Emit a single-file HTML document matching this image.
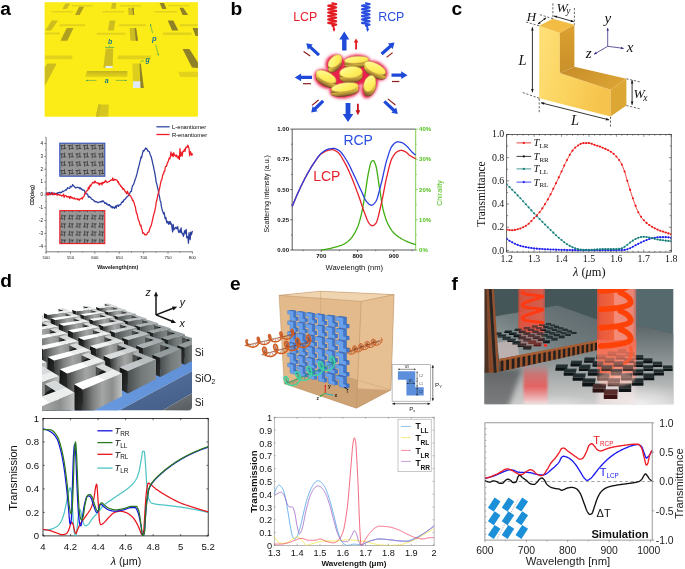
<!DOCTYPE html>
<html><head><meta charset="utf-8"><title>Figure</title>
<style>html,body{margin:0;padding:0;background:#fff}svg{display:block}text{white-space:pre}</style></head>
<body><svg width="685" height="569" viewBox="0 0 685 569">
<defs><linearGradient id="gaSlot" x1="0" y1="0" x2="0" y2="1"><stop offset="0" stop-color="#c4b41e"/><stop offset="1" stop-color="#e6d61a"/></linearGradient><filter id="fbB1" x="-20%" y="-20%" width="140%" height="140%"><feGaussianBlur stdDeviation="0.9"/></filter><filter id="fbB2" x="-30%" y="-30%" width="160%" height="160%"><feGaussianBlur stdDeviation="1.8"/></filter><radialGradient id="gbGlow"><stop offset="0" stop-color="#f03050" stop-opacity="0.95"/><stop offset="0.55" stop-color="#f4506a" stop-opacity="0.85"/><stop offset="0.8" stop-color="#f88aa0" stop-opacity="0.5"/><stop offset="1" stop-color="#ffd0d8" stop-opacity="0"/></radialGradient><linearGradient id="gbTop" x1="0" y1="0" x2="1" y2="1"><stop offset="0" stop-color="#fffba8"/><stop offset="0.55" stop-color="#fff060"/><stop offset="1" stop-color="#f6dc48"/></linearGradient><linearGradient id="gbSide" x1="0" y1="0" x2="0" y2="1"><stop offset="0" stop-color="#f0dc44"/><stop offset="0.35" stop-color="#e6cc3e"/><stop offset="0.6" stop-color="#c9a83a"/><stop offset="0.85" stop-color="#a07a32"/><stop offset="1" stop-color="#7a4e2a"/></linearGradient><linearGradient id="gcFront" x1="0" y1="0" x2="1" y2="0.3"><stop offset="0" stop-color="#ffe07a"/><stop offset="0.5" stop-color="#fbd460"/><stop offset="1" stop-color="#f6c44c"/></linearGradient><linearGradient id="gcSide" x1="0" y1="0" x2="0" y2="1"><stop offset="0" stop-color="#dca130"/><stop offset="1" stop-color="#c98f2a"/></linearGradient><linearGradient id="gcTop2" x1="0" y1="0" x2="1" y2="0.4"><stop offset="0" stop-color="#c58c2a"/><stop offset="1" stop-color="#dba233"/></linearGradient><clipPath id="clipDI"><path d="M42,296 H192 V406.5 Q192,410.4 188,410.4 H42 Z"/></clipPath><linearGradient id="gdSide" x1="0" y1="0" x2="1" y2="0"><stop offset="0" stop-color="#3a3c3c"/><stop offset="0.25" stop-color="#7c7e7e"/><stop offset="0.5" stop-color="#a4a6a6"/><stop offset="0.75" stop-color="#8c8e8e"/><stop offset="1" stop-color="#c0c2c2"/></linearGradient><linearGradient id="gdSideF" x1="0" y1="0" x2="1" y2="0"><stop offset="0" stop-color="#4a4e4e"/><stop offset="0.5" stop-color="#747a7a"/><stop offset="1" stop-color="#868c8c"/></linearGradient><linearGradient id="gdEnd" x1="0" y1="0" x2="1" y2="1"><stop offset="0" stop-color="#101010"/><stop offset="1" stop-color="#303232"/></linearGradient><linearGradient id="gdB1" x1="0" y1="1" x2="1" y2="0"><stop offset="0" stop-color="#6c9de2"/><stop offset="1" stop-color="#5f8fd6"/></linearGradient><linearGradient id="gdB2" x1="0" y1="0" x2="0.5" y2="1"><stop offset="0" stop-color="#55749f"/><stop offset="1" stop-color="#46608a"/></linearGradient><linearGradient id="gdB3" x1="0" y1="0" x2="0.5" y2="1"><stop offset="0" stop-color="#70787e"/><stop offset="1" stop-color="#5c6064"/></linearGradient><clipPath id="clipFI"><rect x="484.4" y="288.9" width="189" height="115.4"/></clipPath><filter id="fb1" x="-20%" y="-20%" width="140%" height="140%"><feGaussianBlur stdDeviation="1.1"/></filter><filter id="fb2" x="-30%" y="-30%" width="160%" height="160%"><feGaussianBlur stdDeviation="2.6"/></filter><filter id="fb05" x="-10%" y="-10%" width="120%" height="120%"><feGaussianBlur stdDeviation="0.45"/></filter><linearGradient id="gfFloor" x1="0" y1="0" x2="0" y2="1"><stop offset="0" stop-color="#5b6567"/><stop offset="0.35" stop-color="#80888a"/><stop offset="0.75" stop-color="#b4b6b6"/><stop offset="1" stop-color="#cfcfcf"/></linearGradient><linearGradient id="gfBeamR" x1="0" y1="0" x2="1" y2="0"><stop offset="0" stop-color="#e8503a" stop-opacity="0.75"/><stop offset="0.08" stop-color="#f05a3a" stop-opacity="0.95"/><stop offset="0.42" stop-color="#f2643e"/><stop offset="0.45" stop-color="#f58c78"/><stop offset="0.92" stop-color="#f08878" stop-opacity="0.95"/><stop offset="1" stop-color="#d87a70" stop-opacity="0.7"/></linearGradient><linearGradient id="gfBeamL" x1="0" y1="0" x2="1" y2="0"><stop offset="0" stop-color="#d84a38" stop-opacity="0.7"/><stop offset="0.1" stop-color="#e2523c" stop-opacity="0.92"/><stop offset="0.9" stop-color="#e0604c" stop-opacity="0.92"/><stop offset="1" stop-color="#c85a50" stop-opacity="0.7"/></linearGradient><linearGradient id="gfBeamFade" x1="0" y1="0" x2="0" y2="1"><stop offset="0" stop-color="#f26a50" stop-opacity="0.95"/><stop offset="0.45" stop-color="#f47a62" stop-opacity="0.8"/><stop offset="1" stop-color="#f8a090" stop-opacity="0"/></linearGradient><linearGradient id="gfFadeDown" x1="0" y1="0" x2="0" y2="1"><stop offset="0" stop-color="#fff"/><stop offset="0.72" stop-color="#fff"/><stop offset="1" stop-color="#000"/></linearGradient><linearGradient id="gfRefl" x1="0" y1="0" x2="0" y2="1"><stop offset="0" stop-color="#e84a48" stop-opacity="0"/><stop offset="0.25" stop-color="#ea4a48" stop-opacity="0.55"/><stop offset="0.55" stop-color="#f04c4c" stop-opacity="0.8"/><stop offset="0.8" stop-color="#f4a0a0" stop-opacity="0.8"/><stop offset="1" stop-color="#f6eaea" stop-opacity="0.9"/></linearGradient><linearGradient id="gfMirFloor" x1="1" y1="0" x2="0" y2="1"><stop offset="0" stop-color="#5a6669"/><stop offset="0.55" stop-color="#727e80"/><stop offset="1" stop-color="#a0a8a8"/></linearGradient><radialGradient id="gfSpot" cx="0.5" cy="0.5" r="0.5"><stop offset="0" stop-color="#ffffff" stop-opacity="0.95"/><stop offset="0.5" stop-color="#f4f0f0" stop-opacity="0.6"/><stop offset="1" stop-color="#e0e0e0" stop-opacity="0"/></radialGradient></defs>
<rect width="685" height="569" fill="#fff"/>
<text x="0.2" y="14.8" font-family='"Liberation Sans", sans-serif' font-size="19.2" fill="#000" text-anchor="start" font-weight="bold" font-style="normal" >a</text>
<text x="230.4" y="15" font-family='"Liberation Sans", sans-serif' font-size="19.2" fill="#000" text-anchor="start" font-weight="bold" font-style="normal" >b</text>
<text x="451.6" y="14.9" font-family='"Liberation Sans", sans-serif' font-size="19.2" fill="#000" text-anchor="start" font-weight="bold" font-style="normal" >c</text>
<text x="0.2" y="286.5" font-family='"Liberation Sans", sans-serif' font-size="19.2" fill="#000" text-anchor="start" font-weight="bold" font-style="normal" >d</text>
<text x="230" y="290.1" font-family='"Liberation Sans", sans-serif' font-size="19.2" fill="#000" text-anchor="start" font-weight="bold" font-style="normal" >e</text>
<text x="451.5" y="290" font-family='"Liberation Sans", sans-serif' font-size="19.2" fill="#000" text-anchor="start" font-weight="bold" font-style="normal" >f</text>
<g id="pa">
<rect x="44.6" y="2.2" width="153.3" height="114.5" fill="#fbec17" />
<clipPath id="clipA"><rect x="44.6" y="2.2" width="153.3" height="114.5"/></clipPath>
<g clip-path="url(#clipA)">
<polygon points="72.2,5 92.7,5 92.3,6.5 71.6,6.5" fill="#e2d21b" />
<polygon points="51.8,10.9 72.9,10.9 72.5,12.4 51.2,12.4" fill="#e2d21b" />
<polygon points="120.6,5 141,5 140.6,6.5 120,6.5" fill="#e2d21b" />
<polygon points="102.6,10.9 124.3,10.9 123.9,12.4 102,12.4" fill="#e2d21b" />
<polygon points="168.3,5 189.4,5 189,6.2 167.7,6.2" fill="#e2d21b" />
<polygon points="154.6,10.9 177,10.9 176.6,12.4 154,12.4" fill="#e2d21b" />
<polygon points="59.8,24.2 85.3,24.2 84.9,26.3 59.2,26.3" fill="#e2d21b" />
<polygon points="45.2,32.5 59.9,32.5 59.5,34.5 44.6,34.5" fill="#e2d21b" />
<polygon points="119.3,24.2 146,24.2 145.6,26.3 118.7,26.3" fill="#e2d21b" />
<polygon points="97.1,32.7 125.5,32.7 125.1,34.7 96.5,34.7" fill="#e2d21b" />
<polygon points="180.1,24.2 198,24.2 197.6,26.3 179.5,26.3" fill="#e2d21b" />
<polygon points="163.4,32.5 191.9,32.5 191.5,35 162.8,35" fill="#e2d21b" />
<polygon points="45.2,55.4 72.5,55.4 72.1,59.2 44.6,59.2" fill="#e2d21b" />
<polygon points="118.1,55.4 151,55.4 150.6,59.3 117.5,59.3" fill="#e2d21b" />
<polygon points="87.1,71.1 127.4,71.1 127.4,77.1 85.3,77.1" fill="url(#gaSlot)" />
<polygon points="178.3,71.7 198,71.7 198,77.1 180.1,77.1" fill="#e2d21b" />
<polygon points="65.4,3.5 70.4,3.5 66.7,8.9 62.3,8.9" fill="#cdbd20" />
<polygon points="79.1,6.8 84,6.8 79.7,15.1 75,15.1" fill="#b0a01f" />
<polygon points="112,3.1 116.3,3.1 115.7,8.7 111,8.7" fill="#cdbd20" />
<polygon points="128,7.7 133.6,7.7 134.2,15.1 128.6,15.1" fill="#cdbd20" />
<polygon points="132.2,7.7 133.6,7.7 134.2,15.1 133.2,15.1" fill="#8f8128" />
<polygon points="159.6,3.1 164,3.1 166.5,8.9 162.3,8.9" fill="#8f8128" />
<polygon points="179.5,7.7 183.2,7.7 188.2,14.9 182.6,14.9" fill="#8f8128" />
<polygon points="51.8,20.5 58,20.5 51.2,30.4 45.2,30.4" fill="#cdbd20" />
<polygon points="66.7,27.9 73.5,27.9 67.3,40.7 60.5,40.7" fill="#b0a01f" />
<polygon points="109.5,20.5 115.4,20.5 113.8,30.4 108,30.4" fill="#cdbd20" />
<polygon points="129.6,27.9 136.1,27.9 138,40.7 130.5,40.7" fill="#cdbd20" />
<polygon points="134.6,27.9 136.1,27.9 138,40.7 135.8,40.7" fill="#8f8128" />
<polygon points="167.7,20.5 173.3,20.5 178.3,30.4 172.1,30.4" fill="#8f8128" />
<polygon points="192.5,27.9 198,27.9 198,36 195.6,36" fill="#8f8128" />
<polygon points="182.6,49 189.4,49 198,62.5 198,68 192,67.4" fill="#8f8128" />
<polygon points="47.4,63.4 56.7,63.4 44.6,86.6 44.6,67.4" fill="#cdbd20" />
<polygon points="105.8,48.4 113.2,48.4 112.6,68 103.3,68" fill="#cdbd20" />
<polygon points="132.4,63.4 140.4,63.4 143.8,87.9 133,87.9" fill="#ddcd1c" />
<polygon points="139.6,63.4 140.8,63.4 143.8,87.9 140.4,87.9" fill="#8f8128" />
<polygon points="98.3,104.6 108.9,104.6 108.2,116.7 95.8,116.7" fill="#d6c61d" />
<polygon points="98.3,104.6 101,104.6 99,116.7 95.8,116.7" fill="#cdbd20" />
<polygon points="105.6,65.9 112.6,65.9 112.6,68 105.2,68" fill="#e6eefc" />
<polygon points="133,81.3 140.2,81.3 140.4,87.9 133,87.9" fill="#dfe9f8" />
</g>
<text x="110.1" y="44.3" font-family='"Liberation Sans", sans-serif' font-size="7" fill="#1a7a8a" text-anchor="middle" font-weight="bold" font-style="italic" >b</text>
<line x1="105.1" y1="47.4" x2="114.2" y2="47.4" stroke="#1d8f6a" stroke-width="0.6" />
<line x1="109.7" y1="45.4" x2="109.7" y2="47.4" stroke="#1d8f6a" stroke-width="0.5" />
<text x="154.3" y="41" font-family='"Liberation Sans", sans-serif' font-size="7.5" fill="#1c6fa0" text-anchor="middle" font-weight="bold" font-style="italic" >p</text>
<line x1="150.4" y1="24.2" x2="152.6" y2="33" stroke="#1d8f6a" stroke-width="0.5" />
<line x1="155.6" y1="44.5" x2="158.4" y2="55.2" stroke="#1d8f6a" stroke-width="0.5" />
<polygon points="150.3,23.8 151.42,25.38 150.06,25.72" fill="#1d8f6a" />
<polygon points="158.5,55.6 157.38,54.02 158.74,53.68" fill="#1d8f6a" />
<text x="147.6" y="62.3" font-family='"Liberation Sans", sans-serif' font-size="7" fill="#1a7a8a" text-anchor="middle" font-weight="bold" font-style="italic" >g</text>
<line x1="140.4" y1="61.2" x2="144.2" y2="61" stroke="#1d8f6a" stroke-width="0.5" />
<text x="106.6" y="82.6" font-family='"Liberation Sans", sans-serif' font-size="7" fill="#1a7a8a" text-anchor="middle" font-weight="bold" font-style="italic" >a</text>
<line x1="86.3" y1="80.4" x2="96.5" y2="80.4" stroke="#1d8f6a" stroke-width="0.5" />
<line x1="115.7" y1="80.4" x2="126.4" y2="80.4" stroke="#1d8f6a" stroke-width="0.5" />
<polygon points="85.7,80.4 87.5,79.7 87.5,81.1" fill="#1d8f6a" />
<polygon points="127,80.4 125.2,81.1 125.2,79.7" fill="#1d8f6a" />
<line x1="46.1" y1="137.3" x2="46.1" y2="251.8" stroke="#222" stroke-width="0.6" />
<line x1="46.1" y1="251.8" x2="192.7" y2="251.8" stroke="#222" stroke-width="0.6" />
<line x1="44.3" y1="246.26" x2="46.1" y2="246.26" stroke="#222" stroke-width="0.5" />
<text x="43.1" y="247.66" font-family='"Liberation Sans", sans-serif' font-size="4.5" fill="#111" text-anchor="end" font-weight="normal" font-style="normal" >-4</text>
<line x1="44.3" y1="233.42" x2="46.1" y2="233.42" stroke="#222" stroke-width="0.5" />
<text x="43.1" y="234.82" font-family='"Liberation Sans", sans-serif' font-size="4.5" fill="#111" text-anchor="end" font-weight="normal" font-style="normal" >-3</text>
<line x1="44.3" y1="220.58" x2="46.1" y2="220.58" stroke="#222" stroke-width="0.5" />
<text x="43.1" y="221.98" font-family='"Liberation Sans", sans-serif' font-size="4.5" fill="#111" text-anchor="end" font-weight="normal" font-style="normal" >-2</text>
<line x1="44.3" y1="207.74" x2="46.1" y2="207.74" stroke="#222" stroke-width="0.5" />
<text x="43.1" y="209.14" font-family='"Liberation Sans", sans-serif' font-size="4.5" fill="#111" text-anchor="end" font-weight="normal" font-style="normal" >-1</text>
<line x1="44.3" y1="194.9" x2="46.1" y2="194.9" stroke="#222" stroke-width="0.5" />
<text x="43.1" y="196.3" font-family='"Liberation Sans", sans-serif' font-size="4.5" fill="#111" text-anchor="end" font-weight="normal" font-style="normal" >0</text>
<line x1="44.3" y1="182.06" x2="46.1" y2="182.06" stroke="#222" stroke-width="0.5" />
<text x="43.1" y="183.46" font-family='"Liberation Sans", sans-serif' font-size="4.5" fill="#111" text-anchor="end" font-weight="normal" font-style="normal" >1</text>
<line x1="44.3" y1="169.22" x2="46.1" y2="169.22" stroke="#222" stroke-width="0.5" />
<text x="43.1" y="170.62" font-family='"Liberation Sans", sans-serif' font-size="4.5" fill="#111" text-anchor="end" font-weight="normal" font-style="normal" >2</text>
<line x1="44.3" y1="156.38" x2="46.1" y2="156.38" stroke="#222" stroke-width="0.5" />
<text x="43.1" y="157.78" font-family='"Liberation Sans", sans-serif' font-size="4.5" fill="#111" text-anchor="end" font-weight="normal" font-style="normal" >3</text>
<line x1="44.3" y1="143.54" x2="46.1" y2="143.54" stroke="#222" stroke-width="0.5" />
<text x="43.1" y="144.94" font-family='"Liberation Sans", sans-serif' font-size="4.5" fill="#111" text-anchor="end" font-weight="normal" font-style="normal" >4</text>
<line x1="45.1" y1="252.68" x2="46.1" y2="252.68" stroke="#222" stroke-width="0.4" />
<line x1="45.1" y1="239.84" x2="46.1" y2="239.84" stroke="#222" stroke-width="0.4" />
<line x1="45.1" y1="227" x2="46.1" y2="227" stroke="#222" stroke-width="0.4" />
<line x1="45.1" y1="214.16" x2="46.1" y2="214.16" stroke="#222" stroke-width="0.4" />
<line x1="45.1" y1="201.32" x2="46.1" y2="201.32" stroke="#222" stroke-width="0.4" />
<line x1="45.1" y1="188.48" x2="46.1" y2="188.48" stroke="#222" stroke-width="0.4" />
<line x1="45.1" y1="175.64" x2="46.1" y2="175.64" stroke="#222" stroke-width="0.4" />
<line x1="45.1" y1="162.8" x2="46.1" y2="162.8" stroke="#222" stroke-width="0.4" />
<line x1="45.1" y1="149.96" x2="46.1" y2="149.96" stroke="#222" stroke-width="0.4" />
<line x1="45.1" y1="137.12" x2="46.1" y2="137.12" stroke="#222" stroke-width="0.4" />
<line x1="46.1" y1="251.8" x2="46.1" y2="253.8" stroke="#222" stroke-width="0.5" />
<text x="46.1" y="258.6" font-family='"Liberation Sans", sans-serif' font-size="4.3" fill="#111" text-anchor="middle" font-weight="normal" font-style="normal" >500</text>
<line x1="70.48" y1="251.8" x2="70.48" y2="253.8" stroke="#222" stroke-width="0.5" />
<text x="70.48" y="258.6" font-family='"Liberation Sans", sans-serif' font-size="4.3" fill="#111" text-anchor="middle" font-weight="normal" font-style="normal" >550</text>
<line x1="94.87" y1="251.8" x2="94.87" y2="253.8" stroke="#222" stroke-width="0.5" />
<text x="94.87" y="258.6" font-family='"Liberation Sans", sans-serif' font-size="4.3" fill="#111" text-anchor="middle" font-weight="normal" font-style="normal" >600</text>
<line x1="119.25" y1="251.8" x2="119.25" y2="253.8" stroke="#222" stroke-width="0.5" />
<text x="119.25" y="258.6" font-family='"Liberation Sans", sans-serif' font-size="4.3" fill="#111" text-anchor="middle" font-weight="normal" font-style="normal" >650</text>
<line x1="143.63" y1="251.8" x2="143.63" y2="253.8" stroke="#222" stroke-width="0.5" />
<text x="143.63" y="258.6" font-family='"Liberation Sans", sans-serif' font-size="4.3" fill="#111" text-anchor="middle" font-weight="normal" font-style="normal" >700</text>
<line x1="168.02" y1="251.8" x2="168.02" y2="253.8" stroke="#222" stroke-width="0.5" />
<text x="168.02" y="258.6" font-family='"Liberation Sans", sans-serif' font-size="4.3" fill="#111" text-anchor="middle" font-weight="normal" font-style="normal" >750</text>
<line x1="192.4" y1="251.8" x2="192.4" y2="253.8" stroke="#222" stroke-width="0.5" />
<text x="192.4" y="258.6" font-family='"Liberation Sans", sans-serif' font-size="4.3" fill="#111" text-anchor="middle" font-weight="normal" font-style="normal" >800</text>
<line x1="58.29" y1="251.8" x2="58.29" y2="252.9" stroke="#222" stroke-width="0.4" />
<line x1="82.68" y1="251.8" x2="82.68" y2="252.9" stroke="#222" stroke-width="0.4" />
<line x1="107.06" y1="251.8" x2="107.06" y2="252.9" stroke="#222" stroke-width="0.4" />
<line x1="131.44" y1="251.8" x2="131.44" y2="252.9" stroke="#222" stroke-width="0.4" />
<line x1="155.82" y1="251.8" x2="155.82" y2="252.9" stroke="#222" stroke-width="0.4" />
<line x1="180.21" y1="251.8" x2="180.21" y2="252.9" stroke="#222" stroke-width="0.4" />
<text x="117.7" y="269.3" font-family='"Liberation Sans", sans-serif' font-size="5.3" fill="#111" text-anchor="middle" font-weight="bold" font-style="normal" >Wavelength(nm)</text>
<text x="0" y="0" font-family='"Liberation Sans", sans-serif' font-size="5.3" fill="#111" text-anchor="middle" font-weight="bold" font-style="normal" transform="translate(34.2,195.3) rotate(-90)" >CD(deg)</text>
<line x1="156.4" y1="126.8" x2="169.6" y2="126.8" stroke="#3048a8" stroke-width="1.3" />
<text x="172" y="128.8" font-family='"Liberation Sans", sans-serif' font-size="5.8" fill="#000" text-anchor="start" font-weight="normal" font-style="normal" >L-enantiomer</text>
<line x1="156.4" y1="134.5" x2="169.6" y2="134.5" stroke="#ee1c25" stroke-width="1.3" />
<text x="172" y="136.6" font-family='"Liberation Sans", sans-serif' font-size="5.8" fill="#000" text-anchor="start" font-weight="normal" font-style="normal" >R-enantiomer</text>
<polyline points="46.1,192.57 46.66,193.95 47.23,193.85 47.79,194.16 48.36,192.88 48.92,194.88 49.49,192.26 50.05,193.86 50.62,193.16 51.18,193.52 51.75,192.44 52.31,194.73 52.88,193.65 53.44,193.74 54.01,192.81 54.57,194.28 55.14,193.71 55.7,194.18 56.27,193.57 56.83,193.16 57.4,194.14 57.96,192.55 58.53,192.53 59.09,192.6 59.66,192.14 60.22,192.95 60.79,192.39 61.35,192.69 61.92,192 62.48,191.2 63.05,191.67 63.61,191.15 64.18,191.01 64.74,190.78 65.31,190.36 65.87,189.63 66.44,190.05 67,188.88 67.56,187.67 68.13,187.96 68.69,188.26 69.26,188.41 69.82,188.02 70.39,186.16 70.95,186.88 71.52,186.93 72.08,186.04 72.65,184.59 73.21,185.87 73.78,185.81 74.34,186.39 74.91,187.2 75.47,187.97 76.04,187.64 76.6,187.7 77.17,187.31 77.73,187.27 78.3,187.33 78.86,187.87 79.43,187.64 79.99,188.87 80.56,187.82 81.12,188.6 81.69,189.5 82.25,189.43 82.82,190.27 83.38,190 83.95,190.27 84.51,190.37 85.08,193.19 85.64,193.76 86.21,193.74 86.77,193.92 87.34,194.09 87.9,195.09 88.46,197.22 89.03,196.72 89.59,196.57 90.16,197.47 90.72,197.63 91.29,198.76 91.85,199.23 92.42,199.44 92.98,199.74 93.55,200.3 94.11,200.75 94.68,201.63 95.24,201.33 95.81,201.89 96.37,201.6 96.94,201.78 97.5,202.48 98.07,202.74 98.63,202.74 99.2,201.86 99.76,201.91 100.33,202 100.89,201.56 101.46,201.81 102.02,200.88 102.59,201.67 103.15,200.86 103.72,201.76 104.28,202.02 104.85,203.43 105.41,202.91 105.98,202.84 106.54,204.23 107.11,204.08 107.67,204.19 108.24,205.39 108.8,204.6 109.36,204.56 109.93,205.97 110.49,205.56 111.06,207.02 111.62,206.59 112.19,207.98 112.75,206.55 113.32,207.26 113.88,207.71 114.45,208.24 115.01,206.77 115.58,206 116.14,208.07 116.71,205.72 117.27,205.18 117.84,205.74 118.4,206.44 118.97,204.8 119.53,205.08 120.1,204.88 120.66,204.74 121.23,203 121.79,202.21 122.36,202.45 122.92,201.06 123.49,201.47 124.05,199.6 124.62,199.51 125.18,199.12 125.75,198.54 126.31,197.4 126.88,196.93 127.44,196.5 128.01,196.12 128.57,195.45 129.14,194.3 129.7,193.55 130.26,192.07 130.83,191.41 131.39,191.44 131.96,187.85 132.52,185.67 133.09,185.28 133.65,184.05 134.22,182.44 134.78,180.72 135.35,178.84 135.91,177.72 136.48,175.42 137.04,173.71 137.61,170.81 138.17,169.02 138.74,166.4 139.3,164.69 139.87,161.75 140.43,160.12 141,156.88 141.56,157.75 142.13,155.22 142.69,152.65 143.26,150.29 143.82,151.12 144.39,150.09 144.95,149.53 145.52,148.01 146.08,148.86 146.65,148.45 147.21,149.64 147.78,151 148.34,150.8 148.91,151.52 149.47,152.03 150.04,154.13 150.6,155.83 151.16,156.67 151.73,158.93 152.29,161.34 152.86,164.2 153.42,166.08 153.99,169.42 154.55,171.47 155.12,175.07 155.68,178.36 156.25,182.62 156.81,183.88 157.38,186.64 157.94,189.02 158.51,191.55 159.07,195.25 159.64,197.23 160.2,200.79 160.77,201.61 161.33,206.11 161.9,208.71 162.46,210.76 163.03,212.05 163.59,214.02 164.16,212.47 164.72,216.31 165.29,218.89 165.85,217.3 166.42,220.86 166.98,223.14 167.55,221.31 168.11,222.3 168.68,224.24 169.24,221.52 169.81,223.8 170.37,221.54 170.94,224.3 171.5,223.82 172.06,228.14 172.63,231.87 173.19,224.4 173.76,229.99 174.32,228.39 174.89,228.81 175.45,227.5 176.02,227.18 176.58,228.54 177.15,228.7 177.71,226.7 178.28,230.84 178.84,232.65 179.41,231.66 179.97,229.89 180.54,232.41 181.1,227.94 181.67,232.75 182.23,233.74 182.8,233.41 183.36,236.38 183.93,234.72 184.49,230.77 185.06,230.71 185.62,233.57 186.19,229.38 186.75,237.81 187.32,236.57 187.88,236.8 188.45,243.14 189.01,232.54 189.58,236.38 190.14,239.66 190.71,232.18 191.27,234.88 191.84,233.2 192.4,230.97" fill="none" stroke="#2a3f9e" stroke-width="1.25" stroke-linejoin="round" />
<polyline points="46.1,193.88 46.66,193.67 47.23,195.02 47.79,192.62 48.36,194.85 48.92,194.27 49.49,193.43 50.05,194.59 50.62,194.51 51.18,194.45 51.75,193.56 52.31,192.48 52.88,193.97 53.44,194.76 54.01,193.75 54.57,194.53 55.14,194.21 55.7,193.49 56.27,194.78 56.83,194.35 57.4,194.98 57.96,194.59 58.53,194.39 59.09,195.27 59.66,194.94 60.22,194.96 60.79,195.32 61.35,195.78 61.92,196.07 62.48,195.4 63.05,195.63 63.61,194.18 64.18,197.34 64.74,195.87 65.31,195.87 65.87,195.38 66.44,196.08 67,197.09 67.56,196.7 68.13,196.5 68.69,197.2 69.26,196.65 69.82,198.49 70.39,196.33 70.95,196.65 71.52,197.96 72.08,197.5 72.65,198.01 73.21,198.72 73.78,198.28 74.34,197.84 74.91,198.88 75.47,199.02 76.04,199.01 76.6,198.88 77.17,198.5 77.73,199.8 78.3,199.03 78.86,199.09 79.43,200.24 79.99,199.11 80.56,198.72 81.12,198.43 81.69,197.91 82.25,199.09 82.82,197.31 83.38,197.07 83.95,196.61 84.51,194.32 85.08,193.2 85.64,193.2 86.21,191.35 86.77,191.24 87.34,190.06 87.9,189.91 88.46,187.24 89.03,189.02 89.59,186.51 90.16,185.25 90.72,186.31 91.29,184.49 91.85,183.86 92.42,182.82 92.98,182.14 93.55,182.81 94.11,183.13 94.68,181.19 95.24,181.34 95.81,182.7 96.37,182.57 96.94,182.93 97.5,183.05 98.07,183.49 98.63,182.9 99.2,185.05 99.76,183.32 100.33,183.69 100.89,183.93 101.46,182.85 102.02,184.91 102.59,182.41 103.15,182.52 103.72,183.11 104.28,181.84 104.85,182.26 105.41,180.4 105.98,180.88 106.54,181.78 107.11,182.52 107.67,182.29 108.24,181.81 108.8,181.58 109.36,181.43 109.93,180.89 110.49,180.3 111.06,180.1 111.62,179.98 112.19,180.09 112.75,177.85 113.32,180.44 113.88,180.15 114.45,179.22 115.01,179.83 115.58,179.64 116.14,179.78 116.71,179.89 117.27,180.66 117.84,182.32 118.4,181.6 118.97,184.12 119.53,183.8 120.1,184.95 120.66,186.29 121.23,186.16 121.79,187.44 122.36,187.32 122.92,189.51 123.49,188.57 124.05,189.37 124.62,190.2 125.18,191.79 125.75,191.63 126.31,193.06 126.88,194 127.44,191.15 128.01,193.23 128.57,193.29 129.14,195.31 129.7,195.14 130.26,195.67 130.83,196.32 131.39,197.4 131.96,198.43 132.52,200.69 133.09,200.22 133.65,201.74 134.22,202.88 134.78,205.75 135.35,206.67 135.91,210.33 136.48,212.99 137.04,213.7 137.61,216.74 138.17,219.33 138.74,220.44 139.3,221.96 139.87,224.19 140.43,225.82 141,225.13 141.56,228.7 142.13,229.69 142.69,233.25 143.26,232.75 143.82,233.08 144.39,234.25 144.95,234.94 145.52,234.36 146.08,234.91 146.65,234.88 147.21,233.23 147.78,232.38 148.34,232.2 148.91,231.72 149.47,229.78 150.04,227.99 150.6,226.39 151.16,225.97 151.73,223.35 152.29,220.84 152.86,218.48 153.42,215.95 153.99,213.59 154.55,212.11 155.12,209.06 155.68,206.63 156.25,201.99 156.81,200.3 157.38,197.35 157.94,194.4 158.51,192.74 159.07,190.8 159.64,187.94 160.2,185.43 160.77,182.11 161.33,180.28 161.9,179.62 162.46,176.16 163.03,174.08 163.59,173.84 164.16,171.02 164.72,171.12 165.29,167.04 165.85,166.37 166.42,166.48 166.98,164.54 167.55,162.14 168.11,162.14 168.68,159.57 169.24,157.83 169.81,158.92 170.37,157.05 170.94,151.8 171.5,154.66 172.06,155.88 172.63,153.74 173.19,156.74 173.76,152.51 174.32,155.42 174.89,154.87 175.45,155.57 176.02,156.62 176.58,154.99 177.15,156.42 177.71,157.96 178.28,158.13 178.84,155.78 179.41,159.44 179.97,148.54 180.54,156.25 181.1,152.14 181.67,154.74 182.23,156.13 182.8,151.36 183.36,151.61 183.93,151.02 184.49,149.09 185.06,151.41 185.62,148.35 186.19,146.86 186.75,147.66 187.32,146.83 187.88,145.06 188.45,147.12 189.01,148.31 189.58,155.75 190.14,151.53 190.71,152.19 191.27,154.83 191.84,155.28 192.4,153.26" fill="none" stroke="#ee1c25" stroke-width="1.25" stroke-linejoin="round" />
<rect x="59.8" y="143.2" width="45" height="33" fill="#979797" stroke="#3050b8" stroke-width="1.1"/>
<path d="M60.2,137.3H63.8M61.8,137.3V141.7M64.6,136V140.3M62.8,140.3H66.2M67.8,137.3H71.4M69.4,137.3V141.7M72.2,136V140.3M70.4,140.3H73.8M75.4,137.3H79M77,137.3V141.7M79.8,136V140.3M78,140.3H81.4M83,137.3H86.6M84.6,137.3V141.7M87.4,136V140.3M85.6,140.3H89M90.6,137.3H94.2M92.2,137.3V141.7M95,136V140.3M93.2,140.3H96.6M98.2,137.3H101.8M99.8,137.3V141.7M102.6,136V140.3M100.8,140.3H104.2M60.2,145.6H63.8M61.8,145.6V150M64.6,144.3V148.6M62.8,148.6H66.2M67.8,145.6H71.4M69.4,145.6V150M72.2,144.3V148.6M70.4,148.6H73.8M75.4,145.6H79M77,145.6V150M79.8,144.3V148.6M78,148.6H81.4M83,145.6H86.6M84.6,145.6V150M87.4,144.3V148.6M85.6,148.6H89M90.6,145.6H94.2M92.2,145.6V150M95,144.3V148.6M93.2,148.6H96.6M98.2,145.6H101.8M99.8,145.6V150M102.6,144.3V148.6M100.8,148.6H104.2M60.2,153.9H63.8M61.8,153.9V158.3M64.6,152.6V156.9M62.8,156.9H66.2M67.8,153.9H71.4M69.4,153.9V158.3M72.2,152.6V156.9M70.4,156.9H73.8M75.4,153.9H79M77,153.9V158.3M79.8,152.6V156.9M78,156.9H81.4M83,153.9H86.6M84.6,153.9V158.3M87.4,152.6V156.9M85.6,156.9H89M90.6,153.9H94.2M92.2,153.9V158.3M95,152.6V156.9M93.2,156.9H96.6M98.2,153.9H101.8M99.8,153.9V158.3M102.6,152.6V156.9M100.8,156.9H104.2M60.2,162.2H63.8M61.8,162.2V166.6M64.6,160.9V165.2M62.8,165.2H66.2M67.8,162.2H71.4M69.4,162.2V166.6M72.2,160.9V165.2M70.4,165.2H73.8M75.4,162.2H79M77,162.2V166.6M79.8,160.9V165.2M78,165.2H81.4M83,162.2H86.6M84.6,162.2V166.6M87.4,160.9V165.2M85.6,165.2H89M90.6,162.2H94.2M92.2,162.2V166.6M95,160.9V165.2M93.2,165.2H96.6M98.2,162.2H101.8M99.8,162.2V166.6M102.6,160.9V165.2M100.8,165.2H104.2M60.2,170.5H63.8M61.8,170.5V174.9M64.6,169.2V173.5M62.8,173.5H66.2M67.8,170.5H71.4M69.4,170.5V174.9M72.2,169.2V173.5M70.4,173.5H73.8M75.4,170.5H79M77,170.5V174.9M79.8,169.2V173.5M78,173.5H81.4M83,170.5H86.6M84.6,170.5V174.9M87.4,169.2V173.5M85.6,173.5H89M90.6,170.5H94.2M92.2,170.5V174.9M95,169.2V173.5M93.2,173.5H96.6M98.2,170.5H101.8M99.8,170.5V174.9M102.6,169.2V173.5M100.8,173.5H104.2M60.2,178.8H63.8M61.8,178.8V183.2M64.6,177.5V181.8M62.8,181.8H66.2M67.8,178.8H71.4M69.4,178.8V183.2M72.2,177.5V181.8M70.4,181.8H73.8M75.4,178.8H79M77,178.8V183.2M79.8,177.5V181.8M78,181.8H81.4M83,178.8H86.6M84.6,178.8V183.2M87.4,177.5V181.8M85.6,181.8H89M90.6,178.8H94.2M92.2,178.8V183.2M95,177.5V181.8M93.2,181.8H96.6M98.2,178.8H101.8M99.8,178.8V183.2M102.6,177.5V181.8M100.8,181.8H104.2" stroke="#303030" stroke-width="0.75" fill="none" clip-path="url(#clipIn0)"/>
<clipPath id="clipIn0"><rect x="60.2" y="143.6" width="43.7" height="31.8"/></clipPath>
<rect x="59.8" y="210.6" width="45" height="33" fill="#979797" stroke="#ee1c25" stroke-width="1.1"/>
<path d="M66.2,207.7H62.6M64.6,207.7V212.1M61.8,206.4V210.7M63.6,210.7H60.2M73.8,207.7H70.2M72.2,207.7V212.1M69.4,206.4V210.7M71.2,210.7H67.8M81.4,207.7H77.8M79.8,207.7V212.1M77,206.4V210.7M78.8,210.7H75.4M89,207.7H85.4M87.4,207.7V212.1M84.6,206.4V210.7M86.4,210.7H83M96.6,207.7H93M95,207.7V212.1M92.2,206.4V210.7M94,210.7H90.6M104.2,207.7H100.6M102.6,207.7V212.1M99.8,206.4V210.7M101.6,210.7H98.2M66.2,215.8H62.6M64.6,215.8V220.2M61.8,214.5V218.8M63.6,218.8H60.2M73.8,215.8H70.2M72.2,215.8V220.2M69.4,214.5V218.8M71.2,218.8H67.8M81.4,215.8H77.8M79.8,215.8V220.2M77,214.5V218.8M78.8,218.8H75.4M89,215.8H85.4M87.4,215.8V220.2M84.6,214.5V218.8M86.4,218.8H83M96.6,215.8H93M95,215.8V220.2M92.2,214.5V218.8M94,218.8H90.6M104.2,215.8H100.6M102.6,215.8V220.2M99.8,214.5V218.8M101.6,218.8H98.2M66.2,223.9H62.6M64.6,223.9V228.3M61.8,222.6V226.9M63.6,226.9H60.2M73.8,223.9H70.2M72.2,223.9V228.3M69.4,222.6V226.9M71.2,226.9H67.8M81.4,223.9H77.8M79.8,223.9V228.3M77,222.6V226.9M78.8,226.9H75.4M89,223.9H85.4M87.4,223.9V228.3M84.6,222.6V226.9M86.4,226.9H83M96.6,223.9H93M95,223.9V228.3M92.2,222.6V226.9M94,226.9H90.6M104.2,223.9H100.6M102.6,223.9V228.3M99.8,222.6V226.9M101.6,226.9H98.2M66.2,232H62.6M64.6,232V236.4M61.8,230.7V235M63.6,235H60.2M73.8,232H70.2M72.2,232V236.4M69.4,230.7V235M71.2,235H67.8M81.4,232H77.8M79.8,232V236.4M77,230.7V235M78.8,235H75.4M89,232H85.4M87.4,232V236.4M84.6,230.7V235M86.4,235H83M96.6,232H93M95,232V236.4M92.2,230.7V235M94,235H90.6M104.2,232H100.6M102.6,232V236.4M99.8,230.7V235M101.6,235H98.2M66.2,240.1H62.6M64.6,240.1V244.5M61.8,238.8V243.1M63.6,243.1H60.2M73.8,240.1H70.2M72.2,240.1V244.5M69.4,238.8V243.1M71.2,243.1H67.8M81.4,240.1H77.8M79.8,240.1V244.5M77,238.8V243.1M78.8,243.1H75.4M89,240.1H85.4M87.4,240.1V244.5M84.6,238.8V243.1M86.4,243.1H83M96.6,240.1H93M95,240.1V244.5M92.2,238.8V243.1M94,243.1H90.6M104.2,240.1H100.6M102.6,240.1V244.5M99.8,238.8V243.1M101.6,243.1H98.2M66.2,248.2H62.6M64.6,248.2V252.6M61.8,246.9V251.2M63.6,251.2H60.2M73.8,248.2H70.2M72.2,248.2V252.6M69.4,246.9V251.2M71.2,251.2H67.8M81.4,248.2H77.8M79.8,248.2V252.6M77,246.9V251.2M78.8,251.2H75.4M89,248.2H85.4M87.4,248.2V252.6M84.6,246.9V251.2M86.4,251.2H83M96.6,248.2H93M95,248.2V252.6M92.2,246.9V251.2M94,251.2H90.6M104.2,248.2H100.6M102.6,248.2V252.6M99.8,246.9V251.2M101.6,251.2H98.2" stroke="#303030" stroke-width="0.75" fill="none" clip-path="url(#clipIn1)"/>
<clipPath id="clipIn1"><rect x="60.2" y="211" width="43.7" height="31.8"/></clipPath>
</g>
<g id="pb">
<text x="293.2" y="20.9" font-family='"Liberation Sans", sans-serif' font-size="12.4" fill="#e8202a" text-anchor="start" font-weight="normal" font-style="normal" >LCP</text>
<text x="378.2" y="20.9" font-family='"Liberation Sans", sans-serif' font-size="12.4" fill="#2a4fe0" text-anchor="start" font-weight="normal" font-style="normal" >RCP</text>
<polyline points="332.2,3.2 333.61,3.39 334.86,3.57 335.8,3.76 336.32,3.95 336.36,4.14 335.91,4.32 335.03,4.51 333.82,4.7 332.42,4.89 331,5.07 329.71,5.26 328.72,5.45 328.13,5.64 328.02,5.82 328.39,6.01 329.21,6.2 330.38,6.39 331.76,6.57 333.19,6.76 334.5,6.95 335.55,7.14 336.21,7.32 336.4,7.51 336.1,7.7 335.34,7.88 334.22,8.07 332.86,8.26 331.43,8.45 330.08,8.63 328.99,8.82 328.26,9.01 328,9.2 328.23,9.38 328.92,9.57 329.99,9.76 331.32,9.95 332.75,10.13 334.12,10.32 335.27,10.51 336.05,10.7 336.39,10.88 336.24,11.07 335.62,11.26 334.6,11.45 333.3,11.63 331.87,11.82 330.48,12.01 329.29,12.19 328.44,12.38 328.03,12.57 328.11,12.76 328.66,12.94 329.62,13.13 330.89,13.32 332.31,13.51 333.72,13.69 334.95,13.88 335.86,14.07 336.34,14.26 336.34,14.44 335.86,14.63 334.95,14.82 333.72,15.01 332.31,15.19 330.89,15.38 329.62,15.57 328.66,15.76 328.11,15.94 328.03,16.13 328.44,16.32 329.29,16.51 330.48,16.69 331.87,16.88 333.3,17.07 334.6,17.25 335.62,17.44 336.24,17.63 336.39,17.82 336.05,18 335.27,18.19 334.12,18.38 332.75,18.57 331.32,18.75 329.99,18.94 328.92,19.13 328.23,19.32 328,19.5 328.26,19.69 328.99,19.88 330.08,20.07 331.43,20.25 332.86,20.44 334.22,20.63 335.34,20.82 336.1,21 336.4,21.19 336.21,21.38 335.55,21.56 334.5,21.75 333.19,21.94 331.76,22.13 330.38,22.31 329.21,22.5 328.39,22.69 328.02,22.88 328.13,23.06 328.72,23.25 329.71,23.44 331,23.63 332.42,23.81 333.82,24 335.03,24.19 335.91,24.38 336.36,24.56 336.32,24.75 335.8,24.94 334.86,25.13 333.61,25.31 332.2,25.5 333.7,27 334,29.4" fill="none" stroke="#e31b23" stroke-width="1.8" stroke-linejoin="round" stroke-linecap="round"/><polygon points="334,31.9 332.5,28.7 335.5,28.7" fill="#e31b23" />
<polyline points="365.8,3.2 367.15,3.39 368.34,3.57 369.23,3.76 369.72,3.95 369.76,4.14 369.33,4.32 368.49,4.51 367.34,4.7 366.01,4.89 364.65,5.07 363.43,5.26 362.49,5.45 361.93,5.64 361.82,5.82 362.17,6.01 362.95,6.2 364.06,6.39 365.38,6.57 366.74,6.76 367.99,6.95 368.99,7.14 369.62,7.32 369.8,7.51 369.51,7.7 368.79,7.88 367.72,8.07 366.43,8.26 365.07,8.45 363.78,8.63 362.74,8.82 362.05,9.01 361.8,9.2 362.02,9.38 362.67,9.57 363.69,9.76 364.96,9.95 366.33,10.13 367.63,10.32 368.72,10.51 369.47,10.7 369.79,10.88 369.65,11.07 369.05,11.26 368.08,11.45 366.84,11.63 365.48,11.82 364.16,12.01 363.03,12.19 362.22,12.38 361.83,12.57 361.9,12.76 362.43,12.94 363.35,13.13 364.55,13.32 365.91,13.51 367.24,13.69 368.42,13.88 369.28,14.07 369.74,14.26 369.74,14.44 369.28,14.63 368.42,14.82 367.24,15.01 365.91,15.19 364.55,15.38 363.35,15.57 362.43,15.76 361.9,15.94 361.83,16.13 362.22,16.32 363.03,16.51 364.16,16.69 365.48,16.88 366.84,17.07 368.08,17.25 369.05,17.44 369.65,17.63 369.79,17.82 369.47,18 368.72,18.19 367.63,18.38 366.33,18.57 364.96,18.75 363.69,18.94 362.67,19.13 362.02,19.32 361.8,19.5 362.05,19.69 362.74,19.88 363.78,20.07 365.07,20.25 366.43,20.44 367.72,20.63 368.79,20.82 369.51,21 369.8,21.19 369.62,21.38 368.99,21.56 367.99,21.75 366.74,21.94 365.38,22.13 364.06,22.31 362.95,22.5 362.17,22.69 361.82,22.88 361.93,23.06 362.49,23.25 363.43,23.44 364.65,23.63 366.01,23.81 367.34,24 368.49,24.19 369.33,24.38 369.76,24.56 369.72,24.75 369.23,24.94 368.34,25.13 367.15,25.31 365.8,25.5 367.3,27 367.6,29.4" fill="none" stroke="#2a4fe0" stroke-width="1.8" stroke-linejoin="round" stroke-linecap="round"/><polygon points="367.6,31.9 366.1,28.7 369.1,28.7" fill="#2a4fe0" />
<g fill="#f9a0b6" opacity="0.75" filter="url(#fbB2)"><ellipse cx="356.5" cy="62.3" rx="14.8" ry="8.8" transform="rotate(-4 356.5 62.3)"/><ellipse cx="334.9" cy="63.7" rx="11" ry="10.1" transform="rotate(-42 334.9 63.7)"/><ellipse cx="375" cy="70.5" rx="14.4" ry="10.1" transform="rotate(26 375 70.5)"/><ellipse cx="326.2" cy="79.1" rx="13.8" ry="10.1" transform="rotate(27 326.2 79.1)"/><ellipse cx="351" cy="74.8" rx="14.2" ry="11.2" transform="rotate(-4 351 74.8)"/><ellipse cx="369.7" cy="86" rx="8.4" ry="13.8" transform="rotate(22 369.7 86)"/><ellipse cx="344.8" cy="89.7" rx="16.4" ry="9.7" transform="rotate(-8 344.8 89.7)"/><ellipse cx="350" cy="76" rx="22" ry="12"/></g>
<g fill="#e8204c" filter="url(#fbB1)"><ellipse cx="356.5" cy="62.3" rx="13.3" ry="7.3" transform="rotate(-4 356.5 62.3)"/><ellipse cx="334.9" cy="63.7" rx="9.5" ry="8.6" transform="rotate(-42 334.9 63.7)"/><ellipse cx="375" cy="70.5" rx="12.9" ry="8.6" transform="rotate(26 375 70.5)"/><ellipse cx="326.2" cy="79.1" rx="12.3" ry="8.6" transform="rotate(27 326.2 79.1)"/><ellipse cx="351" cy="74.8" rx="12.7" ry="9.7" transform="rotate(-4 351 74.8)"/><ellipse cx="369.7" cy="86" rx="6.9" ry="12.3" transform="rotate(22 369.7 86)"/><ellipse cx="344.8" cy="89.7" rx="14.9" ry="8.2" transform="rotate(-8 344.8 89.7)"/><ellipse cx="350" cy="76" rx="20" ry="10"/></g>
<ellipse cx="356.5" cy="64.8" rx="12" ry="3.5" transform="rotate(-4 356.5 64.8)" fill="#7a4a28"/><ellipse cx="356.5" cy="64.1" rx="12" ry="3.5" transform="rotate(-4 356.5 64.1)" fill="url(#gbSide)"/><polygon points="344.53,60.57 368.47,59.03 368.47,63.33 344.53,64.87" fill="url(#gbSide)" /><ellipse cx="356.5" cy="59.8" rx="12" ry="3.5" transform="rotate(-4 356.5 59.8)" fill="url(#gbTop)" stroke="#c9a050" stroke-width="0.5"/>
<ellipse cx="334.9" cy="66.2" rx="8.2" ry="4.8" transform="rotate(-42 334.9 66.2)" fill="#7a4a28"/><ellipse cx="334.9" cy="65.5" rx="8.2" ry="4.8" transform="rotate(-42 334.9 65.5)" fill="url(#gbSide)"/><polygon points="328.01,64.39 341.79,58.01 341.79,62.31 328.01,68.69" fill="url(#gbSide)" /><ellipse cx="334.9" cy="61.2" rx="8.2" ry="4.8" transform="rotate(-42 334.9 61.2)" fill="url(#gbTop)" stroke="#c9a050" stroke-width="0.5"/>
<ellipse cx="375" cy="73" rx="11.6" ry="4.8" transform="rotate(26 375 73)" fill="#7a4a28"/><ellipse cx="375" cy="72.3" rx="11.6" ry="4.8" transform="rotate(26 375 72.3)" fill="url(#gbSide)"/><polygon points="364.36,63.87 385.64,72.13 385.64,76.43 364.36,68.17" fill="url(#gbSide)" /><ellipse cx="375" cy="68" rx="11.6" ry="4.8" transform="rotate(26 375 68)" fill="url(#gbTop)" stroke="#c9a050" stroke-width="0.5"/>
<ellipse cx="326.2" cy="81.6" rx="11" ry="4.8" transform="rotate(27 326.2 81.6)" fill="#7a4a28"/><ellipse cx="326.2" cy="80.9" rx="11" ry="4.8" transform="rotate(27 326.2 80.9)" fill="url(#gbSide)"/><polygon points="316.16,72.65 336.24,80.55 336.24,84.85 316.16,76.95" fill="url(#gbSide)" /><ellipse cx="326.2" cy="76.6" rx="11" ry="4.8" transform="rotate(27 326.2 76.6)" fill="url(#gbTop)" stroke="#c9a050" stroke-width="0.5"/>
<ellipse cx="351" cy="77.4" rx="11.4" ry="5.8" transform="rotate(-4 351 77.4)" fill="#7a4a28"/><ellipse cx="351" cy="76.7" rx="11.4" ry="5.8" transform="rotate(-4 351 76.7)" fill="url(#gbSide)"/><polygon points="339.62,72.79 362.38,71.61 362.38,76.11 339.62,77.29" fill="url(#gbSide)" /><ellipse cx="351" cy="72.2" rx="11.4" ry="5.8" transform="rotate(-4 351 72.2)" fill="url(#gbTop)" stroke="#c9a050" stroke-width="0.5"/>
<ellipse cx="369.7" cy="88.4" rx="5.6" ry="8.6" transform="rotate(22 369.7 88.4)" fill="#7a4a28"/><ellipse cx="369.7" cy="87.7" rx="5.6" ry="8.6" transform="rotate(22 369.7 87.7)" fill="url(#gbSide)"/><polygon points="363.59,86.02 375.81,81.18 375.81,85.28 363.59,90.12" fill="url(#gbSide)" /><ellipse cx="369.7" cy="83.6" rx="5.6" ry="8.6" transform="rotate(22 369.7 83.6)" fill="url(#gbTop)" stroke="#c9a050" stroke-width="0.5"/>
<ellipse cx="344.8" cy="92.2" rx="13.6" ry="4.4" transform="rotate(-8 344.8 92.2)" fill="#7a4a28"/><ellipse cx="344.8" cy="91.5" rx="13.6" ry="4.4" transform="rotate(-8 344.8 91.5)" fill="url(#gbSide)"/><polygon points="331.32,88.89 358.28,85.51 358.28,89.81 331.32,93.19" fill="url(#gbSide)" /><ellipse cx="344.8" cy="87.2" rx="13.6" ry="4.4" transform="rotate(-8 344.8 87.2)" fill="url(#gbTop)" stroke="#c9a050" stroke-width="0.5"/>
<polygon points="346.5,50.5 346.5,39.6 349.3,39.6 344.3,31.4 339.3,39.6 342.1,39.6 342.1,50.5" fill="#1f49d8" />
<polygon points="357,49.4 357,42.4 358.5,42.4 356.1,38.4 353.7,42.4 355.2,42.4 355.2,49.4" fill="#e31b23" />
<polygon points="345.6,103 345.6,114 342.7,114 348,122 353.3,114 350.4,114 350.4,103" fill="#1f49d8" />
<polygon points="357,103.7 357,110.3 355.5,110.3 357.9,115.3 360.3,110.3 358.8,110.3 358.8,103.7" fill="#c4161c" />
<polygon points="312,75.8 301.1,75.8 301.1,73.5 294.8,77.4 301.1,81.3 301.1,79 312,79" fill="#1f49d8" />
<line x1="303" y1="83.7" x2="311" y2="83.7" stroke="#8e1c1c" stroke-width="1.2" />
<polygon points="391.5,76.8 401.2,76.8 401.2,79.1 407.5,75.2 401.2,71.3 401.2,73.6 391.5,73.6" fill="#1f49d8" />
<line x1="392" y1="81.5" x2="399.4" y2="81.5" stroke="#8e1c1c" stroke-width="1.2" />
<polygon points="320.09,54.03 311.41,45.89 312.77,44.43 306.3,43.3 307.85,49.69 309.22,48.23 317.91,56.37" fill="#1f49d8" />
<line x1="303.6" y1="51.6" x2="310.2" y2="56" stroke="#8e1c1c" stroke-width="1.2" />
<polygon points="382.66,55.2 391.44,47.44 392.76,48.94 394.5,42.6 387.99,43.54 389.32,45.04 380.54,52.8" fill="#1f49d8" />
<line x1="386.6" y1="57.4" x2="392.6" y2="52.6" stroke="#8e1c1c" stroke-width="1.2" />
<polygon points="322.08,99.66 314,107.6 312.6,106.18 311.2,112.6 317.65,111.31 316.24,109.88 324.32,101.94" fill="#1f49d8" />
<line x1="312" y1="105.4" x2="318.6" y2="100" stroke="#8e1c1c" stroke-width="1.2" />
<polygon points="383.2,102.47 392.7,111.4 391.33,112.85 397.8,114 396.26,107.61 394.89,109.07 385.4,100.13" fill="#1f49d8" />
<line x1="387.8" y1="98.9" x2="395.4" y2="105" stroke="#8e1c1c" stroke-width="1.2" />
<line x1="292.2" y1="129.1" x2="415.7" y2="129.1" stroke="#111" stroke-width="0.7" />
<line x1="292.2" y1="129.1" x2="292.2" y2="250" stroke="#111" stroke-width="0.7" />
<line x1="292.2" y1="250" x2="415.7" y2="250" stroke="#111" stroke-width="0.7" />
<line x1="415.7" y1="129.1" x2="415.7" y2="250" stroke="#5ec01e" stroke-width="0.8" />
<line x1="290.2" y1="250" x2="292.2" y2="250" stroke="#111" stroke-width="0.6" />
<text x="289" y="252" font-family='"Liberation Sans", sans-serif' font-size="6" fill="#111" text-anchor="end" font-weight="bold" font-style="normal" >0.00</text>
<line x1="290.2" y1="219.78" x2="292.2" y2="219.78" stroke="#111" stroke-width="0.6" />
<text x="289" y="221.78" font-family='"Liberation Sans", sans-serif' font-size="6" fill="#111" text-anchor="end" font-weight="bold" font-style="normal" >0.25</text>
<line x1="290.2" y1="189.55" x2="292.2" y2="189.55" stroke="#111" stroke-width="0.6" />
<text x="289" y="191.55" font-family='"Liberation Sans", sans-serif' font-size="6" fill="#111" text-anchor="end" font-weight="bold" font-style="normal" >0.50</text>
<line x1="290.2" y1="159.32" x2="292.2" y2="159.32" stroke="#111" stroke-width="0.6" />
<text x="289" y="161.32" font-family='"Liberation Sans", sans-serif' font-size="6" fill="#111" text-anchor="end" font-weight="bold" font-style="normal" >0.75</text>
<line x1="290.2" y1="129.1" x2="292.2" y2="129.1" stroke="#111" stroke-width="0.6" />
<text x="289" y="131.1" font-family='"Liberation Sans", sans-serif' font-size="6" fill="#111" text-anchor="end" font-weight="bold" font-style="normal" >1.00</text>
<line x1="291" y1="234.89" x2="292.2" y2="234.89" stroke="#111" stroke-width="0.5" />
<line x1="291" y1="204.66" x2="292.2" y2="204.66" stroke="#111" stroke-width="0.5" />
<line x1="291" y1="174.44" x2="292.2" y2="174.44" stroke="#111" stroke-width="0.5" />
<line x1="291" y1="144.21" x2="292.2" y2="144.21" stroke="#111" stroke-width="0.5" />
<line x1="415.7" y1="250" x2="417.7" y2="250" stroke="#4fbf1a" stroke-width="0.6" />
<text x="419.1" y="252" font-family='"Liberation Sans", sans-serif' font-size="6" fill="#4fbf1a" text-anchor="start" font-weight="bold" font-style="normal" >0%</text>
<line x1="415.7" y1="219.78" x2="417.7" y2="219.78" stroke="#4fbf1a" stroke-width="0.6" />
<text x="419.1" y="221.78" font-family='"Liberation Sans", sans-serif' font-size="6" fill="#4fbf1a" text-anchor="start" font-weight="bold" font-style="normal" >10%</text>
<line x1="415.7" y1="189.55" x2="417.7" y2="189.55" stroke="#4fbf1a" stroke-width="0.6" />
<text x="419.1" y="191.55" font-family='"Liberation Sans", sans-serif' font-size="6" fill="#4fbf1a" text-anchor="start" font-weight="bold" font-style="normal" >20%</text>
<line x1="415.7" y1="159.32" x2="417.7" y2="159.32" stroke="#4fbf1a" stroke-width="0.6" />
<text x="419.1" y="161.32" font-family='"Liberation Sans", sans-serif' font-size="6" fill="#4fbf1a" text-anchor="start" font-weight="bold" font-style="normal" >30%</text>
<line x1="415.7" y1="129.1" x2="417.7" y2="129.1" stroke="#4fbf1a" stroke-width="0.6" />
<text x="419.1" y="131.1" font-family='"Liberation Sans", sans-serif' font-size="6" fill="#4fbf1a" text-anchor="start" font-weight="bold" font-style="normal" >40%</text>
<line x1="415.7" y1="234.89" x2="416.9" y2="234.89" stroke="#4fbf1a" stroke-width="0.5" />
<line x1="415.7" y1="204.66" x2="416.9" y2="204.66" stroke="#4fbf1a" stroke-width="0.5" />
<line x1="415.7" y1="174.44" x2="416.9" y2="174.44" stroke="#4fbf1a" stroke-width="0.5" />
<line x1="415.7" y1="144.21" x2="416.9" y2="144.21" stroke="#4fbf1a" stroke-width="0.5" />
<line x1="321.26" y1="250" x2="321.26" y2="252" stroke="#111" stroke-width="0.6" />
<text x="321.26" y="258.2" font-family='"Liberation Sans", sans-serif' font-size="6.1" fill="#111" text-anchor="middle" font-weight="bold" font-style="normal" >700</text>
<line x1="357.58" y1="250" x2="357.58" y2="252" stroke="#111" stroke-width="0.6" />
<text x="357.58" y="258.2" font-family='"Liberation Sans", sans-serif' font-size="6.1" fill="#111" text-anchor="middle" font-weight="bold" font-style="normal" >800</text>
<line x1="393.91" y1="250" x2="393.91" y2="252" stroke="#111" stroke-width="0.6" />
<text x="393.91" y="258.2" font-family='"Liberation Sans", sans-serif' font-size="6.1" fill="#111" text-anchor="middle" font-weight="bold" font-style="normal" >900</text>
<line x1="303.1" y1="250" x2="303.1" y2="251.2" stroke="#111" stroke-width="0.5" />
<line x1="339.42" y1="250" x2="339.42" y2="251.2" stroke="#111" stroke-width="0.5" />
<line x1="375.74" y1="250" x2="375.74" y2="251.2" stroke="#111" stroke-width="0.5" />
<line x1="412.07" y1="250" x2="412.07" y2="251.2" stroke="#111" stroke-width="0.5" />
<text x="354.3" y="270" font-family='"Liberation Sans", sans-serif' font-size="7.6" fill="#111" text-anchor="middle" font-weight="normal" font-style="normal" >Wavelength (nm)</text>
<text x="0" y="0" font-family='"Liberation Sans", sans-serif' font-size="7" fill="#111" text-anchor="middle" font-weight="normal" font-style="normal" transform="translate(269.3,193.9) rotate(-90)" >Scattering intensity (a.u.)</text>
<text x="0" y="0" font-family='"Liberation Sans", sans-serif' font-size="7.1" fill="#4fbf1a" text-anchor="middle" font-weight="normal" font-style="normal" transform="translate(442.4,193) rotate(-90)" >Chirality</text>
<polyline points="321.26,250 321.73,249.94 322.21,249.88 322.68,249.81 323.16,249.74 323.63,249.67 324.11,249.59 324.58,249.52 325.06,249.44 325.53,249.35 326,249.27 326.48,249.18 326.95,249.1 327.43,249.01 327.9,248.91 328.38,248.82 328.85,248.72 329.33,248.63 329.8,248.52 330.28,248.42 330.75,248.31 331.22,248.19 331.7,248.08 332.17,247.96 332.65,247.84 333.12,247.71 333.6,247.59 334.07,247.46 334.55,247.33 335.02,247.19 335.5,247.06 335.97,246.93 336.45,246.79 336.92,246.66 337.39,246.52 337.87,246.39 338.34,246.25 338.82,246.11 339.29,245.97 339.77,245.82 340.24,245.66 340.72,245.5 341.19,245.33 341.67,245.15 342.14,244.96 342.61,244.76 343.09,244.54 343.56,244.31 344.04,244.07 344.51,243.8 344.99,243.52 345.46,243.22 345.94,242.9 346.41,242.56 346.89,242.21 347.36,241.83 347.84,241.44 348.31,241.04 348.78,240.61 349.26,240.17 349.73,239.71 350.21,239.23 350.68,238.73 351.16,238.19 351.63,237.61 352.11,237 352.58,236.34 353.06,235.65 353.53,234.91 354,234.14 354.48,233.32 354.95,232.47 355.43,231.58 355.9,230.65 356.38,229.68 356.85,228.66 357.33,227.61 357.8,226.51 358.28,225.27 358.75,223.89 359.23,222.38 359.7,220.75 360.17,219.03 360.65,217.21 361.12,215.31 361.6,213.29 362.07,211.06 362.55,208.64 363.02,206.08 363.5,203.42 363.97,200.69 364.45,197.93 364.92,195.17 365.39,192.23 365.87,189.07 366.34,185.81 366.82,182.54 367.29,179.37 367.77,176.42 368.24,173.79 368.72,171.5 369.19,169.24 369.67,167.04 370.14,165.04 370.62,163.38 371.09,162.19 371.56,161.55 372.04,161.1 372.51,160.75 372.99,160.56 373.46,160.61 373.94,161.09 374.41,161.93 374.89,163.03 375.36,164.3 375.84,165.64 376.31,167.47 376.78,169.91 377.26,172.8 377.73,175.99 378.21,179.32 378.68,182.63 379.16,185.78 379.63,188.69 380.11,191.71 380.58,194.81 381.06,197.91 381.53,200.93 382,203.78 382.48,206.38 382.95,208.66 383.43,210.64 383.9,212.49 384.38,214.22 384.85,215.84 385.33,217.34 385.8,218.74 386.28,220.05 386.75,221.26 387.23,222.39 387.7,223.45 388.17,224.45 388.65,225.39 389.12,226.28 389.6,227.12 390.07,227.91 390.55,228.67 391.02,229.4 391.5,230.1 391.97,230.77 392.45,231.4 392.92,231.99 393.39,232.54 393.87,233.04 394.34,233.5 394.82,233.94 395.29,234.36 395.77,234.77 396.24,235.16 396.72,235.53 397.19,235.89 397.67,236.24 398.14,236.58 398.62,236.9 399.09,237.22 399.56,237.52 400.04,237.82 400.51,238.12 400.99,238.4 401.46,238.69 401.94,238.97 402.41,239.24 402.89,239.5 403.36,239.76 403.84,240.01 404.31,240.26 404.78,240.5 405.26,240.73 405.73,240.96 406.21,241.18 406.68,241.4 407.16,241.61 407.63,241.81 408.11,242.01 408.58,242.2 409.06,242.39 409.53,242.57 410.01,242.75 410.48,242.93 410.95,243.1 411.43,243.27 411.9,243.43 412.38,243.59 412.85,243.74 413.33,243.89 413.8,244.04 414.28,244.18 414.75,244.31 415.23,244.44 415.7,244.56" fill="none" stroke="#3fae12" stroke-width="1.3" stroke-linejoin="round" />
<polyline points="292.2,206.48 292.82,204.93 293.44,203.41 294.06,201.9 294.68,200.41 295.3,198.94 295.92,197.49 296.54,196.05 297.16,194.63 297.79,193.23 298.41,191.86 299.03,190.5 299.65,189.16 300.27,187.83 300.89,186.52 301.51,185.23 302.13,183.95 302.75,182.69 303.37,181.44 303.99,180.22 304.61,179.01 305.23,177.82 305.85,176.65 306.47,175.51 307.09,174.38 307.72,173.26 308.34,172.16 308.96,171.06 309.58,169.98 310.2,168.92 310.82,167.88 311.44,166.86 312.06,165.87 312.68,164.9 313.3,163.96 313.92,163.06 314.54,162.16 315.16,161.26 315.78,160.36 316.4,159.47 317.02,158.59 317.64,157.75 318.27,156.94 318.89,156.18 319.51,155.47 320.13,154.84 320.75,154.28 321.37,153.81 321.99,153.38 322.61,152.96 323.23,152.57 323.85,152.2 324.47,151.86 325.09,151.54 325.71,151.24 326.33,150.97 326.95,150.73 327.57,150.52 328.19,150.34 328.82,150.19 329.44,150.04 330.06,149.9 330.68,149.79 331.3,149.7 331.92,149.66 332.54,149.67 333.16,149.77 333.78,149.94 334.4,150.18 335.02,150.48 335.64,150.82 336.26,151.19 336.88,151.59 337.5,152 338.12,152.47 338.75,153.07 339.37,153.78 339.99,154.6 340.61,155.51 341.23,156.5 341.85,157.54 342.47,158.62 343.09,159.74 343.71,160.86 344.33,161.99 344.95,163.1 345.57,164.23 346.19,165.42 346.81,166.66 347.43,167.95 348.05,169.27 348.67,170.63 349.3,172.03 349.92,173.45 350.54,174.89 351.16,176.35 351.78,177.82 352.4,179.31 353.02,180.83 353.64,182.39 354.26,183.99 354.88,185.62 355.5,187.28 356.12,188.95 356.74,190.65 357.36,192.36 357.98,194.08 358.6,195.81 359.23,197.53 359.85,199.27 360.47,201.08 361.09,202.94 361.71,204.81 362.33,206.68 362.95,208.52 363.57,210.31 364.19,212.02 364.81,213.64 365.43,215.22 366.05,216.83 366.67,218.42 367.29,219.92 367.91,221.28 368.53,222.44 369.15,223.34 369.78,224.08 370.4,224.77 371.02,225.35 371.64,225.72 372.26,225.81 372.88,225.68 373.5,225.38 374.12,224.95 374.74,224.42 375.36,223.81 375.98,223.1 376.6,221.93 377.22,220.26 377.84,218.19 378.46,215.82 379.08,213.23 379.71,210.51 380.33,207.77 380.95,205.09 381.57,202.46 382.19,199.6 382.81,196.53 383.43,193.32 384.05,190.06 384.67,186.82 385.29,183.66 385.91,180.67 386.53,177.92 387.15,175.33 387.77,172.72 388.39,170.12 389.01,167.6 389.63,165.21 390.26,163 390.88,161.04 391.5,159.37 392.12,158.07 392.74,156.98 393.36,155.96 393.98,155.02 394.6,154.17 395.22,153.41 395.84,152.74 396.46,152.18 397.08,151.73 397.7,151.38 398.32,151.08 398.94,150.8 399.56,150.56 400.18,150.38 400.81,150.28 401.43,150.27 402.05,150.36 402.67,150.54 403.29,150.78 403.91,151.05 404.53,151.34 405.15,151.64 405.77,152.02 406.39,152.48 407.01,153 407.63,153.54 408.25,154.1 408.87,154.64 409.49,155.15 410.11,155.61 410.74,156.01 411.36,156.4 411.98,156.77 412.6,157.13 413.22,157.48 413.84,157.82 414.46,158.13 415.08,158.44 415.7,158.72" fill="none" stroke="#e8202a" stroke-width="1.3" stroke-linejoin="round" />
<polyline points="292.2,206.48 292.82,204.93 293.44,203.41 294.06,201.9 294.68,200.41 295.3,198.94 295.92,197.49 296.54,196.05 297.16,194.63 297.79,193.23 298.41,191.86 299.03,190.5 299.65,189.16 300.27,187.83 300.89,186.52 301.51,185.23 302.13,183.95 302.75,182.69 303.37,181.44 303.99,180.22 304.61,179.01 305.23,177.82 305.85,176.65 306.47,175.51 307.09,174.38 307.72,173.27 308.34,172.17 308.96,171.09 309.58,170.02 310.2,168.97 310.82,167.93 311.44,166.92 312.06,165.92 312.68,164.95 313.3,163.99 313.92,163.06 314.54,162.13 315.16,161.19 315.78,160.25 316.4,159.31 317.02,158.38 317.64,157.48 318.27,156.62 318.89,155.8 319.51,155.04 320.13,154.34 320.75,153.73 321.37,153.19 321.99,152.69 322.61,152.21 323.23,151.74 323.85,151.29 324.47,150.86 325.09,150.47 325.71,150.11 326.33,149.79 326.95,149.51 327.57,149.29 328.19,149.12 328.82,149 329.44,148.89 330.06,148.79 330.68,148.7 331.3,148.62 331.92,148.55 332.54,148.5 333.16,148.46 333.78,148.45 334.4,148.47 335.02,148.57 335.64,148.76 336.26,149 336.88,149.31 337.5,149.65 338.12,150.03 338.75,150.42 339.37,150.83 339.99,151.28 340.61,151.83 341.23,152.48 341.85,153.22 342.47,154.02 343.09,154.89 343.71,155.81 344.33,156.76 344.95,157.74 345.57,158.74 346.19,159.74 346.81,160.74 347.43,161.78 348.05,162.89 348.67,164.06 349.3,165.27 349.92,166.52 350.54,167.81 351.16,169.12 351.78,170.44 352.4,171.76 353.02,173.08 353.64,174.39 354.26,175.69 354.88,177 355.5,178.34 356.12,179.69 356.74,181.05 357.36,182.42 357.98,183.79 358.6,185.16 359.23,186.52 359.85,187.86 360.47,189.19 361.09,190.49 361.71,191.81 362.33,193.2 362.95,194.62 363.57,196.04 364.19,197.41 364.81,198.7 365.43,199.86 366.05,200.86 366.67,201.65 367.29,202.34 367.91,203.01 368.53,203.65 369.15,204.21 369.78,204.69 370.4,205.04 371.02,205.23 371.64,205.25 372.26,205.07 372.88,204.72 373.5,204.22 374.12,203.61 374.74,202.9 375.36,202.13 375.98,201.29 376.6,200.06 377.22,198.42 377.84,196.46 378.46,194.24 379.08,191.85 379.71,189.36 380.33,186.87 380.95,184.43 381.57,182.07 382.19,179.5 382.81,176.77 383.43,173.95 384.05,171.1 384.67,168.31 385.29,165.63 385.91,163.13 386.53,160.9 387.15,158.86 387.77,156.82 388.39,154.82 389.01,152.91 389.63,151.12 390.26,149.49 390.88,148.06 391.5,146.88 392.12,145.99 392.74,145.26 393.36,144.55 393.98,143.88 394.6,143.28 395.22,142.76 395.84,142.33 396.46,142.02 397.08,141.84 397.7,141.8 398.32,141.83 398.94,141.91 399.56,142.02 400.18,142.16 400.81,142.31 401.43,142.47 402.05,142.71 402.67,143.02 403.29,143.4 403.91,143.83 404.53,144.3 405.15,144.8 405.77,145.31 406.39,145.84 407.01,146.37 407.63,146.99 408.25,147.67 408.87,148.4 409.49,149.16 410.11,149.91 410.74,150.65 411.36,151.35 411.98,151.98 412.6,152.56 413.22,153.11 413.84,153.64 414.46,154.15 415.08,154.63 415.7,155.09" fill="none" stroke="#2a3fe0" stroke-width="1.3" stroke-linejoin="round" />
<text x="343.4" y="144.5" font-family='"Liberation Sans", sans-serif' font-size="14" fill="#2a4fe0" text-anchor="start" font-weight="normal" font-style="normal" >RCP</text>
<text x="313.2" y="181.4" font-family='"Liberation Sans", sans-serif' font-size="14" fill="#e8202a" text-anchor="start" font-weight="normal" font-style="normal" >LCP</text>
</g>
<g id="pc">
<polygon points="539.2,25.8 559.8,33.1 559.8,73.1 610.5,89.7 610.5,116.4 539.2,98.2" fill="url(#gcFront)" />
<polygon points="539.2,25.8 552.9,18.7 574.4,24.7 559.8,33.1" fill="#f3bd45" />
<polygon points="559.8,33.1 574.4,24.7 574.4,66.7 559.8,73.1" fill="url(#gcSide)" />
<polygon points="559.8,73.1 574.4,66.7 626.4,78.8 610.5,89.7" fill="url(#gcTop2)" />
<polygon points="610.5,89.7 626.4,78.8 626.4,105.5 610.5,116.4" fill="#dca732" />
<line x1="539.2" y1="98.2" x2="522.6" y2="92.5" stroke="#222" stroke-width="0.7" stroke-dasharray="2.2 1.6"/>
<line x1="539.2" y1="98.6" x2="539.2" y2="113" stroke="#222" stroke-width="0.7" stroke-dasharray="2.2 1.6"/>
<line x1="610.5" y1="116.8" x2="610.5" y2="127.9" stroke="#222" stroke-width="0.7" stroke-dasharray="2.2 1.6"/>
<line x1="539.2" y1="25.8" x2="524.8" y2="21.7" stroke="#222" stroke-width="0.7" stroke-dasharray="2.2 1.6"/>
<line x1="552.9" y1="18.7" x2="538.5" y2="14.2" stroke="#222" stroke-width="0.7" stroke-dasharray="2.2 1.6"/>
<line x1="552.9" y1="3.4" x2="552.9" y2="18.7" stroke="#222" stroke-width="0.7" stroke-dasharray="2.2 1.6"/>
<line x1="574.4" y1="8" x2="574.4" y2="24.7" stroke="#222" stroke-width="0.7" stroke-dasharray="2.2 1.6"/>
<line x1="626.4" y1="78.8" x2="641.3" y2="82.2" stroke="#222" stroke-width="0.7" stroke-dasharray="2.2 1.6"/>
<line x1="626.4" y1="105.5" x2="641.3" y2="109.1" stroke="#222" stroke-width="0.7" stroke-dasharray="2.2 1.6"/>
<line x1="532.4" y1="27.2" x2="532.4" y2="92.3" stroke="#111" stroke-width="0.85" /><polygon points="532.4,92.3 531.1,89.1 533.7,89.1" fill="#111" /><polygon points="532.4,27.2 533.7,30.4 531.1,30.4" fill="#111" />
<line x1="541" y1="102.8" x2="609.2" y2="119.9" stroke="#111" stroke-width="0.85" /><polygon points="609.2,119.9 605.78,120.38 606.41,117.86" fill="#111" /><polygon points="541,102.8 544.42,102.32 543.79,104.84" fill="#111" />
<line x1="537.9" y1="24" x2="546.1" y2="17.8" stroke="#111" stroke-width="0.85" /><polygon points="546.1,17.8 544.75,20.33 543.3,18.41" fill="#111" /><polygon points="537.9,24 539.25,21.47 540.7,23.39" fill="#111" />
<line x1="553.9" y1="16" x2="573.8" y2="21.7" stroke="#111" stroke-width="0.85" /><polygon points="573.8,21.7 570.59,22.03 571.25,19.72" fill="#111" /><polygon points="553.9,16 557.11,15.67 556.45,17.98" fill="#111" />
<line x1="632.1" y1="80.2" x2="632.1" y2="104.8" stroke="#111" stroke-width="0.85" /><polygon points="632.1,104.8 630.8,101.6 633.4,101.6" fill="#111" /><polygon points="632.1,80.2 633.4,83.4 630.8,83.4" fill="#111" />
<text x="522.6" y="64.6" font-family='"Liberation Serif", serif' font-size="14.5" fill="#111" text-anchor="middle" font-weight="normal" font-style="italic" >L</text>
<text x="575.1" y="125.4" font-family='"Liberation Serif", serif' font-size="14.5" fill="#111" text-anchor="middle" font-weight="normal" font-style="italic" >L</text>
<text x="531.4" y="21.4" font-family='"Liberation Serif", serif' font-size="13" fill="#111" text-anchor="middle" font-weight="normal" font-style="italic" >H</text>
<text x="556.5" y="12" font-family='"Liberation Serif", serif' font-size="13.5" fill="#111" text-anchor="start" font-weight="normal" font-style="italic" >W<tspan font-size="9.5" dy="2.4" dx="-1.6">y</tspan></text>
<text x="633.6" y="98" font-family='"Liberation Serif", serif' font-size="13.5" fill="#111" text-anchor="start" font-weight="normal" font-style="italic" >W<tspan font-size="9.5" dy="2.8" dx="-1.6">x</tspan></text>
<line x1="607.7" y1="46.3" x2="607.7" y2="27.9" stroke="#3b2f86" stroke-width="0.8" />
<polygon points="607.7,27.9 608.9,30.7 606.5,30.7" fill="#3b2f86" />
<line x1="607.7" y1="46.3" x2="623.7" y2="48.4" stroke="#3b2f86" stroke-width="0.8" />
<polygon points="623.7,48.4 620.77,49.23 621.08,46.85" fill="#3b2f86" />
<line x1="607.7" y1="46.3" x2="594" y2="54.3" stroke="#3b2f86" stroke-width="0.8" />
<polygon points="594,54.3 595.81,51.85 597.02,53.92" fill="#3b2f86" />
<text x="607.9" y="23.4" font-family='"Liberation Serif", serif' font-size="15" fill="#111" text-anchor="middle" font-weight="normal" font-style="italic" >y</text>
<text x="630" y="52" font-family='"Liberation Serif", serif' font-size="15" fill="#111" text-anchor="middle" font-weight="normal" font-style="italic" >x</text>
<text x="588.6" y="57.8" font-family='"Liberation Serif", serif' font-size="15" fill="#111" text-anchor="middle" font-weight="normal" font-style="italic" >z</text>
<rect x="506.7" y="134.4" width="164.5" height="117.7" fill="none" stroke="#222" stroke-width="0.7"/>
<line x1="506.7" y1="250.5" x2="509.1" y2="250.5" stroke="#222" stroke-width="0.5" />
<line x1="668.8" y1="250.5" x2="671.2" y2="250.5" stroke="#222" stroke-width="0.5" />
<text x="504.3" y="253.5" font-family='"Liberation Serif", serif' font-size="9.9" fill="#111" text-anchor="end" font-weight="normal" font-style="normal" >0.0</text>
<line x1="506.7" y1="238.89" x2="508.1" y2="238.89" stroke="#222" stroke-width="0.5" />
<line x1="669.8" y1="238.89" x2="671.2" y2="238.89" stroke="#222" stroke-width="0.5" />
<line x1="506.7" y1="227.28" x2="509.1" y2="227.28" stroke="#222" stroke-width="0.5" />
<line x1="668.8" y1="227.28" x2="671.2" y2="227.28" stroke="#222" stroke-width="0.5" />
<text x="504.3" y="230.28" font-family='"Liberation Serif", serif' font-size="9.9" fill="#111" text-anchor="end" font-weight="normal" font-style="normal" >0.2</text>
<line x1="506.7" y1="215.67" x2="508.1" y2="215.67" stroke="#222" stroke-width="0.5" />
<line x1="669.8" y1="215.67" x2="671.2" y2="215.67" stroke="#222" stroke-width="0.5" />
<line x1="506.7" y1="204.06" x2="509.1" y2="204.06" stroke="#222" stroke-width="0.5" />
<line x1="668.8" y1="204.06" x2="671.2" y2="204.06" stroke="#222" stroke-width="0.5" />
<text x="504.3" y="207.06" font-family='"Liberation Serif", serif' font-size="9.9" fill="#111" text-anchor="end" font-weight="normal" font-style="normal" >0.4</text>
<line x1="506.7" y1="192.45" x2="508.1" y2="192.45" stroke="#222" stroke-width="0.5" />
<line x1="669.8" y1="192.45" x2="671.2" y2="192.45" stroke="#222" stroke-width="0.5" />
<line x1="506.7" y1="180.84" x2="509.1" y2="180.84" stroke="#222" stroke-width="0.5" />
<line x1="668.8" y1="180.84" x2="671.2" y2="180.84" stroke="#222" stroke-width="0.5" />
<text x="504.3" y="183.84" font-family='"Liberation Serif", serif' font-size="9.9" fill="#111" text-anchor="end" font-weight="normal" font-style="normal" >0.6</text>
<line x1="506.7" y1="169.23" x2="508.1" y2="169.23" stroke="#222" stroke-width="0.5" />
<line x1="669.8" y1="169.23" x2="671.2" y2="169.23" stroke="#222" stroke-width="0.5" />
<line x1="506.7" y1="157.62" x2="509.1" y2="157.62" stroke="#222" stroke-width="0.5" />
<line x1="668.8" y1="157.62" x2="671.2" y2="157.62" stroke="#222" stroke-width="0.5" />
<text x="504.3" y="160.62" font-family='"Liberation Serif", serif' font-size="9.9" fill="#111" text-anchor="end" font-weight="normal" font-style="normal" >0.8</text>
<line x1="506.7" y1="146.01" x2="508.1" y2="146.01" stroke="#222" stroke-width="0.5" />
<line x1="669.8" y1="146.01" x2="671.2" y2="146.01" stroke="#222" stroke-width="0.5" />
<line x1="506.7" y1="134.4" x2="509.1" y2="134.4" stroke="#222" stroke-width="0.5" />
<line x1="668.8" y1="134.4" x2="671.2" y2="134.4" stroke="#222" stroke-width="0.5" />
<text x="504.3" y="137.4" font-family='"Liberation Serif", serif' font-size="9.9" fill="#111" text-anchor="end" font-weight="normal" font-style="normal" >1.0</text>
<line x1="506.7" y1="252.1" x2="506.7" y2="249.7" stroke="#222" stroke-width="0.5" />
<line x1="506.7" y1="134.4" x2="506.7" y2="136.8" stroke="#222" stroke-width="0.5" />
<text x="506.7" y="262.3" font-family='"Liberation Serif", serif' font-size="9.9" fill="#111" text-anchor="middle" font-weight="normal" font-style="normal" >1.2</text>
<line x1="512.18" y1="252.1" x2="512.18" y2="250.8" stroke="#222" stroke-width="0.5" />
<line x1="512.18" y1="134.4" x2="512.18" y2="135.7" stroke="#222" stroke-width="0.5" />
<line x1="517.67" y1="252.1" x2="517.67" y2="250.8" stroke="#222" stroke-width="0.5" />
<line x1="517.67" y1="134.4" x2="517.67" y2="135.7" stroke="#222" stroke-width="0.5" />
<line x1="523.15" y1="252.1" x2="523.15" y2="250.8" stroke="#222" stroke-width="0.5" />
<line x1="523.15" y1="134.4" x2="523.15" y2="135.7" stroke="#222" stroke-width="0.5" />
<line x1="528.63" y1="252.1" x2="528.63" y2="250.8" stroke="#222" stroke-width="0.5" />
<line x1="528.63" y1="134.4" x2="528.63" y2="135.7" stroke="#222" stroke-width="0.5" />
<line x1="534.12" y1="252.1" x2="534.12" y2="249.7" stroke="#222" stroke-width="0.5" />
<line x1="534.12" y1="134.4" x2="534.12" y2="136.8" stroke="#222" stroke-width="0.5" />
<text x="534.12" y="262.3" font-family='"Liberation Serif", serif' font-size="9.9" fill="#111" text-anchor="middle" font-weight="normal" font-style="normal" >1.3</text>
<line x1="539.6" y1="252.1" x2="539.6" y2="250.8" stroke="#222" stroke-width="0.5" />
<line x1="539.6" y1="134.4" x2="539.6" y2="135.7" stroke="#222" stroke-width="0.5" />
<line x1="545.08" y1="252.1" x2="545.08" y2="250.8" stroke="#222" stroke-width="0.5" />
<line x1="545.08" y1="134.4" x2="545.08" y2="135.7" stroke="#222" stroke-width="0.5" />
<line x1="550.57" y1="252.1" x2="550.57" y2="250.8" stroke="#222" stroke-width="0.5" />
<line x1="550.57" y1="134.4" x2="550.57" y2="135.7" stroke="#222" stroke-width="0.5" />
<line x1="556.05" y1="252.1" x2="556.05" y2="250.8" stroke="#222" stroke-width="0.5" />
<line x1="556.05" y1="134.4" x2="556.05" y2="135.7" stroke="#222" stroke-width="0.5" />
<line x1="561.53" y1="252.1" x2="561.53" y2="249.7" stroke="#222" stroke-width="0.5" />
<line x1="561.53" y1="134.4" x2="561.53" y2="136.8" stroke="#222" stroke-width="0.5" />
<text x="561.53" y="262.3" font-family='"Liberation Serif", serif' font-size="9.9" fill="#111" text-anchor="middle" font-weight="normal" font-style="normal" >1.4</text>
<line x1="567.02" y1="252.1" x2="567.02" y2="250.8" stroke="#222" stroke-width="0.5" />
<line x1="567.02" y1="134.4" x2="567.02" y2="135.7" stroke="#222" stroke-width="0.5" />
<line x1="572.5" y1="252.1" x2="572.5" y2="250.8" stroke="#222" stroke-width="0.5" />
<line x1="572.5" y1="134.4" x2="572.5" y2="135.7" stroke="#222" stroke-width="0.5" />
<line x1="577.98" y1="252.1" x2="577.98" y2="250.8" stroke="#222" stroke-width="0.5" />
<line x1="577.98" y1="134.4" x2="577.98" y2="135.7" stroke="#222" stroke-width="0.5" />
<line x1="583.47" y1="252.1" x2="583.47" y2="250.8" stroke="#222" stroke-width="0.5" />
<line x1="583.47" y1="134.4" x2="583.47" y2="135.7" stroke="#222" stroke-width="0.5" />
<line x1="588.95" y1="252.1" x2="588.95" y2="249.7" stroke="#222" stroke-width="0.5" />
<line x1="588.95" y1="134.4" x2="588.95" y2="136.8" stroke="#222" stroke-width="0.5" />
<text x="588.95" y="262.3" font-family='"Liberation Serif", serif' font-size="9.9" fill="#111" text-anchor="middle" font-weight="normal" font-style="normal" >1.5</text>
<line x1="594.43" y1="252.1" x2="594.43" y2="250.8" stroke="#222" stroke-width="0.5" />
<line x1="594.43" y1="134.4" x2="594.43" y2="135.7" stroke="#222" stroke-width="0.5" />
<line x1="599.92" y1="252.1" x2="599.92" y2="250.8" stroke="#222" stroke-width="0.5" />
<line x1="599.92" y1="134.4" x2="599.92" y2="135.7" stroke="#222" stroke-width="0.5" />
<line x1="605.4" y1="252.1" x2="605.4" y2="250.8" stroke="#222" stroke-width="0.5" />
<line x1="605.4" y1="134.4" x2="605.4" y2="135.7" stroke="#222" stroke-width="0.5" />
<line x1="610.88" y1="252.1" x2="610.88" y2="250.8" stroke="#222" stroke-width="0.5" />
<line x1="610.88" y1="134.4" x2="610.88" y2="135.7" stroke="#222" stroke-width="0.5" />
<line x1="616.37" y1="252.1" x2="616.37" y2="249.7" stroke="#222" stroke-width="0.5" />
<line x1="616.37" y1="134.4" x2="616.37" y2="136.8" stroke="#222" stroke-width="0.5" />
<text x="616.37" y="262.3" font-family='"Liberation Serif", serif' font-size="9.9" fill="#111" text-anchor="middle" font-weight="normal" font-style="normal" >1.6</text>
<line x1="621.85" y1="252.1" x2="621.85" y2="250.8" stroke="#222" stroke-width="0.5" />
<line x1="621.85" y1="134.4" x2="621.85" y2="135.7" stroke="#222" stroke-width="0.5" />
<line x1="627.33" y1="252.1" x2="627.33" y2="250.8" stroke="#222" stroke-width="0.5" />
<line x1="627.33" y1="134.4" x2="627.33" y2="135.7" stroke="#222" stroke-width="0.5" />
<line x1="632.82" y1="252.1" x2="632.82" y2="250.8" stroke="#222" stroke-width="0.5" />
<line x1="632.82" y1="134.4" x2="632.82" y2="135.7" stroke="#222" stroke-width="0.5" />
<line x1="638.3" y1="252.1" x2="638.3" y2="250.8" stroke="#222" stroke-width="0.5" />
<line x1="638.3" y1="134.4" x2="638.3" y2="135.7" stroke="#222" stroke-width="0.5" />
<line x1="643.78" y1="252.1" x2="643.78" y2="249.7" stroke="#222" stroke-width="0.5" />
<line x1="643.78" y1="134.4" x2="643.78" y2="136.8" stroke="#222" stroke-width="0.5" />
<text x="643.78" y="262.3" font-family='"Liberation Serif", serif' font-size="9.9" fill="#111" text-anchor="middle" font-weight="normal" font-style="normal" >1.7</text>
<line x1="649.27" y1="252.1" x2="649.27" y2="250.8" stroke="#222" stroke-width="0.5" />
<line x1="649.27" y1="134.4" x2="649.27" y2="135.7" stroke="#222" stroke-width="0.5" />
<line x1="654.75" y1="252.1" x2="654.75" y2="250.8" stroke="#222" stroke-width="0.5" />
<line x1="654.75" y1="134.4" x2="654.75" y2="135.7" stroke="#222" stroke-width="0.5" />
<line x1="660.23" y1="252.1" x2="660.23" y2="250.8" stroke="#222" stroke-width="0.5" />
<line x1="660.23" y1="134.4" x2="660.23" y2="135.7" stroke="#222" stroke-width="0.5" />
<line x1="665.72" y1="252.1" x2="665.72" y2="250.8" stroke="#222" stroke-width="0.5" />
<line x1="665.72" y1="134.4" x2="665.72" y2="135.7" stroke="#222" stroke-width="0.5" />
<line x1="671.2" y1="252.1" x2="671.2" y2="249.7" stroke="#222" stroke-width="0.5" />
<line x1="671.2" y1="134.4" x2="671.2" y2="136.8" stroke="#222" stroke-width="0.5" />
<text x="671.2" y="262.3" font-family='"Liberation Serif", serif' font-size="9.9" fill="#111" text-anchor="middle" font-weight="normal" font-style="normal" >1.8</text>
<text x="0" y="0" font-family='"Liberation Serif", serif' font-size="11.5" fill="#111" text-anchor="middle" font-weight="normal" font-style="normal" transform="translate(485.2,194) rotate(-90)" >Transmittance</text>
<text x="589.3" y="275.6" font-family='"Liberation Serif", serif' font-size="12.4" fill="#111" text-anchor="middle" font-weight="normal" font-style="normal" ><tspan font-style="italic">λ</tspan> (<tspan font-style="italic">μ</tspan>m)</text>
<clipPath id="clipC"><rect x="506.7" y="134.4" width="164.5" height="118.3"/></clipPath><g clip-path="url(#clipC)">
<polyline points="506.7,238.89 507.39,239.38 508.08,239.86 508.76,240.33 509.45,240.78 510.14,241.21 510.83,241.63 511.52,242.02 512.21,242.38 512.89,242.74 513.58,243.08 514.27,243.42 514.96,243.75 515.65,244.07 516.34,244.37 517.02,244.66 517.71,244.94 518.4,245.2 519.09,245.44 519.78,245.67 520.47,245.87 521.15,246.06 521.84,246.24 522.53,246.4 523.22,246.56 523.91,246.71 524.6,246.85 525.28,246.99 525.97,247.12 526.66,247.25 527.35,247.37 528.04,247.49 528.73,247.61 529.41,247.73 530.1,247.85 530.79,247.96 531.48,248.07 532.17,248.17 532.85,248.27 533.54,248.35 534.23,248.42 534.92,248.49 535.61,248.55 536.3,248.61 536.98,248.67 537.67,248.73 538.36,248.78 539.05,248.83 539.74,248.88 540.43,248.93 541.11,248.97 541.8,249.02 542.49,249.06 543.18,249.1 543.87,249.14 544.56,249.18 545.24,249.21 545.93,249.25 546.62,249.28 547.31,249.32 548,249.35 548.69,249.38 549.37,249.41 550.06,249.43 550.75,249.46 551.44,249.49 552.13,249.51 552.82,249.54 553.5,249.56 554.19,249.58 554.88,249.61 555.57,249.63 556.26,249.65 556.94,249.67 557.63,249.69 558.32,249.71 559.01,249.73 559.7,249.75 560.39,249.77 561.07,249.79 561.76,249.81 562.45,249.83 563.14,249.85 563.83,249.87 564.52,249.89 565.2,249.91 565.89,249.93 566.58,249.95 567.27,249.97 567.96,249.99 568.65,250.01 569.33,250.03 570.02,250.05 570.71,250.07 571.4,250.08 572.09,250.1 572.78,250.11 573.46,250.12 574.15,250.14 574.84,250.15 575.53,250.16 576.22,250.16 576.91,250.17 577.59,250.18 578.28,250.19 578.97,250.2 579.66,250.21 580.35,250.21 581.03,250.22 581.72,250.23 582.41,250.23 583.1,250.24 583.79,250.25 584.48,250.25 585.16,250.26 585.85,250.26 586.54,250.26 587.23,250.27 587.92,250.27 588.61,250.27 589.29,250.27 589.98,250.27 590.67,250.26 591.36,250.26 592.05,250.25 592.74,250.25 593.42,250.24 594.11,250.23 594.8,250.22 595.49,250.21 596.18,250.21 596.87,250.2 597.55,250.19 598.24,250.18 598.93,250.17 599.62,250.17 600.31,250.16 600.99,250.16 601.68,250.15 602.37,250.15 603.06,250.15 603.75,250.15 604.44,250.15 605.12,250.15 605.81,250.15 606.5,250.15 607.19,250.15 607.88,250.15 608.57,250.15 609.25,250.15 609.94,250.15 610.63,250.15 611.32,250.15 612.01,250.15 612.7,250.15 613.38,250.15 614.07,250.15 614.76,250.15 615.45,250.15 616.14,250.15 616.83,250.15 617.51,250.15 618.2,250.14 618.89,250.13 619.58,250.12 620.27,250.1 620.96,250.08 621.64,250.05 622.33,250.03 623.02,250 623.71,249.97 624.4,249.93 625.08,249.87 625.77,249.75 626.46,249.57 627.15,249.35 627.84,249.09 628.53,248.82 629.21,248.53 629.9,248.25 630.59,247.96 631.28,247.63 631.97,247.28 632.66,246.9 633.34,246.5 634.03,246.11 634.72,245.72 635.41,245.35 636.1,245 636.79,244.64 637.47,244.28 638.16,243.92 638.85,243.56 639.54,243.21 640.23,242.86 640.92,242.52 641.6,242.18 642.29,241.86 642.98,241.55 643.67,241.26 644.36,240.97 645.05,240.69 645.73,240.4 646.42,240.12 647.11,239.85 647.8,239.58 648.49,239.33 649.17,239.09 649.86,238.86 650.55,238.66 651.24,238.48 651.93,238.33 652.62,238.19 653.3,238.05 653.99,237.91 654.68,237.78 655.37,237.65 656.06,237.53 656.75,237.43 657.43,237.33 658.12,237.26 658.81,237.2 659.5,237.16 660.19,237.15 660.88,237.15 661.56,237.15 662.25,237.15 662.94,237.15 663.63,237.15 664.32,237.15 665.01,237.15 665.69,237.15 666.38,237.16 667.07,237.2 667.76,237.25 668.45,237.33 669.14,237.42 669.82,237.51 670.51,237.62 671.2,237.73" fill="none" stroke="#1c1cf0" stroke-width="0.8" stroke-linejoin="round" />
<circle cx="506.7" cy="238.89" r="1.05" fill="#1c1cf0"/><circle cx="509.44" cy="240.77" r="1.05" fill="#1c1cf0"/><circle cx="512.18" cy="242.37" r="1.05" fill="#1c1cf0"/><circle cx="514.92" cy="243.73" r="1.05" fill="#1c1cf0"/><circle cx="517.67" cy="244.92" r="1.05" fill="#1c1cf0"/><circle cx="520.41" cy="245.86" r="1.05" fill="#1c1cf0"/><circle cx="523.15" cy="246.55" r="1.05" fill="#1c1cf0"/><circle cx="525.89" cy="247.11" r="1.05" fill="#1c1cf0"/><circle cx="528.63" cy="247.6" r="1.05" fill="#1c1cf0"/><circle cx="531.38" cy="248.05" r="1.05" fill="#1c1cf0"/><circle cx="534.12" cy="248.41" r="1.05" fill="#1c1cf0"/><circle cx="536.86" cy="248.66" r="1.05" fill="#1c1cf0"/><circle cx="539.6" cy="248.87" r="1.05" fill="#1c1cf0"/><circle cx="542.34" cy="249.05" r="1.05" fill="#1c1cf0"/><circle cx="545.08" cy="249.21" r="1.05" fill="#1c1cf0"/><circle cx="547.83" cy="249.34" r="1.05" fill="#1c1cf0"/><circle cx="550.57" cy="249.45" r="1.05" fill="#1c1cf0"/><circle cx="553.31" cy="249.55" r="1.05" fill="#1c1cf0"/><circle cx="556.05" cy="249.64" r="1.05" fill="#1c1cf0"/><circle cx="558.79" cy="249.72" r="1.05" fill="#1c1cf0"/><circle cx="561.53" cy="249.8" r="1.05" fill="#1c1cf0"/><circle cx="564.28" cy="249.89" r="1.05" fill="#1c1cf0"/><circle cx="567.02" cy="249.97" r="1.05" fill="#1c1cf0"/><circle cx="569.76" cy="250.04" r="1.05" fill="#1c1cf0"/><circle cx="572.5" cy="250.11" r="1.05" fill="#1c1cf0"/><circle cx="575.24" cy="250.15" r="1.05" fill="#1c1cf0"/><circle cx="577.98" cy="250.19" r="1.05" fill="#1c1cf0"/><circle cx="580.73" cy="250.22" r="1.05" fill="#1c1cf0"/><circle cx="583.47" cy="250.24" r="1.05" fill="#1c1cf0"/><circle cx="586.21" cy="250.26" r="1.05" fill="#1c1cf0"/><circle cx="588.95" cy="250.27" r="1.05" fill="#1c1cf0"/><circle cx="591.69" cy="250.26" r="1.05" fill="#1c1cf0"/><circle cx="594.43" cy="250.23" r="1.05" fill="#1c1cf0"/><circle cx="597.18" cy="250.19" r="1.05" fill="#1c1cf0"/><circle cx="599.92" cy="250.16" r="1.05" fill="#1c1cf0"/><circle cx="602.66" cy="250.15" r="1.05" fill="#1c1cf0"/><circle cx="605.4" cy="250.15" r="1.05" fill="#1c1cf0"/><circle cx="608.14" cy="250.15" r="1.05" fill="#1c1cf0"/><circle cx="610.88" cy="250.15" r="1.05" fill="#1c1cf0"/><circle cx="613.63" cy="250.15" r="1.05" fill="#1c1cf0"/><circle cx="616.37" cy="250.15" r="1.05" fill="#1c1cf0"/><circle cx="619.11" cy="250.12" r="1.05" fill="#1c1cf0"/><circle cx="621.85" cy="250.05" r="1.05" fill="#1c1cf0"/><circle cx="624.59" cy="249.92" r="1.05" fill="#1c1cf0"/><circle cx="627.33" cy="249.28" r="1.05" fill="#1c1cf0"/><circle cx="630.08" cy="248.18" r="1.05" fill="#1c1cf0"/><circle cx="632.82" cy="246.81" r="1.05" fill="#1c1cf0"/><circle cx="635.56" cy="245.28" r="1.05" fill="#1c1cf0"/><circle cx="638.3" cy="243.85" r="1.05" fill="#1c1cf0"/><circle cx="641.04" cy="242.46" r="1.05" fill="#1c1cf0"/><circle cx="643.78" cy="241.21" r="1.05" fill="#1c1cf0"/><circle cx="646.53" cy="240.08" r="1.05" fill="#1c1cf0"/><circle cx="649.27" cy="239.06" r="1.05" fill="#1c1cf0"/><circle cx="652.01" cy="238.31" r="1.05" fill="#1c1cf0"/><circle cx="654.75" cy="237.76" r="1.05" fill="#1c1cf0"/><circle cx="657.49" cy="237.33" r="1.05" fill="#1c1cf0"/><circle cx="660.23" cy="237.15" r="1.05" fill="#1c1cf0"/><circle cx="662.98" cy="237.15" r="1.05" fill="#1c1cf0"/><circle cx="665.72" cy="237.15" r="1.05" fill="#1c1cf0"/><circle cx="668.46" cy="237.33" r="1.05" fill="#1c1cf0"/><circle cx="671.2" cy="237.73" r="1.05" fill="#1c1cf0"/>
<polyline points="506.7,184.32 507.39,184.99 508.08,185.67 508.76,186.35 509.45,187.03 510.14,187.71 510.83,188.4 511.52,189.09 512.21,189.78 512.89,190.48 513.58,191.18 514.27,191.88 514.96,192.58 515.65,193.29 516.34,194 517.02,194.71 517.71,195.43 518.4,196.14 519.09,196.87 519.78,197.59 520.47,198.32 521.15,199.05 521.84,199.79 522.53,200.54 523.22,201.29 523.91,202.05 524.6,202.82 525.28,203.58 525.97,204.35 526.66,205.13 527.35,205.9 528.04,206.67 528.73,207.44 529.41,208.21 530.1,208.98 530.79,209.74 531.48,210.5 532.17,211.25 532.85,212 533.54,212.74 534.23,213.47 534.92,214.19 535.61,214.92 536.3,215.64 536.98,216.36 537.67,217.07 538.36,217.78 539.05,218.49 539.74,219.2 540.43,219.9 541.11,220.61 541.8,221.3 542.49,222 543.18,222.69 543.87,223.38 544.56,224.07 545.24,224.75 545.93,225.43 546.62,226.1 547.31,226.78 548,227.45 548.69,228.12 549.37,228.79 550.06,229.47 550.75,230.15 551.44,230.82 552.13,231.5 552.82,232.17 553.5,232.84 554.19,233.5 554.88,234.16 555.57,234.82 556.26,235.46 556.94,236.1 557.63,236.72 558.32,237.34 559.01,237.95 559.7,238.54 560.39,239.12 561.07,239.68 561.76,240.23 562.45,240.78 563.14,241.33 563.83,241.87 564.52,242.4 565.2,242.92 565.89,243.43 566.58,243.92 567.27,244.39 567.96,244.83 568.65,245.25 569.33,245.63 570.02,245.99 570.71,246.33 571.4,246.67 572.09,247 572.78,247.31 573.46,247.62 574.15,247.9 574.84,248.17 575.53,248.42 576.22,248.64 576.91,248.85 577.59,249.02 578.28,249.17 578.97,249.32 579.66,249.46 580.35,249.59 581.03,249.71 581.72,249.8 582.41,249.88 583.1,249.91 583.79,249.92 584.48,249.92 585.16,249.92 585.85,249.92 586.54,249.92 587.23,249.92 587.92,249.92 588.61,249.92 589.29,249.92 589.98,249.91 590.67,249.88 591.36,249.85 592.05,249.81 592.74,249.77 593.42,249.72 594.11,249.66 594.8,249.6 595.49,249.54 596.18,249.48 596.87,249.42 597.55,249.36 598.24,249.31 598.93,249.25 599.62,249.21 600.31,249.17 600.99,249.14 601.68,249.12 602.37,249.11 603.06,249.11 603.75,249.11 604.44,249.11 605.12,249.11 605.81,249.11 606.5,249.11 607.19,249.11 607.88,249.11 608.57,249.11 609.25,249.11 609.94,249.11 610.63,249.11 611.32,249.11 612.01,249.11 612.7,249.11 613.38,249.11 614.07,249.11 614.76,249.11 615.45,249.11 616.14,249.11 616.83,249.1 617.51,249.05 618.2,248.97 618.89,248.87 619.58,248.73 620.27,248.58 620.96,248.41 621.64,248.23 622.33,248.02 623.02,247.71 623.71,247.32 624.4,246.86 625.08,246.36 625.77,245.84 626.46,245.32 627.15,244.82 627.84,244.34 628.53,243.83 629.21,243.29 629.9,242.75 630.59,242.21 631.28,241.69 631.97,241.19 632.66,240.73 633.34,240.3 634.03,239.87 634.72,239.43 635.41,239.02 636.1,238.63 636.79,238.29 637.47,237.99 638.16,237.77 638.85,237.59 639.54,237.42 640.23,237.26 640.92,237.11 641.6,236.99 642.29,236.89 642.98,236.83 643.67,236.8 644.36,236.81 645.05,236.86 645.73,236.93 646.42,237.02 647.11,237.13 647.8,237.25 648.49,237.37 649.17,237.48 649.86,237.6 650.55,237.75 651.24,237.9 651.93,238.08 652.62,238.26 653.3,238.45 653.99,238.64 654.68,238.82 655.37,239 656.06,239.17 656.75,239.33 657.43,239.46 658.12,239.58 658.81,239.69 659.5,239.8 660.19,239.91 660.88,240.01 661.56,240.11 662.25,240.2 662.94,240.29 663.63,240.38 664.32,240.46 665.01,240.55 665.69,240.63 666.38,240.71 667.07,240.79 667.76,240.87 668.45,240.94 669.14,241.01 669.82,241.08 670.51,241.15 671.2,241.21" fill="none" stroke="#157f7a" stroke-width="0.8" stroke-linejoin="round" />
<circle cx="506.7" cy="184.32" r="1.05" fill="#157f7a"/><circle cx="509.44" cy="187.02" r="1.05" fill="#157f7a"/><circle cx="512.18" cy="189.76" r="1.05" fill="#157f7a"/><circle cx="514.92" cy="192.55" r="1.05" fill="#157f7a"/><circle cx="517.67" cy="195.38" r="1.05" fill="#157f7a"/><circle cx="520.41" cy="198.25" r="1.05" fill="#157f7a"/><circle cx="523.15" cy="201.22" r="1.05" fill="#157f7a"/><circle cx="525.89" cy="204.26" r="1.05" fill="#157f7a"/><circle cx="528.63" cy="207.34" r="1.05" fill="#157f7a"/><circle cx="531.38" cy="210.39" r="1.05" fill="#157f7a"/><circle cx="534.12" cy="213.35" r="1.05" fill="#157f7a"/><circle cx="536.86" cy="216.23" r="1.05" fill="#157f7a"/><circle cx="539.6" cy="219.06" r="1.05" fill="#157f7a"/><circle cx="542.34" cy="221.85" r="1.05" fill="#157f7a"/><circle cx="545.08" cy="224.59" r="1.05" fill="#157f7a"/><circle cx="547.83" cy="227.28" r="1.05" fill="#157f7a"/><circle cx="550.57" cy="229.97" r="1.05" fill="#157f7a"/><circle cx="553.31" cy="232.65" r="1.05" fill="#157f7a"/><circle cx="556.05" cy="235.27" r="1.05" fill="#157f7a"/><circle cx="558.79" cy="237.76" r="1.05" fill="#157f7a"/><circle cx="561.53" cy="240.05" r="1.05" fill="#157f7a"/><circle cx="564.28" cy="242.21" r="1.05" fill="#157f7a"/><circle cx="567.02" cy="244.22" r="1.05" fill="#157f7a"/><circle cx="569.76" cy="245.86" r="1.05" fill="#157f7a"/><circle cx="572.5" cy="247.19" r="1.05" fill="#157f7a"/><circle cx="575.24" cy="248.32" r="1.05" fill="#157f7a"/><circle cx="577.98" cy="249.11" r="1.05" fill="#157f7a"/><circle cx="580.73" cy="249.66" r="1.05" fill="#157f7a"/><circle cx="583.47" cy="249.92" r="1.05" fill="#157f7a"/><circle cx="586.21" cy="249.92" r="1.05" fill="#157f7a"/><circle cx="588.95" cy="249.92" r="1.05" fill="#157f7a"/><circle cx="591.69" cy="249.83" r="1.05" fill="#157f7a"/><circle cx="594.43" cy="249.63" r="1.05" fill="#157f7a"/><circle cx="597.18" cy="249.39" r="1.05" fill="#157f7a"/><circle cx="599.92" cy="249.19" r="1.05" fill="#157f7a"/><circle cx="602.66" cy="249.11" r="1.05" fill="#157f7a"/><circle cx="605.4" cy="249.11" r="1.05" fill="#157f7a"/><circle cx="608.14" cy="249.11" r="1.05" fill="#157f7a"/><circle cx="610.88" cy="249.11" r="1.05" fill="#157f7a"/><circle cx="613.63" cy="249.11" r="1.05" fill="#157f7a"/><circle cx="616.37" cy="249.11" r="1.05" fill="#157f7a"/><circle cx="619.11" cy="248.83" r="1.05" fill="#157f7a"/><circle cx="621.85" cy="248.18" r="1.05" fill="#157f7a"/><circle cx="624.59" cy="246.72" r="1.05" fill="#157f7a"/><circle cx="627.33" cy="244.69" r="1.05" fill="#157f7a"/><circle cx="630.08" cy="242.62" r="1.05" fill="#157f7a"/><circle cx="632.82" cy="240.63" r="1.05" fill="#157f7a"/><circle cx="635.56" cy="238.93" r="1.05" fill="#157f7a"/><circle cx="638.3" cy="237.73" r="1.05" fill="#157f7a"/><circle cx="641.04" cy="237.09" r="1.05" fill="#157f7a"/><circle cx="643.78" cy="236.8" r="1.05" fill="#157f7a"/><circle cx="646.53" cy="237.04" r="1.05" fill="#157f7a"/><circle cx="649.27" cy="237.5" r="1.05" fill="#157f7a"/><circle cx="652.01" cy="238.1" r="1.05" fill="#157f7a"/><circle cx="654.75" cy="238.84" r="1.05" fill="#157f7a"/><circle cx="657.49" cy="239.47" r="1.05" fill="#157f7a"/><circle cx="660.23" cy="239.92" r="1.05" fill="#157f7a"/><circle cx="662.98" cy="240.29" r="1.05" fill="#157f7a"/><circle cx="665.72" cy="240.63" r="1.05" fill="#157f7a"/><circle cx="668.46" cy="240.94" r="1.05" fill="#157f7a"/><circle cx="671.2" cy="241.21" r="1.05" fill="#157f7a"/>
<polyline points="506.7,229.6 507.39,229.75 508.08,229.87 508.76,229.97 509.45,230.05 510.14,230.11 510.83,230.15 511.52,230.18 512.21,230.18 512.89,230.16 513.58,230.11 514.27,230.02 514.96,229.91 515.65,229.78 516.34,229.62 517.02,229.44 517.71,229.25 518.4,229.05 519.09,228.85 519.78,228.64 520.47,228.42 521.15,228.19 521.84,227.92 522.53,227.62 523.22,227.28 523.91,226.92 524.6,226.53 525.28,226.12 525.97,225.68 526.66,225.22 527.35,224.74 528.04,224.24 528.73,223.73 529.41,223.15 530.1,222.48 530.79,221.76 531.48,220.99 532.17,220.19 532.85,219.4 533.54,218.62 534.23,217.87 534.92,217.16 535.61,216.47 536.3,215.78 536.98,215.09 537.67,214.38 538.36,213.64 539.05,212.85 539.74,212.01 540.43,211.13 541.11,210.19 541.8,209.21 542.49,208.2 543.18,207.15 543.87,206.07 544.56,204.96 545.24,203.82 545.93,202.67 546.62,201.5 547.31,200.31 548,199.12 548.69,197.89 549.37,196.61 550.06,195.31 550.75,193.97 551.44,192.61 552.13,191.23 552.82,189.82 553.5,188.41 554.19,186.99 554.88,185.57 555.57,184.15 556.26,182.74 556.94,181.31 557.63,179.86 558.32,178.41 559.01,176.94 559.7,175.47 560.39,173.99 561.07,172.53 561.76,171.06 562.45,169.58 563.14,168.07 563.83,166.56 564.52,165.06 565.2,163.59 565.89,162.16 566.58,160.78 567.27,159.47 567.96,158.16 568.65,156.87 569.33,155.6 570.02,154.38 570.71,153.23 571.4,152.15 572.09,151.18 572.78,150.32 573.46,149.51 574.15,148.74 574.84,148.01 575.53,147.33 576.22,146.71 576.91,146.16 577.59,145.67 578.28,145.25 578.97,144.84 579.66,144.44 580.35,144.06 581.03,143.72 581.72,143.44 582.41,143.24 583.1,143.12 583.79,143.11 584.48,143.11 585.16,143.11 585.85,143.11 586.54,143.11 587.23,143.11 587.92,143.11 588.61,143.11 589.29,143.12 589.98,143.22 590.67,143.4 591.36,143.63 592.05,143.9 592.74,144.19 593.42,144.48 594.11,144.74 594.8,144.96 595.49,145.18 596.18,145.39 596.87,145.59 597.55,145.81 598.24,146.02 598.93,146.25 599.62,146.48 600.31,146.73 600.99,147 601.68,147.27 602.37,147.56 603.06,147.85 603.75,148.15 604.44,148.47 605.12,148.78 605.81,149.11 606.5,149.43 607.19,149.76 607.88,150.11 608.57,150.46 609.25,150.83 609.94,151.23 610.63,151.65 611.32,152.1 612.01,152.59 612.7,153.1 613.38,153.65 614.07,154.23 614.76,154.85 615.45,155.51 616.14,156.21 616.83,156.97 617.51,157.78 618.2,158.67 618.89,159.62 619.58,160.65 620.27,161.75 620.96,162.93 621.64,164.19 622.33,165.58 623.02,167.22 623.71,169.04 624.4,170.99 625.08,173.07 625.77,175.4 626.46,177.83 627.15,180.23 627.84,182.51 628.53,184.78 629.21,187.06 629.9,189.31 630.59,191.53 631.28,193.69 631.97,195.79 632.66,197.8 633.34,199.75 634.03,201.69 634.72,203.61 635.41,205.48 636.1,207.27 636.79,208.96 637.47,210.52 638.16,211.93 638.85,213.2 639.54,214.4 640.23,215.54 640.92,216.61 641.6,217.61 642.29,218.54 642.98,219.4 643.67,220.19 644.36,220.91 645.05,221.59 645.73,222.22 646.42,222.82 647.11,223.38 647.8,223.91 648.49,224.41 649.17,224.89 649.86,225.36 650.55,225.82 651.24,226.26 651.93,226.69 652.62,227.1 653.3,227.5 653.99,227.88 654.68,228.25 655.37,228.61 656.06,228.94 656.75,229.27 657.43,229.58 658.12,229.87 658.81,230.15 659.5,230.41 660.19,230.66 660.88,230.91 661.56,231.14 662.25,231.37 662.94,231.6 663.63,231.82 664.32,232.05 665.01,232.27 665.69,232.5 666.38,232.72 667.07,232.95 667.76,233.17 668.45,233.39 669.14,233.61 669.82,233.82 670.51,234.04 671.2,234.25" fill="none" stroke="#ee1515" stroke-width="0.8" stroke-linejoin="round" />
<circle cx="506.7" cy="229.6" r="1.05" fill="#ee1515"/><circle cx="509.44" cy="230.05" r="1.05" fill="#ee1515"/><circle cx="512.18" cy="230.18" r="1.05" fill="#ee1515"/><circle cx="514.92" cy="229.92" r="1.05" fill="#ee1515"/><circle cx="517.67" cy="229.27" r="1.05" fill="#ee1515"/><circle cx="520.41" cy="228.44" r="1.05" fill="#ee1515"/><circle cx="523.15" cy="227.32" r="1.05" fill="#ee1515"/><circle cx="525.89" cy="225.73" r="1.05" fill="#ee1515"/><circle cx="528.63" cy="223.8" r="1.05" fill="#ee1515"/><circle cx="531.38" cy="221.1" r="1.05" fill="#ee1515"/><circle cx="534.12" cy="217.99" r="1.05" fill="#ee1515"/><circle cx="536.86" cy="215.22" r="1.05" fill="#ee1515"/><circle cx="539.6" cy="212.19" r="1.05" fill="#ee1515"/><circle cx="542.34" cy="208.42" r="1.05" fill="#ee1515"/><circle cx="545.08" cy="204.09" r="1.05" fill="#ee1515"/><circle cx="547.83" cy="199.42" r="1.05" fill="#ee1515"/><circle cx="550.57" cy="194.33" r="1.05" fill="#ee1515"/><circle cx="553.31" cy="188.81" r="1.05" fill="#ee1515"/><circle cx="556.05" cy="183.16" r="1.05" fill="#ee1515"/><circle cx="558.79" cy="177.4" r="1.05" fill="#ee1515"/><circle cx="561.53" cy="171.55" r="1.05" fill="#ee1515"/><circle cx="564.28" cy="165.59" r="1.05" fill="#ee1515"/><circle cx="567.02" cy="159.94" r="1.05" fill="#ee1515"/><circle cx="569.76" cy="154.84" r="1.05" fill="#ee1515"/><circle cx="572.5" cy="150.65" r="1.05" fill="#ee1515"/><circle cx="575.24" cy="147.61" r="1.05" fill="#ee1515"/><circle cx="577.98" cy="145.43" r="1.05" fill="#ee1515"/><circle cx="580.73" cy="143.87" r="1.05" fill="#ee1515"/><circle cx="583.47" cy="143.11" r="1.05" fill="#ee1515"/><circle cx="586.21" cy="143.11" r="1.05" fill="#ee1515"/><circle cx="588.95" cy="143.11" r="1.05" fill="#ee1515"/><circle cx="591.69" cy="143.76" r="1.05" fill="#ee1515"/><circle cx="594.43" cy="144.85" r="1.05" fill="#ee1515"/><circle cx="597.18" cy="145.69" r="1.05" fill="#ee1515"/><circle cx="599.92" cy="146.59" r="1.05" fill="#ee1515"/><circle cx="602.66" cy="147.68" r="1.05" fill="#ee1515"/><circle cx="605.4" cy="148.91" r="1.05" fill="#ee1515"/><circle cx="608.14" cy="150.24" r="1.05" fill="#ee1515"/><circle cx="610.88" cy="151.82" r="1.05" fill="#ee1515"/><circle cx="613.63" cy="153.84" r="1.05" fill="#ee1515"/><circle cx="616.37" cy="156.46" r="1.05" fill="#ee1515"/><circle cx="619.11" cy="159.94" r="1.05" fill="#ee1515"/><circle cx="621.85" cy="164.59" r="1.05" fill="#ee1515"/><circle cx="624.59" cy="171.55" r="1.05" fill="#ee1515"/><circle cx="627.33" cy="180.84" r="1.05" fill="#ee1515"/><circle cx="630.08" cy="189.87" r="1.05" fill="#ee1515"/><circle cx="632.82" cy="198.26" r="1.05" fill="#ee1515"/><circle cx="635.56" cy="205.87" r="1.05" fill="#ee1515"/><circle cx="638.3" cy="212.19" r="1.05" fill="#ee1515"/><circle cx="641.04" cy="216.79" r="1.05" fill="#ee1515"/><circle cx="643.78" cy="220.31" r="1.05" fill="#ee1515"/><circle cx="646.53" cy="222.9" r="1.05" fill="#ee1515"/><circle cx="649.27" cy="224.96" r="1.05" fill="#ee1515"/><circle cx="652.01" cy="226.73" r="1.05" fill="#ee1515"/><circle cx="654.75" cy="228.29" r="1.05" fill="#ee1515"/><circle cx="657.49" cy="229.6" r="1.05" fill="#ee1515"/><circle cx="660.23" cy="230.68" r="1.05" fill="#ee1515"/><circle cx="662.98" cy="231.61" r="1.05" fill="#ee1515"/><circle cx="665.72" cy="232.5" r="1.05" fill="#ee1515"/><circle cx="668.46" cy="233.4" r="1.05" fill="#ee1515"/><circle cx="671.2" cy="234.25" r="1.05" fill="#ee1515"/>
</g>
<line x1="516.5" y1="142.9" x2="531.2" y2="142.9" stroke="#ee1515" stroke-width="0.8" />
<circle cx="523.8" cy="142.9" r="1.1" fill="#ee1515"/>
<text x="533.6" y="146.3" font-family='"Liberation Serif", serif' font-size="10.4" fill="#111" text-anchor="start" font-weight="normal" font-style="normal" ><tspan font-style="italic">T</tspan><tspan font-size="7" dy="1.7">LR</tspan></text>
<line x1="516.5" y1="156.4" x2="531.2" y2="156.4" stroke="#111" stroke-width="0.8" />
<circle cx="523.8" cy="156.4" r="1.1" fill="#111"/>
<text x="533.6" y="159.8" font-family='"Liberation Serif", serif' font-size="10.4" fill="#111" text-anchor="start" font-weight="normal" font-style="normal" ><tspan font-style="italic">T</tspan><tspan font-size="7" dy="1.7">RR</tspan></text>
<line x1="516.5" y1="168.9" x2="531.2" y2="168.9" stroke="#157f7a" stroke-width="0.8" />
<circle cx="523.8" cy="168.9" r="1.1" fill="#157f7a"/>
<text x="533.6" y="172.3" font-family='"Liberation Serif", serif' font-size="10.4" fill="#111" text-anchor="start" font-weight="normal" font-style="normal" ><tspan font-style="italic">T</tspan><tspan font-size="7" dy="1.7">LL</tspan></text>
<line x1="516.5" y1="182.1" x2="531.2" y2="182.1" stroke="#1c1cf0" stroke-width="0.8" />
<circle cx="523.8" cy="182.1" r="1.1" fill="#1c1cf0"/>
<text x="533.6" y="185.5" font-family='"Liberation Serif", serif' font-size="10.4" fill="#111" text-anchor="start" font-weight="normal" font-style="normal" ><tspan font-style="italic">T</tspan><tspan font-size="7" dy="1.7">RL</tspan></text>
</g>
<g id="pd">
<g id="dimg">
<g clip-path="url(#clipDI)">
<polygon points="30,400 60,395 192.5,340 192.5,371 119,410.6 30,440" fill="url(#gdB1)" />
<polygon points="119,410.6 192.5,371 192.5,392.9 162.6,410.6" fill="url(#gdB2)" />
<polygon points="162.6,410.6 192.5,392.9 192.5,411" fill="url(#gdB3)" />
<polygon points="-45.31,336 108.7,313.31 193.67,353.41 -9.86,448.17" fill="#2b2d2d" />
<polygon points="106.4,312.22 108.63,311.91 195.8,352.41 193.67,353.41" fill="#6d9be0" />
<polygon points="104.77,303.8 110.02,305.37 110.02,316.12 104.77,314.38" fill="#4a4c4c" /><polygon points="96.02,307 99.95,308.24 99.95,319.73 96.02,318.35" fill="url(#gdEnd)" /><polygon points="99.95,308.24 117.16,306.13 117.16,316.86 99.95,319.73" fill="url(#gdSide)" /><polygon points="106.06,305.83 110.02,305.37 108.32,304.86 106.78,305.21" fill="#181a1a" /><polygon points="99.95,308.24 117.16,306.13 108.06,303.45 104.77,303.8 110.02,305.37 96.02,307" fill="#eaebec" /><polygon points="110.02,305.37 113.29,304.99 108.06,303.45 104.77,303.8" fill="#7c8484" opacity="0.30"/><polygon points="109.36,307.08 117.16,306.13 113.29,304.99 105.45,305.9" fill="#8a9090" opacity="0.16"/><polygon points="83.56,306.09 88.88,307.83 88.88,319.49 83.56,317.55" fill="#4a4c4c" /><polygon points="72.32,309.75 76.29,311.15 76.29,323.69 72.32,322.12" fill="url(#gdEnd)" /><polygon points="76.29,311.15 96.66,308.64 96.66,320.28 76.29,323.69" fill="url(#gdSide)" /><polygon points="84.21,308.37 88.88,307.83 87.15,307.26 85.27,307.67" fill="#181a1a" /><polygon points="76.29,311.15 96.66,308.64 87.41,305.67 83.56,306.09 88.88,307.83 72.32,309.75" fill="#ffffff" /><polygon points="88.88,307.83 92.72,307.38 87.41,305.67 83.56,306.09" fill="#7c8484" opacity="0.30"/><polygon points="87.45,309.77 96.66,308.64 92.72,307.38 83.5,308.45" fill="#8a9090" opacity="0.16"/><polygon points="112.89,307.3 118.51,309 118.51,320.22 112.89,318.34" fill="#4a4c4c" /><polygon points="104.36,310.91 108.59,312.27 108.59,324.31 104.36,322.8" fill="url(#gdEnd)" /><polygon points="108.59,312.27 125.96,309.78 125.96,320.99 108.59,324.31" fill="url(#gdSide)" /><polygon points="114.52,309.54 118.51,309 116.7,308.45 115.16,308.85" fill="#181a1a" /><polygon points="108.59,312.27 125.96,309.78 116.21,306.89 112.89,307.3 118.51,309 104.36,310.91" fill="#dde0e0" /><polygon points="118.51,309 121.81,308.55 116.21,306.89 112.89,307.3" fill="#7c8484" opacity="0.30"/><polygon points="118.09,310.91 125.96,309.78 121.81,308.55 113.91,309.62" fill="#8a9090" opacity="0.16"/><polygon points="58.48,308.79 63.81,310.74 63.81,323.48 58.48,321.29" fill="#4a4c4c" /><polygon points="43.93,313.05 47.87,314.64 47.87,328.44 43.93,326.65" fill="url(#gdEnd)" /><polygon points="47.87,314.64 72.36,311.63 72.36,324.35 47.87,328.44" fill="url(#gdSide)" /><polygon points="58.23,311.39 63.81,310.74 62.08,310.11 59.75,310.58" fill="#181a1a" /><polygon points="47.87,314.64 72.36,311.63 63.06,308.3 58.48,308.79 63.81,310.74 43.93,313.05" fill="#ffffff" /><polygon points="63.81,310.74 68.39,310.21 63.06,308.3 58.48,308.79" fill="#7c8484" opacity="0.30"/><polygon points="61.34,312.98 72.36,311.63 68.39,310.21 57.37,311.49" fill="#8a9090" opacity="0.16"/><polygon points="91.38,310 97.1,311.9 97.1,324.12 91.38,322.01" fill="#4a4c4c" /><polygon points="80.23,314.18 84.51,315.71 84.51,328.91 80.23,327.2" fill="url(#gdEnd)" /><polygon points="84.51,315.71 105.25,312.75 105.25,324.95 84.51,328.91" fill="url(#gdSide)" /><polygon points="92.35,312.54 97.1,311.9 95.25,311.28 93.36,311.75" fill="#181a1a" /><polygon points="84.51,315.71 105.25,312.75 95.3,309.51 91.38,310 97.1,311.9 80.23,314.18" fill="#ffffff" /><polygon points="97.1,311.9 101.01,311.37 95.3,309.51 91.38,310" fill="#7c8484" opacity="0.30"/><polygon points="95.9,314.08 105.25,312.75 101.01,311.37 91.63,312.64" fill="#8a9090" opacity="0.16"/><polygon points="121.76,311.12 127.8,312.96 127.8,324.71 121.76,322.67" fill="#4a4c4c" /><polygon points="113.52,315.22 118.09,316.7 118.09,329.35 113.52,327.7" fill="url(#gdEnd)" /><polygon points="118.09,316.7 135.58,313.78 135.58,325.51 118.09,329.35" fill="url(#gdSideF)" /><polygon points="123.78,313.6 127.8,312.96 125.85,312.37 124.33,312.83" fill="#181a1a" /><polygon points="118.09,316.7 135.58,313.78 125.11,310.63 121.76,311.12 127.8,312.96 113.52,315.22" fill="#d0d3d4" /><polygon points="127.8,312.96 131.12,312.44 125.11,310.63 121.76,311.12" fill="#7c8484" opacity="0.30"/><polygon points="127.67,315.1 135.58,313.78 131.12,312.44 123.16,313.7" fill="#8a9090" opacity="0.16"/><polygon points="28.38,312.03 33.62,314.25 33.62,328.29 28.38,325.78" fill="#4a4c4c" /><polygon points="9.3,317.08 13.1,318.91 13.1,334.25 9.3,332.17" fill="url(#gdEnd)" /><polygon points="13.1,318.91 43.11,315.22 43.11,329.24 13.1,334.25" fill="url(#gdSide)" /><polygon points="26.82,315.04 33.62,314.25 31.92,313.53 28.98,314.09" fill="#181a1a" /><polygon points="13.1,318.91 43.11,315.22 33.92,311.43 28.38,312.03 33.62,314.25 9.3,317.08" fill="#ffffff" /><polygon points="33.62,314.25 39.18,313.6 33.92,311.43 28.38,312.03" fill="#7c8484" opacity="0.30"/><polygon points="29.66,316.87 43.11,315.22 39.18,313.6 25.78,315.16" fill="#8a9090" opacity="0.16"/><polygon points="65.74,313.22 71.51,315.36 71.51,328.78 65.74,326.37" fill="#4a4c4c" /><polygon points="51.04,318.13 55.32,319.89 55.32,334.5 51.04,332.51" fill="url(#gdEnd)" /><polygon points="55.32,319.89 80.5,316.29 80.5,329.68 55.32,334.5" fill="url(#gdSide)" /><polygon points="65.78,316.14 71.51,315.36 69.64,314.67 67.27,315.22" fill="#181a1a" /><polygon points="55.32,319.89 80.5,316.29 70.44,312.63 65.74,313.22 71.51,315.36 51.04,318.13" fill="#ffffff" /><polygon points="71.51,315.36 76.21,314.73 70.44,312.63 65.74,313.22" fill="#7c8484" opacity="0.30"/><polygon points="69.19,317.91 80.5,316.29 76.21,314.73 64.9,316.26" fill="#8a9090" opacity="0.16"/><polygon points="99.99,314.31 106.17,316.38 106.17,329.23 99.99,326.91" fill="#4a4c4c" /><polygon points="88.99,319.1 93.65,320.79 93.65,334.72 88.99,332.82" fill="url(#gdEnd)" /><polygon points="93.65,320.79 114.71,317.27 114.71,330.09 93.65,334.72" fill="url(#gdSide)" /><polygon points="101.35,317.14 106.17,316.38 104.16,315.71 102.27,316.25" fill="#181a1a" /><polygon points="93.65,320.79 114.71,317.27 103.97,313.73 99.99,314.31 106.17,316.38 88.99,319.1" fill="#f3f4f4" /><polygon points="106.17,316.38 110.13,315.76 103.97,313.73 99.99,314.31" fill="#7c8484" opacity="0.30"/><polygon points="105.23,318.85 114.71,317.27 110.13,315.76 100.61,317.26" fill="#8a9090" opacity="0.16"/><polygon points="131.48,315.31 138,317.32 138,329.64 131.48,327.41" fill="#4a4c4c" /><polygon points="123.63,319.97 128.59,321.6 128.59,334.92 123.63,333.1" fill="url(#gdEnd)" /><polygon points="128.59,321.6 146.13,318.16 146.13,330.46 128.59,334.92" fill="url(#gdSideF)" /><polygon points="133.96,318.06 138,317.32 135.89,316.67 134.41,317.19" fill="#181a1a" /><polygon points="128.59,321.6 146.13,318.16 134.84,314.74 131.48,315.31 138,317.32 123.63,319.97" fill="#c1c5c7" /><polygon points="138,317.32 141.32,316.7 134.84,314.74 131.48,315.31" fill="#7c8484" opacity="0.30"/><polygon points="138.22,319.71 146.13,318.16 141.32,316.7 133.34,318.18" fill="#8a9090" opacity="0.16"/><polygon points="-8.42,315.99 -3.45,318.56 -3.45,334.2 -8.42,331.28" fill="#4a4c4c" /><polygon points="-33.89,322.1 -30.42,324.25 -30.42,341.53 -33.89,339.06" fill="url(#gdEnd)" /><polygon points="-30.42,324.25 7.2,319.63 7.2,335.24 -30.42,341.53" fill="url(#gdSide)" /><polygon points="-11.9,319.54 -3.45,318.56 -5.07,317.72 -8.83,318.41" fill="#181a1a" /><polygon points="-30.42,324.25 7.2,319.63 -1.6,315.26 -8.42,315.99 -3.45,318.56 -33.89,322.1" fill="#ffffff" /><polygon points="-3.45,318.56 3.43,317.76 -1.6,315.26 -8.42,315.99" fill="#7c8484" opacity="0.30"/><polygon points="-9.56,321.69 7.2,319.63 3.43,317.76 -13.21,319.69" fill="#8a9090" opacity="0.16"/><polygon points="34.68,317.12 40.37,319.58 40.37,334.45 34.68,331.66" fill="#4a4c4c" /><polygon points="15.03,323.01 19.18,325.07 19.18,341.41 15.03,339.07" fill="url(#gdEnd)" /><polygon points="19.18,325.07 50.4,320.6 50.4,335.44 19.18,341.41" fill="url(#gdSide)" /><polygon points="33.31,320.54 40.37,319.58 38.52,318.78 35.49,319.44" fill="#181a1a" /><polygon points="19.18,325.07 50.4,320.6 40.42,316.4 34.68,317.12 40.37,319.58 15.03,323.01" fill="#ffffff" /><polygon points="40.37,319.58 46.13,318.8 40.42,316.4 34.68,317.12" fill="#7c8484" opacity="0.30"/><polygon points="36.46,322.59 50.4,320.6 46.13,318.8 32.23,320.68" fill="#8a9090" opacity="0.16"/><polygon points="73.81,318.14 80.07,320.51 80.07,334.68 73.81,332.01" fill="#4a4c4c" /><polygon points="59.01,323.83 63.69,325.8 63.69,341.3 59.01,339.08" fill="url(#gdEnd)" /><polygon points="63.69,325.8 89.55,321.47 89.55,335.62 63.69,341.3" fill="url(#gdSide)" /><polygon points="74.19,321.44 80.07,320.51 78.04,319.74 75.63,320.38" fill="#181a1a" /><polygon points="63.69,325.8 89.55,321.47 78.63,317.43 73.81,318.14 80.07,320.51 59.01,323.83" fill="#ffffff" /><polygon points="80.07,320.51 84.88,319.75 78.63,317.43 73.81,318.14" fill="#7c8484" opacity="0.30"/><polygon points="77.97,323.41 89.55,321.47 84.88,319.75 73.29,321.58" fill="#8a9090" opacity="0.16"/><polygon points="109.5,319.07 116.21,321.35 116.21,334.89 109.5,332.33" fill="#4a4c4c" /><polygon points="98.76,324.58 103.85,326.45 103.85,341.2 98.76,339.09" fill="url(#gdEnd)" /><polygon points="103.85,326.45 125.19,322.27 125.19,335.78 103.85,341.2" fill="url(#gdSide)" /><polygon points="111.32,322.25 116.21,321.35 114.03,320.61 112.15,321.23" fill="#181a1a" /><polygon points="103.85,326.45 125.19,322.27 113.53,318.38 109.5,319.07 116.21,321.35 98.76,324.58" fill="#e4e6e7" /><polygon points="116.21,321.35 120.21,320.61 113.53,318.38 109.5,319.07" fill="#7c8484" opacity="0.30"/><polygon points="115.61,324.15 125.19,322.27 120.21,320.61 110.57,322.39" fill="#8a9090" opacity="0.16"/><polygon points="142.18,319.92 149.24,322.12 149.24,335.08 142.18,332.63" fill="#4a4c4c" /><polygon points="134.86,325.25 140.26,327.05 140.26,341.11 134.86,339.1" fill="url(#gdEnd)" /><polygon points="140.26,327.05 157.78,323 157.78,335.93 140.26,341.11" fill="url(#gdSideF)" /><polygon points="145.21,323 149.24,322.12 146.96,321.4 145.52,322.01" fill="#181a1a" /><polygon points="140.26,327.05 157.78,323 145.54,319.24 142.18,319.92 149.24,322.12 134.86,325.25" fill="#b0b6b8" /><polygon points="149.24,322.12 152.56,321.4 145.54,319.24 142.18,319.92" fill="#7c8484" opacity="0.30"/><polygon points="149.9,324.82 157.78,323 152.56,321.4 144.59,323.13" fill="#8a9090" opacity="0.16"/><polygon points="-3.75,321.94 1.66,324.82 1.66,341.5 -3.75,338.21" fill="#4a4c4c" /><polygon points="-30.51,329.18 -26.72,331.64 -26.72,350.18 -30.51,347.36" fill="url(#gdEnd)" /><polygon points="-26.72,331.64 13.01,325.95 13.01,342.59 -26.72,350.18" fill="url(#gdSide)" /><polygon points="-7.24,326.03 1.66,324.82 -0.1,323.88 -4.05,324.7" fill="#181a1a" /><polygon points="-26.72,331.64 13.01,325.95 3.41,321.04 -3.75,321.94 1.66,324.82 -30.51,329.18" fill="#ffffff" /><polygon points="1.66,324.82 8.89,323.84 3.41,321.04 -3.75,321.94" fill="#7c8484" opacity="0.30"/><polygon points="-4.62,328.47 13.01,325.95 8.89,323.84 -8.61,326.21" fill="#8a9090" opacity="0.16"/><polygon points="41.75,322.83 47.96,325.58 47.96,341.39 41.75,338.26" fill="#4a4c4c" /><polygon points="21.55,329.75 26.11,332.08 26.11,349.55 21.55,346.9" fill="url(#gdEnd)" /><polygon points="26.11,332.08 58.6,326.65 58.6,342.42 26.11,349.55" fill="url(#gdSide)" /><polygon points="40.63,326.74 47.96,325.58 45.94,324.68 42.82,325.47" fill="#181a1a" /><polygon points="26.11,332.08 58.6,326.65 47.7,321.96 41.75,322.83 47.96,325.58 21.55,329.75" fill="#ffffff" /><polygon points="47.96,325.58 53.93,324.64 47.7,321.96 41.75,322.83" fill="#7c8484" opacity="0.30"/><polygon points="44.14,329.06 58.6,326.65 53.93,324.64 39.5,326.92" fill="#8a9090" opacity="0.16"/><polygon points="82.81,323.63 89.65,326.26 89.65,341.28 82.81,338.31" fill="#4a4c4c" /><polygon points="68.01,330.27 73.16,332.47 73.16,348.99 68.01,346.49" fill="url(#gdEnd)" /><polygon points="73.16,332.47 99.67,327.27 99.67,342.26 73.16,348.99" fill="url(#gdSide)" /><polygon points="83.63,327.38 89.65,326.26 87.43,325.41 85,326.16" fill="#181a1a" /><polygon points="73.16,332.47 99.67,327.27 87.75,322.78 82.81,323.63 89.65,326.26 68.01,330.27" fill="#ffffff" /><polygon points="89.65,326.26 94.57,325.35 87.75,322.78 82.81,323.63" fill="#7c8484" opacity="0.30"/><polygon points="87.83,329.59 99.67,327.27 94.57,325.35 82.7,327.55" fill="#8a9090" opacity="0.16"/><polygon points="120.07,324.35 127.39,326.88 127.39,341.19 120.07,338.36" fill="#4a4c4c" /><polygon points="109.73,330.73 115.32,332.83 115.32,348.49 109.73,346.13" fill="url(#gdEnd)" /><polygon points="115.32,332.83 136.85,327.84 136.85,342.12 115.32,348.49" fill="url(#gdSideF)" /><polygon points="122.46,327.95 127.39,326.88 125.01,326.06 123.16,326.79" fill="#181a1a" /><polygon points="115.32,332.83 136.85,327.84 124.14,323.54 120.07,324.35 127.39,326.88 109.73,330.73" fill="#d4d7d8" /><polygon points="127.39,326.88 131.42,326 124.14,323.54 120.07,324.35" fill="#7c8484" opacity="0.30"/><polygon points="127.21,330.07 136.85,327.84 131.42,326 121.7,328.12" fill="#8a9090" opacity="0.16"/><polygon points="154.02,325.02 161.71,327.44 161.71,341.1 154.02,338.4" fill="#4a4c4c" /><polygon points="147.39,331.14 153.32,333.14 153.32,348.03 147.39,345.79" fill="url(#gdEnd)" /><polygon points="153.32,333.14 170.68,328.36 170.68,341.99 153.32,348.03" fill="url(#gdSideF)" /><polygon points="157.7,328.48 161.71,327.44 159.21,326.65 157.84,327.35" fill="#181a1a" /><polygon points="153.32,333.14 170.68,328.36 157.36,324.22 154.02,325.02 161.71,327.44 147.39,331.14" fill="#9ea5a7" /><polygon points="161.71,327.44 164.99,326.59 157.36,324.22 154.02,325.02" fill="#7c8484" opacity="0.30"/><polygon points="162.89,330.51 170.68,328.36 164.99,326.59 157.09,328.64" fill="#8a9090" opacity="0.16"/><polygon points="167.19,330.69 175.6,333.37 175.6,347.82 167.19,344.82" fill="#4a4c4c" /><polygon points="161.47,337.76 168.01,340 168.01,355.83 161.47,353.32" fill="url(#gdEnd)" /><polygon points="168.01,340 185.05,334.33 185.05,348.74 168.01,355.83" fill="url(#gdSideF)" /><polygon points="171.66,334.6 175.6,333.37 172.87,332.5 171.59,333.31" fill="#181a1a" /><polygon points="168.01,340 185.05,334.33 170.49,329.75 167.19,330.69 175.6,333.37 161.47,337.76" fill="#949c9e" /><polygon points="175.6,333.37 178.82,332.37 170.49,329.75 167.19,330.69" fill="#7c8484" opacity="0.30"/><polygon points="177.43,336.87 185.05,334.33 178.82,332.37 171.05,334.79" fill="#8a9090" opacity="0.16"/><polygon points="131.88,330.26 139.91,333.08 139.91,348.25 131.88,345.09" fill="#4a4c4c" /><polygon points="122.12,337.68 128.31,340.04 128.31,356.74 122.12,354.08" fill="url(#gdEnd)" /><polygon points="128.31,340.04 149.92,334.08 149.92,349.22 128.31,356.74" fill="url(#gdSideF)" /><polygon points="134.96,334.36 139.91,333.08 137.3,332.16 135.5,333.01" fill="#181a1a" /><polygon points="128.31,340.04 149.92,334.08 135.98,329.29 131.88,330.26 139.91,333.08 122.12,337.68" fill="#c1c6c7" /><polygon points="139.91,333.08 143.95,332.03 135.98,329.29 131.88,330.26" fill="#7c8484" opacity="0.30"/><polygon points="140.28,336.74 149.92,334.08 143.95,332.03 134.2,334.55" fill="#8a9090" opacity="0.16"/><polygon points="92.93,329.8 100.45,332.75 100.45,348.72 92.93,345.39" fill="#4a4c4c" /><polygon points="78.24,337.58 83.95,340.09 83.95,357.76 78.24,354.93" fill="url(#gdEnd)" /><polygon points="83.95,340.09 111.08,333.81 111.08,349.74 83.95,357.76" fill="url(#gdSide)" /><polygon points="94.29,334.09 100.45,332.75 98,331.79 95.57,332.68" fill="#181a1a" /><polygon points="83.95,340.09 111.08,333.81 97.97,328.79 92.93,329.8 100.45,332.75 78.24,337.58" fill="#ffffff" /><polygon points="100.45,332.75 105.46,331.66 97.97,328.79 92.93,329.8" fill="#7c8484" opacity="0.30"/><polygon points="99.01,336.6 111.08,333.81 105.46,331.66 93.34,334.3" fill="#8a9090" opacity="0.16"/><polygon points="49.74,329.28 56.57,332.38 56.57,349.25 49.74,345.72" fill="#4a4c4c" /><polygon points="29.01,337.48 34.07,340.14 34.07,358.91 29.01,355.88" fill="url(#gdEnd)" /><polygon points="34.07,340.14 67.9,333.5 67.9,350.32 34.07,358.91" fill="url(#gdSide)" /><polygon points="48.96,333.79 56.57,332.38 54.35,331.37 51.14,332.31" fill="#181a1a" /><polygon points="34.07,340.14 67.9,333.5 55.91,328.22 49.74,329.28 56.57,332.38 29.01,337.48" fill="#ffffff" /><polygon points="56.57,332.38 62.76,331.24 55.91,328.22 49.74,329.28" fill="#7c8484" opacity="0.30"/><polygon points="52.9,336.44 67.9,333.5 62.76,331.24 47.78,334.01" fill="#8a9090" opacity="0.16"/><polygon points="1.56,328.7 7.5,331.97 7.5,349.84 1.56,346.1" fill="#4a4c4c" /><polygon points="-26.61,337.36 -22.43,340.19 -22.43,360.22 -26.61,356.96" fill="url(#gdEnd)" /><polygon points="-22.43,340.19 19.63,333.16 19.63,350.98 -22.43,360.22" fill="url(#gdSide)" /><polygon points="-1.89,333.46 7.5,331.97 5.57,330.91 1.42,331.89" fill="#181a1a" /><polygon points="-22.43,340.19 19.63,333.16 9.1,327.6 1.56,328.7 7.5,331.97 -26.61,337.36" fill="#ffffff" /><polygon points="7.5,331.97 15.1,330.77 9.1,327.6 1.56,328.7" fill="#7c8484" opacity="0.30"/><polygon points="1.06,336.27 19.63,333.16 15.1,330.77 -3.34,333.69" fill="#8a9090" opacity="0.16"/><polygon points="181.92,337.03 191.18,340.03 191.18,355.35 181.92,352" fill="#4a4c4c" /><polygon points="177.4,345.25 184.67,347.78 184.67,364.66 177.4,361.83" fill="url(#gdEnd)" /><polygon points="184.67,347.78 201.17,341.03 201.17,356.31 184.67,364.66" fill="url(#gdSideF)" /><polygon points="187.35,341.48 191.18,340.03 188.17,339.05 187.01,340" fill="#181a1a" /><polygon points="184.67,347.78 201.17,341.03 185.14,335.93 181.92,337.03 191.18,340.03 177.4,345.25" fill="#949c9e" /><polygon points="191.18,340.03 194.31,338.84 185.14,335.93 181.92,337.03" fill="#7c8484" opacity="0.30"/><polygon points="193.81,344.04 201.17,341.03 194.31,338.84 186.76,341.7" fill="#8a9090" opacity="0.16"/><polygon points="145.18,336.91 154.04,340.07 154.04,356.21 145.18,352.67" fill="#4a4c4c" /><polygon points="136.24,345.6 143.14,348.28 143.14,366.17 136.24,363.14" fill="url(#gdEnd)" /><polygon points="143.14,348.28 164.65,341.12 164.65,357.22 143.14,366.17" fill="url(#gdSideF)" /><polygon points="149.11,341.6 154.04,340.07 151.16,339.04 149.43,340.04" fill="#181a1a" /><polygon points="143.14,348.28 164.65,341.12 149.27,335.75 145.18,336.91 154.04,340.07 136.24,345.6" fill="#acb2b4" /><polygon points="154.04,340.07 158.06,338.82 149.27,335.75 145.18,336.91" fill="#7c8484" opacity="0.30"/><polygon points="155.09,344.3 164.65,341.12 158.06,338.82 148.35,341.84" fill="#8a9090" opacity="0.16"/><polygon points="104.39,336.78 112.71,340.11 112.71,357.16 104.39,353.4" fill="#4a4c4c" /><polygon points="89.99,345.98 96.37,348.85 96.37,367.86 89.99,364.61" fill="url(#gdEnd)" /><polygon points="96.37,348.85 124.02,341.22 124.02,358.23 96.37,367.86" fill="url(#gdSide)" /><polygon points="106.43,341.73 112.71,340.11 110,339.03 107.57,340.08" fill="#181a1a" /><polygon points="96.37,348.85 124.02,341.22 109.52,335.56 104.39,336.78 112.71,340.11 89.99,345.98" fill="#eff0f0" /><polygon points="112.71,340.11 117.8,338.79 109.52,335.56 104.39,336.78" fill="#7c8484" opacity="0.30"/><polygon points="111.77,344.6 124.02,341.22 117.8,338.79 105.46,341.98" fill="#8a9090" opacity="0.16"/><polygon points="58.85,336.63 66.42,340.16 66.42,358.23 58.85,354.23" fill="#4a4c4c" /><polygon points="37.66,346.43 43.31,349.49 43.31,369.78 37.66,366.28" fill="url(#gdEnd)" /><polygon points="43.31,349.49 78.53,341.34 78.53,359.36 43.31,369.78" fill="url(#gdSide)" /><polygon points="58.51,341.88 66.42,340.16 63.95,339.01 60.66,340.13" fill="#181a1a" /><polygon points="43.31,349.49 78.53,341.34 65.24,335.35 58.85,336.63 66.42,340.16 37.66,346.43" fill="#ffffff" /><polygon points="66.42,340.16 72.82,338.77 65.24,335.35 58.85,336.63" fill="#7c8484" opacity="0.30"/><polygon points="62.99,344.94 78.53,341.34 72.82,338.77 57.28,342.15" fill="#8a9090" opacity="0.16"/><polygon points="7.66,336.47 14.23,340.22 14.23,359.44 7.66,355.15" fill="#4a4c4c" /><polygon points="-22.05,346.93 -17.4,350.23 -17.4,371.98 -22.05,368.18" fill="url(#gdEnd)" /><polygon points="-17.4,350.23 27.26,341.47 27.26,360.64 -17.4,371.98" fill="url(#gdSide)" /><polygon points="4.3,342.05 14.23,340.22 12.09,338.99 7.73,340.18" fill="#181a1a" /><polygon points="-17.4,350.23 27.26,341.47 15.6,335.11 7.66,336.47 14.23,340.22 -22.05,346.93" fill="#ffffff" /><polygon points="14.23,340.22 22.24,338.73 15.6,335.11 7.66,336.47" fill="#7c8484" opacity="0.30"/><polygon points="7.64,345.32 27.26,341.47 22.24,338.73 2.76,342.34" fill="#8a9090" opacity="0.16"/><polygon points="160.24,344.45 170.11,348.01 170.11,365.26 160.24,361.25" fill="#4a4c4c" /><polygon points="152.47,354.7 160.24,357.78 160.24,377.03 152.47,373.55" fill="url(#gdEnd)" /><polygon points="160.24,357.78 181.4,349.12 181.4,366.32 160.24,377.03" fill="url(#gdSideF)" /><polygon points="165.24,349.86 170.11,348.01 166.89,346.85 165.27,348.03" fill="#181a1a" /><polygon points="160.24,357.78 181.4,349.12 164.29,343.06 160.24,344.45 170.11,348.01 152.47,354.7" fill="#949c9e" /><polygon points="170.11,348.01 174.06,346.52 164.29,343.06 160.24,344.45" fill="#7c8484" opacity="0.30"/><polygon points="172.03,352.95 181.4,349.12 174.06,346.52 164.49,350.14" fill="#8a9090" opacity="0.16"/><polygon points="117.46,344.75 126.74,348.54 126.74,366.83 117.46,362.55" fill="#4a4c4c" /><polygon points="103.61,355.73 110.82,359.04 110.82,379.6 103.61,375.84" fill="url(#gdEnd)" /><polygon points="110.82,359.04 138.84,349.71 138.84,367.95 110.82,379.6" fill="url(#gdSide)" /><polygon points="120.39,350.52 126.74,348.54 123.72,347.31 121.32,348.57" fill="#181a1a" /><polygon points="110.82,359.04 138.84,349.71 122.67,343.28 117.46,344.75 126.74,348.54 103.61,355.73" fill="#daddde" /><polygon points="126.74,348.54 131.89,346.95 122.67,343.28 117.46,344.75" fill="#7c8484" opacity="0.30"/><polygon points="126.48,353.83 138.84,349.71 131.89,346.95 119.4,350.82" fill="#8a9090" opacity="0.16"/><polygon points="69.32,345.09 77.78,349.14 77.78,368.61 69.32,364.01" fill="#4a4c4c" /><polygon points="47.78,356.9 54.17,360.49 54.17,382.55 47.78,378.45" fill="url(#gdEnd)" /><polygon points="54.17,360.49 90.8,350.38 90.8,369.8 54.17,382.55" fill="url(#gdSide)" /><polygon points="69.58,351.26 77.78,349.14 75.02,347.82 71.66,349.17" fill="#181a1a" /><polygon points="54.17,360.49 90.8,350.38 75.95,343.52 69.32,345.09 77.78,349.14 47.78,356.9" fill="#ffffff" /><polygon points="77.78,349.14 84.4,347.43 75.95,343.52 69.32,345.09" fill="#7c8484" opacity="0.30"/><polygon points="74.72,354.82 90.8,350.38 84.4,347.43 68.3,351.59" fill="#8a9090" opacity="0.16"/><polygon points="14.74,345.48 22.07,349.82 22.07,370.63 14.74,365.66" fill="#4a4c4c" /><polygon points="-16.64,358.25 -11.42,362.16 -11.42,385.96 -16.64,381.46" fill="url(#gdEnd)" /><polygon points="-11.42,362.16 36.15,351.15 36.15,371.9 -11.42,385.96" fill="url(#gdSide)" /><polygon points="11.54,352.12 22.07,349.82 19.67,348.4 15.1,349.86" fill="#181a1a" /><polygon points="-11.42,362.16 36.15,351.15 23.13,343.8 14.74,345.48 22.07,349.82 -16.64,358.25" fill="#ffffff" /><polygon points="22.07,349.82 30.53,347.98 23.13,343.8 14.74,345.48" fill="#7c8484" opacity="0.30"/><polygon points="15.39,355.95 36.15,351.15 30.53,347.98 9.9,352.47" fill="#8a9090" opacity="0.16"/><polygon points="132.52,353.93 142.98,358.29 142.98,378.02 132.52,373.08" fill="#4a4c4c" /><polygon points="119.6,367.16 127.83,371.04 127.83,393.43 119.6,389.01" fill="url(#gdEnd)" /><polygon points="127.83,371.04 155.97,359.53 155.97,379.19 127.83,393.43" fill="url(#gdSideF)" /><polygon points="136.59,360.72 142.98,358.29 139.56,356.87 137.25,358.39" fill="#181a1a" /><polygon points="127.83,371.04 155.97,359.53 137.77,352.14 132.52,353.93 142.98,358.29 119.6,367.16" fill="#c2c6c8" /><polygon points="142.98,358.29 148.13,356.34 137.77,352.14 132.52,353.93" fill="#7c8484" opacity="0.30"/><polygon points="143.63,364.58 155.97,359.53 148.13,356.34 135.6,361.09" fill="#8a9090" opacity="0.16"/><polygon points="81.49,354.92 91.05,359.62 91.05,380.72 81.49,375.37" fill="#4a4c4c" /><polygon points="59.79,369.33 67.11,373.59 67.11,397.77 59.79,392.89" fill="url(#gdEnd)" /><polygon points="67.11,373.59 105.11,360.94 105.11,381.97 67.11,397.77" fill="url(#gdSide)" /><polygon points="82.56,362.26 91.05,359.62 87.93,358.09 84.52,359.74" fill="#181a1a" /><polygon points="67.11,373.59 105.11,360.94 88.34,352.99 81.49,354.92 91.05,359.62 59.79,369.33" fill="#ffffff" /><polygon points="91.05,359.62 97.88,357.51 88.34,352.99 81.49,354.92" fill="#7c8484" opacity="0.30"/><polygon points="88.54,366.45 105.11,360.94 97.88,357.51 81.24,362.67" fill="#8a9090" opacity="0.16"/><polygon points="23.05,356.06 31.32,361.15 31.32,383.84 23.05,378" fill="#4a4c4c" /><polygon points="-10.15,371.88 -4.19,376.58 -4.19,402.87 -10.15,397.43" fill="url(#gdEnd)" /><polygon points="-4.19,376.58 46.64,362.56 46.64,385.17 -4.19,402.87" fill="url(#gdSide)" /><polygon points="20.13,364.05 31.32,361.15 28.61,359.49 23.79,361.29" fill="#181a1a" /><polygon points="-4.19,376.58 46.64,362.56 31.93,353.96 23.05,356.06 31.32,361.15 -10.15,371.88" fill="#ffffff" /><polygon points="31.32,361.15 40.28,358.84 31.93,353.96 23.05,356.06" fill="#7c8484" opacity="0.30"/><polygon points="24.62,368.63 46.64,362.56 40.28,358.84 18.38,364.5" fill="#8a9090" opacity="0.16"/><polygon points="95.82,366.49 106.75,372.02 106.75,395.05 95.82,388.75" fill="#4a4c4c" /><polygon points="74.28,384.33 82.8,389.47 82.8,416.22 74.28,410.32" fill="url(#gdEnd)" /><polygon points="82.8,389.47 122.03,373.41 122.03,396.36 82.8,416.22" fill="url(#gdSide)" /><polygon points="98,375.34 106.75,372.02 103.17,370.21 99.75,372.25" fill="#181a1a" /><polygon points="82.8,389.47 122.03,373.41 102.87,364.08 95.82,366.49 106.75,372.02 74.28,384.33" fill="#ffffff" /><polygon points="106.75,372.02 113.74,369.37 102.87,364.08 95.82,366.49" fill="#7c8484" opacity="0.30"/><polygon points="105.06,380.36 122.03,373.41 113.74,369.37 96.63,375.86" fill="#8a9090" opacity="0.16"/><polygon points="32.94,368.66 42.41,374.73 42.41,399.66 32.94,392.68" fill="#4a4c4c" /><polygon points="-2.18,388.57 4.72,394.35 4.72,423.7 -2.18,417.02" fill="url(#gdEnd)" /><polygon points="4.72,394.35 59.19,376.22 59.19,401.06 4.72,423.7" fill="url(#gdSide)" /><polygon points="30.48,378.43 42.41,374.73 39.3,372.74 34.23,375" fill="#181a1a" /><polygon points="4.72,394.35 59.19,376.22 42.36,365.99 32.94,368.66 42.41,374.73 -2.18,388.57" fill="#ffffff" /><polygon points="42.41,374.73 51.89,371.79 42.36,365.99 32.94,368.66" fill="#7c8484" opacity="0.30"/><polygon points="35.81,384.01 59.19,376.22 51.89,371.79 28.61,379.01" fill="#8a9090" opacity="0.16"/><polygon points="44.92,383.91 55.92,391.28 55.92,418.95 44.92,410.47" fill="#4a4c4c" /><polygon points="7.81,409.52 15.99,416.82 15.99,450.04 7.81,441.58" fill="url(#gdEnd)" /><polygon points="15.99,416.82 74.49,392.87 74.49,420.43 15.99,450.04" fill="url(#gdSide)" /><polygon points="43.2,396.11 55.92,391.28 52.3,388.86 46.98,391.76" fill="#181a1a" /><polygon points="15.99,416.82 74.49,392.87 54.91,380.49 44.92,383.91 55.92,391.28 7.81,409.52" fill="#ffffff" /><polygon points="55.92,391.28 65.96,387.48 54.91,380.49 44.92,383.91" fill="#7c8484" opacity="0.30"/><polygon points="49.66,403.04 74.49,392.87 65.96,387.48 41.2,396.87" fill="#8a9090" opacity="0.16"/>
</g>
<line x1="156" y1="314.9" x2="156" y2="294.4" stroke="#111" stroke-width="1.45" />
<polygon points="156,291.4 158.1,296.2 153.9,296.2" fill="#111" />
<line x1="156" y1="314.9" x2="174.4" y2="307.78" stroke="#111" stroke-width="1.45" />
<polygon points="177.2,306.7 173.48,310.39 171.97,306.47" fill="#111" />
<line x1="156" y1="314.9" x2="173.31" y2="321.79" stroke="#111" stroke-width="1.45" />
<polygon points="176.1,322.9 170.86,323.08 172.42,319.17" fill="#111" />
<text x="148" y="295.6" font-family='"Liberation Sans", sans-serif' font-size="10.5" fill="#111" text-anchor="middle" font-weight="normal" font-style="italic" >z</text>
<text x="182.4" y="305.6" font-family='"Liberation Sans", sans-serif' font-size="10.5" fill="#111" text-anchor="middle" font-weight="normal" font-style="italic" >y</text>
<text x="182" y="327" font-family='"Liberation Sans", sans-serif' font-size="10.5" fill="#111" text-anchor="middle" font-weight="normal" font-style="italic" >x</text>
<text x="194.8" y="355.5" font-family='"Liberation Sans", sans-serif' font-size="10" fill="#111" text-anchor="start" font-weight="normal" font-style="normal" >Si</text>
<text x="194.8" y="381.5" font-family='"Liberation Sans", sans-serif' font-size="10" fill="#111" text-anchor="start" font-weight="normal" font-style="normal" >SiO<tspan font-size="6.6" dy="2.2">2</tspan></text>
<text x="194.8" y="406.2" font-family='"Liberation Sans", sans-serif' font-size="10" fill="#111" text-anchor="start" font-weight="normal" font-style="normal" >Si</text>
</g>
<rect x="43" y="418.4" width="165.2" height="117.5" fill="none" stroke="#111" stroke-width="0.8"/>
<line x1="43" y1="535.9" x2="44.8" y2="535.9" stroke="#111" stroke-width="0.6" />
<line x1="206.4" y1="535.9" x2="208.2" y2="535.9" stroke="#111" stroke-width="0.6" />
<text x="39" y="539.3" font-family='"Liberation Sans", sans-serif' font-size="9.6" fill="#111" text-anchor="end" font-weight="normal" font-style="normal" >0</text>
<line x1="43" y1="512.4" x2="44.8" y2="512.4" stroke="#111" stroke-width="0.6" />
<line x1="206.4" y1="512.4" x2="208.2" y2="512.4" stroke="#111" stroke-width="0.6" />
<text x="39" y="515.8" font-family='"Liberation Sans", sans-serif' font-size="9.6" fill="#111" text-anchor="end" font-weight="normal" font-style="normal" >0.2</text>
<line x1="43" y1="488.9" x2="44.8" y2="488.9" stroke="#111" stroke-width="0.6" />
<line x1="206.4" y1="488.9" x2="208.2" y2="488.9" stroke="#111" stroke-width="0.6" />
<text x="39" y="492.3" font-family='"Liberation Sans", sans-serif' font-size="9.6" fill="#111" text-anchor="end" font-weight="normal" font-style="normal" >0.4</text>
<line x1="43" y1="465.4" x2="44.8" y2="465.4" stroke="#111" stroke-width="0.6" />
<line x1="206.4" y1="465.4" x2="208.2" y2="465.4" stroke="#111" stroke-width="0.6" />
<text x="39" y="468.8" font-family='"Liberation Sans", sans-serif' font-size="9.6" fill="#111" text-anchor="end" font-weight="normal" font-style="normal" >0.6</text>
<line x1="43" y1="441.9" x2="44.8" y2="441.9" stroke="#111" stroke-width="0.6" />
<line x1="206.4" y1="441.9" x2="208.2" y2="441.9" stroke="#111" stroke-width="0.6" />
<text x="39" y="445.3" font-family='"Liberation Sans", sans-serif' font-size="9.6" fill="#111" text-anchor="end" font-weight="normal" font-style="normal" >0.8</text>
<line x1="43" y1="418.4" x2="44.8" y2="418.4" stroke="#111" stroke-width="0.6" />
<line x1="206.4" y1="418.4" x2="208.2" y2="418.4" stroke="#111" stroke-width="0.6" />
<text x="39" y="421.8" font-family='"Liberation Sans", sans-serif' font-size="9.6" fill="#111" text-anchor="end" font-weight="normal" font-style="normal" >1</text>
<line x1="43" y1="535.9" x2="43" y2="534.1" stroke="#111" stroke-width="0.6" />
<line x1="43" y1="418.4" x2="43" y2="420.2" stroke="#111" stroke-width="0.6" />
<text x="43" y="550.3" font-family='"Liberation Sans", sans-serif' font-size="9.6" fill="#111" text-anchor="middle" font-weight="normal" font-style="normal" >4</text>
<line x1="70.53" y1="535.9" x2="70.53" y2="534.1" stroke="#111" stroke-width="0.6" />
<line x1="70.53" y1="418.4" x2="70.53" y2="420.2" stroke="#111" stroke-width="0.6" />
<text x="70.53" y="550.3" font-family='"Liberation Sans", sans-serif' font-size="9.6" fill="#111" text-anchor="middle" font-weight="normal" font-style="normal" >4.2</text>
<line x1="98.07" y1="535.9" x2="98.07" y2="534.1" stroke="#111" stroke-width="0.6" />
<line x1="98.07" y1="418.4" x2="98.07" y2="420.2" stroke="#111" stroke-width="0.6" />
<text x="98.07" y="550.3" font-family='"Liberation Sans", sans-serif' font-size="9.6" fill="#111" text-anchor="middle" font-weight="normal" font-style="normal" >4.4</text>
<line x1="125.6" y1="535.9" x2="125.6" y2="534.1" stroke="#111" stroke-width="0.6" />
<line x1="125.6" y1="418.4" x2="125.6" y2="420.2" stroke="#111" stroke-width="0.6" />
<text x="125.6" y="550.3" font-family='"Liberation Sans", sans-serif' font-size="9.6" fill="#111" text-anchor="middle" font-weight="normal" font-style="normal" >4.6</text>
<line x1="153.13" y1="535.9" x2="153.13" y2="534.1" stroke="#111" stroke-width="0.6" />
<line x1="153.13" y1="418.4" x2="153.13" y2="420.2" stroke="#111" stroke-width="0.6" />
<text x="153.13" y="550.3" font-family='"Liberation Sans", sans-serif' font-size="9.6" fill="#111" text-anchor="middle" font-weight="normal" font-style="normal" >4.8</text>
<line x1="180.67" y1="535.9" x2="180.67" y2="534.1" stroke="#111" stroke-width="0.6" />
<line x1="180.67" y1="418.4" x2="180.67" y2="420.2" stroke="#111" stroke-width="0.6" />
<text x="180.67" y="550.3" font-family='"Liberation Sans", sans-serif' font-size="9.6" fill="#111" text-anchor="middle" font-weight="normal" font-style="normal" >5</text>
<line x1="208.2" y1="535.9" x2="208.2" y2="534.1" stroke="#111" stroke-width="0.6" />
<line x1="208.2" y1="418.4" x2="208.2" y2="420.2" stroke="#111" stroke-width="0.6" />
<text x="208.2" y="550.3" font-family='"Liberation Sans", sans-serif' font-size="9.6" fill="#111" text-anchor="middle" font-weight="normal" font-style="normal" >5.2</text>
<text x="0" y="0" font-family='"Liberation Sans", sans-serif' font-size="10.6" fill="#111" text-anchor="middle" font-weight="normal" font-style="normal" transform="translate(17,478) rotate(-90)" textLength="65.5" lengthAdjust="spacingAndGlyphs">Transmission</text>
<text x="126" y="565.2" font-family='"Liberation Sans", sans-serif' font-size="10.6" fill="#111" text-anchor="middle" font-weight="normal" font-style="normal" textLength="30.5" lengthAdjust="spacingAndGlyphs"><tspan font-style="italic">λ</tspan> (μm)</text>
<clipPath id="clipD"><rect x="43" y="418.4" width="165.2" height="117.5"/></clipPath><g clip-path="url(#clipD)">
<polyline points="43,530.02 43.33,530.02 43.66,530.02 43.99,530.01 44.32,530 44.66,529.98 44.99,529.96 45.32,529.94 45.65,529.92 45.98,529.89 46.31,529.87 46.64,529.83 46.97,529.8 47.3,529.77 47.63,529.73 47.97,529.69 48.3,529.65 48.63,529.61 48.96,529.56 49.29,529.52 49.62,529.47 49.95,529.43 50.28,529.37 50.61,529.31 50.95,529.23 51.28,529.14 51.61,529.05 51.94,528.94 52.27,528.83 52.6,528.7 52.93,528.57 53.26,528.43 53.59,528.28 53.93,528.12 54.26,527.96 54.59,527.79 54.92,527.61 55.25,527.42 55.58,527.23 55.91,527.03 56.24,526.83 56.57,526.62 56.9,526.41 57.24,526.17 57.57,525.91 57.9,525.61 58.23,525.3 58.56,524.95 58.89,524.58 59.22,524.19 59.55,523.77 59.88,523.32 60.22,522.85 60.55,522.35 60.88,521.83 61.21,521.25 61.54,520.58 61.87,519.83 62.2,519.01 62.53,518.12 62.86,517.17 63.19,516.18 63.53,515.15 63.86,514.06 64.19,512.86 64.52,511.55 64.85,510.16 65.18,508.69 65.51,507.18 65.84,505.63 66.17,504.07 66.51,502.51 66.84,500.79 67.17,498.95 67.5,497.09 67.83,495.3 68.16,493.68 68.49,492.34 68.82,491.08 69.15,489.82 69.48,488.73 69.82,487.98 70.15,487.73 70.48,488.25 70.81,489.52 71.14,491.31 71.47,493.43 71.8,496.76 72.13,502 72.46,508 72.8,513.61 73.13,518.51 73.46,523.67 73.79,528.33 74.12,531.63 74.45,533.2 74.78,534.4 75.11,535.31 75.44,535.82 75.78,535.77 76.11,534.65 76.44,532.74 76.77,530.46 77.1,528.17 77.43,525.14 77.76,521.57 78.09,518.09 78.42,515.32 78.75,513.46 79.09,511.73 79.42,510.35 79.75,509.55 80.08,509.58 80.41,510.31 80.74,511.47 81.07,512.8 81.4,514.11 81.73,515.81 82.07,517.77 82.4,519.66 82.73,521.19 83.06,522.12 83.39,522.89 83.72,523.6 84.05,524.25 84.38,524.82 84.71,525.28 85.04,525.63 85.38,525.85 85.71,525.91 86.04,525.86 86.37,525.75 86.7,525.57 87.03,525.34 87.36,525.08 87.69,524.8 88.02,524.51 88.36,524.21 88.69,523.91 89.02,523.54 89.35,523.12 89.68,522.66 90.01,522.17 90.34,521.65 90.67,521.11 91,520.58 91.34,520.04 91.67,519.52 92,519.03 92.33,518.57 92.66,518.15 92.99,517.76 93.32,517.38 93.65,517.01 93.98,516.66 94.31,516.31 94.65,515.97 94.98,515.63 95.31,515.3 95.64,514.97 95.97,514.64 96.3,514.3 96.63,513.96 96.96,513.62 97.29,513.26 97.63,512.9 97.96,512.53 98.29,512.14 98.62,511.73 98.95,511.3 99.28,510.86 99.61,510.41 99.94,509.95 100.27,509.48 100.6,509.02 100.94,508.55 101.27,508.1 101.6,507.65 101.93,507.21 102.26,506.79 102.59,506.39 102.92,506.02 103.25,505.66 103.58,505.34 103.92,505.04 104.25,504.74 104.58,504.46 104.91,504.19 105.24,503.93 105.57,503.67 105.9,503.42 106.23,503.18 106.56,502.94 106.89,502.71 107.23,502.49 107.56,502.27 107.89,502.05 108.22,501.83 108.55,501.62 108.88,501.41 109.21,501.2 109.54,500.98 109.87,500.77 110.21,500.56 110.54,500.35 110.87,500.13 111.2,499.91 111.53,499.68 111.86,499.46 112.19,499.23 112.52,499 112.85,498.77 113.19,498.54 113.52,498.31 113.85,498.09 114.18,497.86 114.51,497.63 114.84,497.41 115.17,497.18 115.5,496.96 115.83,496.73 116.16,496.51 116.5,496.28 116.83,496.06 117.16,495.84 117.49,495.61 117.82,495.39 118.15,495.16 118.48,494.94 118.81,494.71 119.14,494.48 119.48,494.26 119.81,494.04 120.14,493.82 120.47,493.6 120.8,493.39 121.13,493.17 121.46,492.95 121.79,492.73 122.12,492.51 122.45,492.29 122.79,492.07 123.12,491.85 123.45,491.62 123.78,491.39 124.11,491.16 124.44,490.93 124.77,490.69 125.1,490.45 125.43,490.2 125.77,489.95 126.1,489.7 126.43,489.45 126.76,489.2 127.09,488.95 127.42,488.7 127.75,488.44 128.08,488.19 128.41,487.93 128.75,487.66 129.08,487.39 129.41,487.12 129.74,486.84 130.07,486.55 130.4,486.26 130.73,485.96 131.06,485.65 131.39,485.33 131.72,485 132.06,484.66 132.39,484.3 132.72,483.94 133.05,483.57 133.38,483.19 133.71,482.8 134.04,482.39 134.37,481.96 134.7,481.5 135.04,481.03 135.37,480.52 135.7,479.99 136.03,479.42 136.36,478.81 136.69,478.17 137.02,477.46 137.35,476.66 137.68,475.78 138.01,474.83 138.35,473.79 138.68,472.67 139.01,471.48 139.34,470.21 139.67,468.74 140,466.97 140.33,465 140.66,462.93 140.99,460.88 141.33,458.93 141.66,457 141.99,454.77 142.32,452.74 142.65,451.47 142.98,451.3 143.31,451.3 143.64,451.3 143.97,451.3 144.31,451.49 144.64,453.63 144.97,457.42 145.3,461.93 145.63,466.27 145.96,471.42 146.29,477.24 146.62,482.69 146.95,486.69 147.28,489.61 147.62,492.28 147.95,494.65 148.28,496.65 148.61,498.23 148.94,499.33 149.27,500.04 149.6,500.66 149.93,501.2 150.26,501.68 150.6,502.08 150.93,502.42 151.26,502.69 151.59,502.91 151.92,503.08 152.25,503.22 152.58,503.36 152.91,503.48 153.24,503.59 153.57,503.68 153.91,503.77 154.24,503.86 154.57,503.93 154.9,504 155.23,504.06 155.56,504.12 155.89,504.18 156.22,504.23 156.55,504.28 156.89,504.33 157.22,504.38 157.55,504.42 157.88,504.46 158.21,504.51 158.54,504.55 158.87,504.58 159.2,504.62 159.53,504.65 159.86,504.69 160.2,504.72 160.53,504.75 160.86,504.78 161.19,504.81 161.52,504.84 161.85,504.87 162.18,504.9 162.51,504.93 162.84,504.96 163.18,504.99 163.51,505.02 163.84,505.05 164.17,505.07 164.5,505.1 164.83,505.14 165.16,505.17 165.49,505.2 165.82,505.23 166.16,505.27 166.49,505.3 166.82,505.34 167.15,505.38 167.48,505.42 167.81,505.46 168.14,505.49 168.47,505.53 168.8,505.57 169.13,505.61 169.47,505.65 169.8,505.69 170.13,505.73 170.46,505.77 170.79,505.81 171.12,505.85 171.45,505.89 171.78,505.93 172.11,505.97 172.45,506.01 172.78,506.05 173.11,506.09 173.44,506.14 173.77,506.18 174.1,506.22 174.43,506.26 174.76,506.3 175.09,506.35 175.42,506.39 175.76,506.43 176.09,506.48 176.42,506.52 176.75,506.56 177.08,506.61 177.41,506.65 177.74,506.7 178.07,506.74 178.4,506.79 178.74,506.84 179.07,506.88 179.4,506.93 179.73,506.98 180.06,507.02 180.39,507.07 180.72,507.12 181.05,507.17 181.38,507.22 181.72,507.27 182.05,507.32 182.38,507.37 182.71,507.42 183.04,507.47 183.37,507.52 183.7,507.58 184.03,507.63 184.36,507.68 184.69,507.74 185.03,507.79 185.36,507.84 185.69,507.9 186.02,507.95 186.35,508.01 186.68,508.06 187.01,508.12 187.34,508.18 187.67,508.23 188.01,508.29 188.34,508.35 188.67,508.41 189,508.47 189.33,508.52 189.66,508.58 189.99,508.64 190.32,508.7 190.65,508.76 190.98,508.82 191.32,508.88 191.65,508.94 191.98,509 192.31,509.06 192.64,509.13 192.97,509.19 193.3,509.25 193.63,509.31 193.96,509.37 194.3,509.44 194.63,509.5 194.96,509.56 195.29,509.63 195.62,509.69 195.95,509.75 196.28,509.82 196.61,509.88 196.94,509.95 197.27,510.02 197.61,510.08 197.94,510.15 198.27,510.22 198.6,510.28 198.93,510.35 199.26,510.42 199.59,510.49 199.92,510.56 200.25,510.63 200.59,510.7 200.92,510.77 201.25,510.84 201.58,510.91 201.91,510.98 202.24,511.05 202.57,511.12 202.9,511.2 203.23,511.27 203.57,511.34 203.9,511.42 204.23,511.49 204.56,511.56 204.89,511.64 205.22,511.71 205.55,511.79 205.88,511.86 206.21,511.94 206.54,512.02 206.88,512.09 207.21,512.17 207.54,512.25 207.87,512.32 208.2,512.4" fill="none" stroke="#4fc4c4" stroke-width="1.25" stroke-linejoin="round" />
<polyline points="43,529.44 43.33,529.47 43.66,529.5 43.99,529.54 44.32,529.58 44.66,529.62 44.99,529.67 45.32,529.72 45.65,529.77 45.98,529.82 46.31,529.88 46.64,529.94 46.97,530 47.3,530.06 47.63,530.13 47.97,530.2 48.3,530.26 48.63,530.33 48.96,530.41 49.29,530.48 49.62,530.55 49.95,530.63 50.28,530.71 50.61,530.8 50.95,530.89 51.28,530.99 51.61,531.09 51.94,531.2 52.27,531.32 52.6,531.43 52.93,531.55 53.26,531.68 53.59,531.8 53.93,531.93 54.26,532.05 54.59,532.18 54.92,532.3 55.25,532.43 55.58,532.55 55.91,532.67 56.24,532.78 56.57,532.9 56.9,533.01 57.24,533.13 57.57,533.26 57.9,533.39 58.23,533.53 58.56,533.67 58.89,533.81 59.22,533.95 59.55,534.08 59.88,534.21 60.22,534.33 60.55,534.44 60.88,534.53 61.21,534.61 61.54,534.67 61.87,534.71 62.2,534.72 62.53,534.72 62.86,534.7 63.19,534.66 63.53,534.6 63.86,534.53 64.19,534.45 64.52,534.35 64.85,534.23 65.18,534.11 65.51,533.97 65.84,533.82 66.17,533.67 66.51,533.49 66.84,533.22 67.17,532.82 67.5,532.33 67.83,531.74 68.16,531.09 68.49,530.38 68.82,529.63 69.15,528.86 69.48,527.84 69.82,526.53 70.15,525.24 70.48,524.26 70.81,523.64 71.14,523.07 71.47,522.63 71.8,522.4 72.13,522.51 72.46,523.05 72.8,523.89 73.13,524.86 73.46,525.9 73.79,527.39 74.12,529.06 74.45,530.53 74.78,531.49 75.11,532.29 75.44,532.97 75.78,533.42 76.11,533.53 76.44,533.03 76.77,532.06 77.1,530.94 77.43,529.99 77.76,529.22 78.09,528.45 78.42,527.69 78.75,526.96 79.09,526.25 79.42,525.56 79.75,524.92 80.08,524.31 80.41,523.74 80.74,523.21 81.07,522.7 81.4,522.21 81.73,521.74 82.07,521.28 82.4,520.84 82.73,520.4 83.06,519.96 83.39,519.52 83.72,519.08 84.05,518.62 84.38,518.16 84.71,517.69 85.04,517.23 85.38,516.77 85.71,516.32 86.04,515.86 86.37,515.4 86.7,514.94 87.03,514.47 87.36,514 87.69,513.52 88.02,513.02 88.36,512.52 88.69,512.01 89.02,511.51 89.35,511.01 89.68,510.5 90.01,509.96 90.34,509.39 90.67,508.78 91,508.1 91.34,507.34 91.67,506.5 92,505.56 92.33,504.53 92.66,503.41 92.99,502.21 93.32,500.92 93.65,499.54 93.98,498.08 94.31,496.17 94.65,493.8 94.98,491.26 95.31,488.83 95.64,486.8 95.97,485.46 96.3,484.67 96.63,484.21 96.96,485.32 97.29,488.97 97.63,493.99 97.96,499.13 98.29,503.92 98.62,509.64 98.95,515.24 99.28,519.45 99.61,521.44 99.94,522.86 100.27,523.96 100.6,524.61 100.94,524.73 101.27,524.66 101.6,524.52 101.93,524.32 102.26,524.08 102.59,523.8 102.92,523.52 103.25,523.24 103.58,522.97 103.92,522.69 104.25,522.4 104.58,522.08 104.91,521.74 105.24,521.39 105.57,521.02 105.9,520.65 106.23,520.26 106.56,519.88 106.89,519.49 107.23,519.1 107.56,518.72 107.89,518.34 108.22,517.98 108.55,517.63 108.88,517.29 109.21,516.97 109.54,516.65 109.87,516.32 110.21,515.98 110.54,515.64 110.87,515.3 111.2,514.96 111.53,514.63 111.86,514.31 112.19,514 112.52,513.7 112.85,513.43 113.19,513.17 113.52,512.94 113.85,512.74 114.18,512.57 114.51,512.43 114.84,512.31 115.17,512.2 115.5,512.1 115.83,511.99 116.16,511.89 116.5,511.8 116.83,511.71 117.16,511.62 117.49,511.54 117.82,511.47 118.15,511.41 118.48,511.35 118.81,511.31 119.14,511.27 119.48,511.25 119.81,511.23 120.14,511.23 120.47,511.23 120.8,511.25 121.13,511.28 121.46,511.33 121.79,511.38 122.12,511.44 122.45,511.5 122.79,511.58 123.12,511.66 123.45,511.75 123.78,511.84 124.11,511.94 124.44,512.04 124.77,512.14 125.1,512.24 125.43,512.35 125.77,512.45 126.1,512.57 126.43,512.71 126.76,512.86 127.09,513.02 127.42,513.19 127.75,513.38 128.08,513.57 128.41,513.78 128.75,514 129.08,514.23 129.41,514.47 129.74,514.72 130.07,514.98 130.4,515.25 130.73,515.52 131.06,515.81 131.39,516.1 131.72,516.39 132.06,516.7 132.39,517.01 132.72,517.33 133.05,517.69 133.38,518.07 133.71,518.48 134.04,518.92 134.37,519.38 134.7,519.87 135.04,520.37 135.37,520.89 135.7,521.43 136.03,521.98 136.36,522.54 136.69,523.11 137.02,523.73 137.35,524.39 137.68,525.1 138.01,525.83 138.35,526.58 138.68,527.33 139.01,528.07 139.34,528.79 139.67,529.56 140,530.44 140.33,531.38 140.66,532.31 140.99,533.16 141.33,533.89 141.66,534.42 141.99,534.7 142.32,534.67 142.65,534.33 142.98,533.73 143.31,532.91 143.64,531.59 143.97,527.74 144.31,522.14 144.64,516.16 144.97,511.05 145.3,505.97 145.63,500.9 145.96,496.46 146.29,493.28 146.62,490.77 146.95,488.41 147.28,486.32 147.62,484.64 147.95,483.5 148.28,483.03 148.61,483.07 148.94,483.2 149.27,483.39 149.6,483.63 149.93,483.88 150.26,484.12 150.6,484.35 150.93,484.59 151.26,484.84 151.59,485.11 151.92,485.4 152.25,485.69 152.58,485.99 152.91,486.29 153.24,486.6 153.57,486.91 153.91,487.21 154.24,487.51 154.57,487.81 154.9,488.1 155.23,488.38 155.56,488.65 155.89,488.9 156.22,489.15 156.55,489.39 156.89,489.63 157.22,489.87 157.55,490.1 157.88,490.33 158.21,490.56 158.54,490.79 158.87,491.02 159.2,491.24 159.53,491.46 159.86,491.68 160.2,491.89 160.53,492.11 160.86,492.32 161.19,492.53 161.52,492.74 161.85,492.95 162.18,493.16 162.51,493.36 162.84,493.56 163.18,493.76 163.51,493.96 163.84,494.16 164.17,494.36 164.5,494.56 164.83,494.75 165.16,494.95 165.49,495.14 165.82,495.33 166.16,495.52 166.49,495.71 166.82,495.9 167.15,496.09 167.48,496.28 167.81,496.47 168.14,496.66 168.47,496.84 168.8,497.03 169.13,497.22 169.47,497.4 169.8,497.59 170.13,497.77 170.46,497.96 170.79,498.14 171.12,498.32 171.45,498.51 171.78,498.69 172.11,498.87 172.45,499.04 172.78,499.22 173.11,499.4 173.44,499.57 173.77,499.75 174.1,499.92 174.43,500.09 174.76,500.26 175.09,500.43 175.42,500.59 175.76,500.76 176.09,500.92 176.42,501.09 176.75,501.25 177.08,501.41 177.41,501.56 177.74,501.72 178.07,501.87 178.4,502.02 178.74,502.17 179.07,502.32 179.4,502.46 179.73,502.61 180.06,502.75 180.39,502.89 180.72,503.02 181.05,503.16 181.38,503.29 181.72,503.42 182.05,503.55 182.38,503.68 182.71,503.8 183.04,503.93 183.37,504.05 183.7,504.17 184.03,504.29 184.36,504.41 184.69,504.53 185.03,504.65 185.36,504.76 185.69,504.88 186.02,504.99 186.35,505.11 186.68,505.22 187.01,505.33 187.34,505.44 187.67,505.55 188.01,505.66 188.34,505.76 188.67,505.87 189,505.98 189.33,506.08 189.66,506.19 189.99,506.3 190.32,506.4 190.65,506.51 190.98,506.61 191.32,506.72 191.65,506.82 191.98,506.92 192.31,507.03 192.64,507.13 192.97,507.24 193.3,507.34 193.63,507.45 193.96,507.55 194.3,507.66 194.63,507.76 194.96,507.87 195.29,507.97 195.62,508.08 195.95,508.18 196.28,508.28 196.61,508.39 196.94,508.49 197.27,508.59 197.61,508.7 197.94,508.8 198.27,508.9 198.6,509 198.93,509.11 199.26,509.21 199.59,509.31 199.92,509.41 200.25,509.51 200.59,509.61 200.92,509.71 201.25,509.81 201.58,509.91 201.91,510 202.24,510.1 202.57,510.2 202.9,510.3 203.23,510.4 203.57,510.49 203.9,510.59 204.23,510.68 204.56,510.78 204.89,510.88 205.22,510.97 205.55,511.07 205.88,511.16 206.21,511.26 206.54,511.35 206.88,511.44 207.21,511.54 207.54,511.63 207.87,511.72 208.2,511.81" fill="none" stroke="#e8141c" stroke-width="1.25" stroke-linejoin="round" />
<polyline points="43,428.97 43.33,428.98 43.66,429.01 43.99,429.04 44.32,429.1 44.66,429.16 44.99,429.24 45.32,429.33 45.65,429.43 45.98,429.54 46.31,429.66 46.64,429.79 46.97,429.92 47.3,430.07 47.63,430.21 47.97,430.37 48.3,430.53 48.63,430.69 48.96,430.85 49.29,431.02 49.62,431.19 49.95,431.36 50.28,431.54 50.61,431.73 50.95,431.94 51.28,432.17 51.61,432.4 51.94,432.66 52.27,432.93 52.6,433.22 52.93,433.52 53.26,433.84 53.59,434.18 53.93,434.54 54.26,434.91 54.59,435.3 54.92,435.72 55.25,436.15 55.58,436.6 55.91,437.07 56.24,437.56 56.57,438.07 56.9,438.61 57.24,439.24 57.57,439.99 57.9,440.83 58.23,441.75 58.56,442.75 58.89,443.83 59.22,444.96 59.55,446.15 59.88,447.37 60.22,448.64 60.55,449.92 60.88,451.22 61.21,452.58 61.54,454.03 61.87,455.58 62.2,457.23 62.53,458.96 62.86,460.77 63.19,462.67 63.53,464.64 63.86,466.7 64.19,468.9 64.52,471.23 64.85,473.69 65.18,476.26 65.51,478.93 65.84,481.7 66.17,484.54 66.51,487.47 66.84,490.62 67.17,493.98 67.5,497.47 67.83,501.01 68.16,504.53 68.49,507.94 68.82,511.85 69.15,516.22 69.48,520.24 69.82,523.14 70.15,524.15 70.48,523.73 70.81,522.67 71.14,521.08 71.47,516.87 71.8,506.86 72.13,494.96 72.46,484.63 72.8,473.7 73.13,463.19 73.46,455.26 73.79,450.76 74.12,447.09 74.45,444.73 74.78,444.47 75.11,446.97 75.44,451.14 75.78,456.01 76.11,463.3 76.44,472.15 76.77,481.04 77.1,488.58 77.43,495.66 77.76,502.45 78.09,508.37 78.42,512.91 78.75,516.67 79.09,520 79.42,522.59 79.75,524.13 80.08,524.94 80.41,525.56 80.74,525.89 81.07,525.58 81.4,524.03 81.73,521.76 82.07,519.36 82.4,517.3 82.73,515.13 83.06,512.85 83.39,510.58 83.72,508.44 84.05,506.54 84.38,504.99 84.71,503.55 85.04,502.13 85.38,500.78 85.71,499.53 86.04,498.44 86.37,497.54 86.7,496.9 87.03,496.55 87.36,496.39 87.69,496.25 88.02,496.13 88.36,496.04 88.69,495.98 89.02,495.95 89.35,495.99 89.68,496.2 90.01,496.53 90.34,496.97 90.67,497.47 91,498.01 91.34,498.57 91.67,499.33 92,500.26 92.33,501.32 92.66,502.46 92.99,503.61 93.32,504.73 93.65,505.75 93.98,506.64 94.31,507.53 94.65,508.47 94.98,509.41 95.31,510.31 95.64,511.1 95.97,511.75 96.3,512.2 96.63,512.4 96.96,512.34 97.29,512.13 97.63,511.8 97.96,511.38 98.29,510.64 98.62,509.06 98.95,507.2 99.28,505.73 99.61,505.12 99.94,504.71 100.27,504.4 100.6,504.21 100.94,504.18 101.27,504.3 101.6,504.51 101.93,504.81 102.26,505.16 102.59,505.54 102.92,505.91 103.25,506.25 103.58,506.53 103.92,506.78 104.25,507.03 104.58,507.29 104.91,507.54 105.24,507.79 105.57,508.04 105.9,508.28 106.23,508.51 106.56,508.74 106.89,508.96 107.23,509.17 107.56,509.36 107.89,509.54 108.22,509.71 108.55,509.85 108.88,509.98 109.21,510.09 109.54,510.2 109.87,510.3 110.21,510.41 110.54,510.51 110.87,510.6 111.2,510.69 111.53,510.78 111.86,510.86 112.19,510.94 112.52,511.01 112.85,511.07 113.19,511.12 113.52,511.16 113.85,511.19 114.18,511.22 114.51,511.22 114.84,511.22 115.17,511.22 115.5,511.2 115.83,511.18 116.16,511.16 116.5,511.13 116.83,511.1 117.16,511.06 117.49,511.02 117.82,510.97 118.15,510.92 118.48,510.87 118.81,510.82 119.14,510.76 119.48,510.7 119.81,510.64 120.14,510.58 120.47,510.51 120.8,510.45 121.13,510.39 121.46,510.32 121.79,510.25 122.12,510.19 122.45,510.13 122.79,510.06 123.12,509.99 123.45,509.92 123.78,509.83 124.11,509.73 124.44,509.62 124.77,509.51 125.1,509.39 125.43,509.27 125.77,509.15 126.1,509.02 126.43,508.89 126.76,508.76 127.09,508.64 127.42,508.51 127.75,508.39 128.08,508.28 128.41,508.17 128.75,508.07 129.08,507.98 129.41,507.9 129.74,507.84 130.07,507.78 130.4,507.74 130.73,507.71 131.06,507.7 131.39,507.7 131.72,507.7 132.06,507.7 132.39,507.7 132.72,507.7 133.05,507.7 133.38,507.7 133.71,507.7 134.04,507.7 134.37,507.7 134.7,507.7 135.04,507.7 135.37,507.72 135.7,507.89 136.03,508.25 136.36,508.75 136.69,509.36 137.02,510.07 137.35,510.84 137.68,511.65 138.01,512.46 138.35,513.4 138.68,514.54 139.01,515.85 139.34,517.3 139.67,518.85 140,520.46 140.33,522.11 140.66,523.76 140.99,525.58 141.33,527.9 141.66,530.41 141.99,532.77 142.32,534.67 142.65,535.76 142.98,535.85 143.31,535.52 143.64,534.93 143.97,534.13 144.31,533.04 144.64,530.13 144.97,525.6 145.3,520.19 145.63,514.66 145.96,509.74 146.29,506.16 146.62,503.33 146.95,500.63 147.28,498.09 147.62,495.74 147.95,493.64 148.28,491.8 148.61,490.27 148.94,489.08 149.27,488.18 149.6,487.37 149.93,486.64 150.26,485.97 150.6,485.37 150.93,484.82 151.26,484.32 151.59,483.85 151.92,483.4 152.25,482.98 152.58,482.56 152.91,482.14 153.24,481.71 153.57,481.29 153.91,480.88 154.24,480.49 154.57,480.1 154.9,479.73 155.23,479.37 155.56,479.02 155.89,478.68 156.22,478.35 156.55,478.02 156.89,477.7 157.22,477.38 157.55,477.07 157.88,476.77 158.21,476.46 158.54,476.16 158.87,475.85 159.2,475.55 159.53,475.25 159.86,474.94 160.2,474.63 160.53,474.33 160.86,474.02 161.19,473.72 161.52,473.42 161.85,473.13 162.18,472.83 162.51,472.54 162.84,472.25 163.18,471.97 163.51,471.68 163.84,471.4 164.17,471.12 164.5,470.84 164.83,470.57 165.16,470.3 165.49,470.03 165.82,469.77 166.16,469.5 166.49,469.25 166.82,468.99 167.15,468.73 167.48,468.48 167.81,468.23 168.14,467.98 168.47,467.73 168.8,467.48 169.13,467.24 169.47,466.99 169.8,466.75 170.13,466.5 170.46,466.26 170.79,466.02 171.12,465.78 171.45,465.54 171.78,465.31 172.11,465.07 172.45,464.84 172.78,464.61 173.11,464.38 173.44,464.15 173.77,463.92 174.1,463.69 174.43,463.47 174.76,463.24 175.09,463.02 175.42,462.8 175.76,462.58 176.09,462.37 176.42,462.15 176.75,461.94 177.08,461.72 177.41,461.51 177.74,461.3 178.07,461.1 178.4,460.89 178.74,460.68 179.07,460.48 179.4,460.28 179.73,460.08 180.06,459.88 180.39,459.69 180.72,459.49 181.05,459.3 181.38,459.11 181.72,458.92 182.05,458.73 182.38,458.54 182.71,458.35 183.04,458.17 183.37,457.98 183.7,457.8 184.03,457.62 184.36,457.43 184.69,457.25 185.03,457.07 185.36,456.9 185.69,456.72 186.02,456.54 186.35,456.37 186.68,456.2 187.01,456.03 187.34,455.85 187.67,455.68 188.01,455.52 188.34,455.35 188.67,455.18 189,455.02 189.33,454.85 189.66,454.69 189.99,454.53 190.32,454.37 190.65,454.21 190.98,454.05 191.32,453.9 191.65,453.74 191.98,453.58 192.31,453.43 192.64,453.28 192.97,453.13 193.3,452.98 193.63,452.83 193.96,452.68 194.3,452.54 194.63,452.39 194.96,452.25 195.29,452.1 195.62,451.96 195.95,451.82 196.28,451.68 196.61,451.53 196.94,451.39 197.27,451.26 197.61,451.12 197.94,450.98 198.27,450.84 198.6,450.71 198.93,450.57 199.26,450.44 199.59,450.31 199.92,450.17 200.25,450.04 200.59,449.91 200.92,449.78 201.25,449.65 201.58,449.53 201.91,449.4 202.24,449.27 202.57,449.15 202.9,449.02 203.23,448.9 203.57,448.78 203.9,448.66 204.23,448.54 204.56,448.42 204.89,448.3 205.22,448.19 205.55,448.07 205.88,447.96 206.21,447.84 206.54,447.73 206.88,447.62 207.21,447.51 207.54,447.4 207.87,447.29 208.2,447.19" fill="none" stroke="#1414e0" stroke-width="1.25" stroke-linejoin="round" />
<polyline points="43,429.56 43.33,429.56 43.66,429.57 43.99,429.57 44.32,429.57 44.66,429.58 44.99,429.59 45.32,429.6 45.65,429.61 45.98,429.62 46.31,429.63 46.64,429.64 46.97,429.66 47.3,429.67 47.63,429.69 47.97,429.71 48.3,429.73 48.63,429.75 48.96,429.78 49.29,429.8 49.62,429.82 49.95,429.85 50.28,429.88 50.61,429.91 50.95,429.95 51.28,430.02 51.61,430.14 51.94,430.29 52.27,430.48 52.6,430.7 52.93,430.95 53.26,431.24 53.59,431.55 53.93,431.88 54.26,432.25 54.59,432.64 54.92,433.04 55.25,433.47 55.58,433.92 55.91,434.39 56.24,434.87 56.57,435.37 56.9,435.88 57.24,436.39 57.57,436.92 57.9,437.51 58.23,438.2 58.56,438.99 58.89,439.87 59.22,440.84 59.55,441.88 59.88,442.98 60.22,444.14 60.55,445.35 60.88,446.6 61.21,447.87 61.54,449.17 61.87,450.48 62.2,451.89 62.53,453.39 62.86,454.99 63.19,456.68 63.53,458.46 63.86,460.31 64.19,462.25 64.52,464.26 64.85,466.38 65.18,468.65 65.51,471.05 65.84,473.56 66.17,476.19 66.51,478.91 66.84,481.71 67.17,484.59 67.5,487.74 67.83,491.38 68.16,495.25 68.49,499.05 68.82,502.51 69.15,505.35 69.48,507.46 69.82,509.49 70.15,511.32 70.48,512.73 70.81,513.5 71.14,513.44 71.47,512.66 71.8,511.32 72.13,509.4 72.46,504.24 72.8,496.41 73.13,488.02 73.46,478.69 73.79,467.68 74.12,457.7 74.45,451.36 74.78,446.95 75.11,443.51 75.44,441.93 75.78,443.23 76.11,447.13 76.44,452.01 76.77,458.17 77.1,466.44 77.43,475.4 77.76,483.66 78.09,490.89 78.42,498.26 78.75,504.88 79.09,509.8 79.42,512.63 79.75,514.82 80.08,516.54 80.41,517.8 80.74,518.65 81.07,519.37 81.4,519.88 81.73,520.03 82.07,519.69 82.4,518.95 82.73,517.96 83.06,516.87 83.39,515.42 83.72,513.37 84.05,510.98 84.38,508.51 84.71,506.2 85.04,504.31 85.38,502.86 85.71,501.42 86.04,500.03 86.37,498.72 86.7,497.54 87.03,496.55 87.36,495.78 87.69,495.27 88.02,495.06 88.36,494.91 88.69,494.78 89.02,494.67 89.35,494.6 89.68,494.55 90.01,494.54 90.34,494.67 90.67,494.94 91,495.33 91.34,495.81 91.67,496.33 92,496.87 92.33,497.52 92.66,498.37 92.99,499.37 93.32,500.48 93.65,501.63 93.98,502.77 94.31,503.85 94.65,504.81 94.98,505.67 95.31,506.59 95.64,507.54 95.97,508.46 96.3,509.31 96.63,510.04 96.96,510.6 97.29,510.92 97.63,510.98 97.96,510.84 98.29,510.57 98.62,510.19 98.95,509.71 99.28,508.51 99.61,506.7 99.94,504.96 100.27,503.93 100.6,503.49 100.94,503.13 101.27,502.88 101.6,502.77 101.93,502.81 102.26,502.98 102.59,503.25 102.92,503.58 103.25,503.94 103.58,504.32 103.92,504.68 104.25,504.99 104.58,505.25 104.91,505.5 105.24,505.75 105.57,506 105.9,506.25 106.23,506.5 106.56,506.75 106.89,506.99 107.23,507.22 107.56,507.44 107.89,507.66 108.22,507.86 108.55,508.04 108.88,508.22 109.21,508.37 109.54,508.51 109.87,508.63 110.21,508.74 110.54,508.84 110.87,508.94 111.2,509.05 111.53,509.14 111.86,509.24 112.19,509.33 112.52,509.41 112.85,509.49 113.19,509.57 113.52,509.63 113.85,509.69 114.18,509.73 114.51,509.77 114.84,509.8 115.17,509.81 115.5,509.81 115.83,509.81 116.16,509.8 116.5,509.78 116.83,509.76 117.16,509.73 117.49,509.7 117.82,509.67 118.15,509.63 118.48,509.58 118.81,509.54 119.14,509.49 119.48,509.43 119.81,509.38 120.14,509.32 120.47,509.26 120.8,509.2 121.13,509.14 121.46,509.07 121.79,509.01 122.12,508.94 122.45,508.88 122.79,508.81 123.12,508.75 123.45,508.68 123.78,508.62 124.11,508.55 124.44,508.46 124.77,508.37 125.1,508.27 125.43,508.16 125.77,508.04 126.1,507.92 126.43,507.8 126.76,507.67 127.09,507.54 127.42,507.42 127.75,507.29 128.08,507.16 128.41,507.04 128.75,506.93 129.08,506.82 129.41,506.71 129.74,506.62 130.07,506.53 130.4,506.46 130.73,506.4 131.06,506.35 131.39,506.31 131.72,506.29 132.06,506.29 132.39,506.29 132.72,506.29 133.05,506.29 133.38,506.29 133.71,506.29 134.04,506.29 134.37,506.29 134.7,506.29 135.04,506.29 135.37,506.29 135.7,506.29 136.03,506.29 136.36,506.36 136.69,506.61 137.02,507 137.35,507.53 137.68,508.18 138.01,508.92 138.35,509.73 138.68,510.61 139.01,511.64 139.34,513.24 139.67,515.29 140,517.59 140.33,519.97 140.66,522.23 140.99,524.48 141.33,527.16 141.66,529.95 141.99,532.54 142.32,534.58 142.65,535.75 142.98,535.85 143.31,535.52 143.64,534.93 143.97,534.13 144.31,533.03 144.64,530.07 144.97,525.45 145.3,519.95 145.63,514.31 145.96,509.31 146.29,505.69 146.62,502.85 146.95,500.14 147.28,497.6 147.62,495.26 147.95,493.15 148.28,491.32 148.61,489.8 148.94,488.61 149.27,487.71 149.6,486.9 149.93,486.17 150.26,485.5 150.6,484.9 150.93,484.35 151.26,483.85 151.59,483.38 151.92,482.93 152.25,482.51 152.58,482.09 152.91,481.67 153.24,481.24 153.57,480.82 153.91,480.41 154.24,480.02 154.57,479.63 154.9,479.26 155.23,478.9 155.56,478.55 155.89,478.21 156.22,477.88 156.55,477.55 156.89,477.23 157.22,476.91 157.55,476.6 157.88,476.3 158.21,475.99 158.54,475.69 158.87,475.38 159.2,475.08 159.53,474.78 159.86,474.47 160.2,474.16 160.53,473.86 160.86,473.55 161.19,473.25 161.52,472.95 161.85,472.66 162.18,472.36 162.51,472.07 162.84,471.78 163.18,471.5 163.51,471.21 163.84,470.93 164.17,470.65 164.5,470.37 164.83,470.1 165.16,469.83 165.49,469.56 165.82,469.3 166.16,469.03 166.49,468.78 166.82,468.52 167.15,468.26 167.48,468.01 167.81,467.76 168.14,467.51 168.47,467.26 168.8,467.01 169.13,466.77 169.47,466.52 169.8,466.28 170.13,466.03 170.46,465.79 170.79,465.55 171.12,465.31 171.45,465.07 171.78,464.84 172.11,464.6 172.45,464.37 172.78,464.14 173.11,463.91 173.44,463.68 173.77,463.45 174.1,463.22 174.43,463 174.76,462.77 175.09,462.55 175.42,462.33 175.76,462.11 176.09,461.9 176.42,461.68 176.75,461.47 177.08,461.25 177.41,461.04 177.74,460.83 178.07,460.63 178.4,460.42 178.74,460.21 179.07,460.01 179.4,459.81 179.73,459.61 180.06,459.41 180.39,459.22 180.72,459.02 181.05,458.83 181.38,458.64 181.72,458.45 182.05,458.26 182.38,458.07 182.71,457.88 183.04,457.7 183.37,457.51 183.7,457.33 184.03,457.15 184.36,456.97 184.69,456.79 185.03,456.61 185.36,456.43 185.69,456.26 186.02,456.08 186.35,455.91 186.68,455.74 187.01,455.56 187.34,455.39 187.67,455.22 188.01,455.06 188.34,454.89 188.67,454.72 189,454.56 189.33,454.39 189.66,454.23 189.99,454.07 190.32,453.91 190.65,453.75 190.98,453.59 191.32,453.44 191.65,453.28 191.98,453.12 192.31,452.97 192.64,452.82 192.97,452.66 193.3,452.51 193.63,452.36 193.96,452.21 194.3,452.07 194.63,451.92 194.96,451.77 195.29,451.63 195.62,451.48 195.95,451.34 196.28,451.19 196.61,451.05 196.94,450.91 197.27,450.77 197.61,450.63 197.94,450.49 198.27,450.35 198.6,450.21 198.93,450.07 199.26,449.94 199.59,449.8 199.92,449.67 200.25,449.53 200.59,449.4 200.92,449.27 201.25,449.14 201.58,449.01 201.91,448.88 202.24,448.75 202.57,448.62 202.9,448.49 203.23,448.37 203.57,448.24 203.9,448.12 204.23,448 204.56,447.88 204.89,447.75 205.22,447.63 205.55,447.52 205.88,447.4 206.21,447.28 206.54,447.16 206.88,447.05 207.21,446.94 207.54,446.82 207.87,446.71 208.2,446.6" fill="none" stroke="#2e7a1e" stroke-width="1.25" stroke-linejoin="round" />
</g>
<line x1="97.4" y1="430.8" x2="112.5" y2="430.8" stroke="#1414e0" stroke-width="1.3" />
<text x="114.4" y="434" font-family='"Liberation Sans", sans-serif' font-size="9.4" fill="#111" text-anchor="start" font-weight="normal" font-style="normal" ><tspan font-style="italic">T</tspan><tspan font-size="6.4" dy="1.8">RR</tspan></text>
<line x1="97.4" y1="442.6" x2="112.5" y2="442.6" stroke="#2e7a1e" stroke-width="1.3" />
<text x="114.4" y="445.8" font-family='"Liberation Sans", sans-serif' font-size="9.4" fill="#111" text-anchor="start" font-weight="normal" font-style="normal" ><tspan font-style="italic">T</tspan><tspan font-size="6.4" dy="1.8">LL</tspan></text>
<line x1="97.4" y1="454.3" x2="112.5" y2="454.3" stroke="#e8141c" stroke-width="1.3" />
<text x="114.4" y="457.5" font-family='"Liberation Sans", sans-serif' font-size="9.4" fill="#111" text-anchor="start" font-weight="normal" font-style="normal" ><tspan font-style="italic">T</tspan><tspan font-size="6.4" dy="1.8">RL</tspan></text>
<line x1="97.4" y1="468.1" x2="112.5" y2="468.1" stroke="#4fc4c4" stroke-width="1.3" />
<text x="114.4" y="471.3" font-family='"Liberation Sans", sans-serif' font-size="9.4" fill="#111" text-anchor="start" font-weight="normal" font-style="normal" ><tspan font-style="italic">T</tspan><tspan font-size="6.4" dy="1.8">LR</tspan></text>
</g>
<g id="pe">
<g id="eimg">
<polygon points="279.1,295.3 320.6,291.2 394.1,294.6 390.9,390 356.4,408.2 284.1,383.6" fill="#e3ba8b" />
<polygon points="284.1,383.6 320.5,369.3 390.9,390 356.4,408.2" fill="#cda274" />
<polygon points="279.1,295.3 320.6,291.2 394.1,294.6 361.2,301.4" fill="#f0d4b0" />
<polygon points="361.2,301.4 394.1,294.6 390.9,390 357.3,388.5" fill="#e6bf93" />
<line x1="320.6" y1="291.2" x2="320.5" y2="369.3" stroke="#c9a070" stroke-width="0.5" />
<line x1="320.5" y1="369.3" x2="284.1" y2="383.6" stroke="#c39a6a" stroke-width="0.4" />
<line x1="320.5" y1="369.3" x2="390.9" y2="390" stroke="#c39a6a" stroke-width="0.4" />
<polyline points="279.1,295.3 361.2,301.4 356.4,408.2 284.1,383.6 279.1,295.3" fill="none" stroke="#b98f62" stroke-width="0.5" stroke-linejoin="round" />
<polyline points="361.2,301.4 394.1,294.6 390.9,390 356.4,408.2" fill="none" stroke="#b98f62" stroke-width="0.5" stroke-linejoin="round" />
<polyline points="279.1,295.3 320.6,291.2 394.1,294.6" fill="none" stroke="#b98f62" stroke-width="0.5" stroke-linejoin="round" />
<line x1="347.4" y1="352.1" x2="379" y2="340.8" stroke="#8a3a14" stroke-width="0.6" /><path d="M347.4,352.1L350.96,350.83M348.09,351.85L350.04,348.7M348.78,351.61L348.21,348.05M349.47,351.36L346.64,349.06M350.16,351.11L346.4,351.15M350.85,350.87L347.92,353.22M351.54,350.62L350.81,354.19M352.23,350.37L354.05,353.49M352.92,350.12L356.43,351.33M353.61,349.88L357.17,348.6M354.31,349.63L356.25,346.48M355,349.38L354.42,345.82M355.69,349.14L352.86,346.84M356.38,348.89L352.62,348.93M357.07,348.64L354.14,351M357.76,348.4L357.03,351.97M358.45,348.15L360.26,351.27M359.14,347.9L362.64,349.11M359.83,347.66L363.39,346.38M360.52,347.41L362.47,344.25M361.21,347.16L360.63,343.6M361.9,346.91L359.07,344.62M362.59,346.67L358.83,346.7M363.28,346.42L360.35,348.78M363.97,346.17L363.24,349.75M364.66,345.93L366.47,349.04M365.35,345.68L368.86,346.88M366.04,345.43L369.6,344.16M366.73,345.19L368.68,342.03M367.42,344.94L366.85,341.38M368.12,344.69L365.29,342.39M368.81,344.45L365.05,344.48M369.5,344.2L366.57,346.55M370.19,343.95L369.46,347.52M370.88,343.7L372.69,346.82M371.57,343.46L375.07,344.66M372.26,343.21L375.82,341.94M372.95,342.96L374.9,339.81M373.64,342.72L373.06,339.16M374.33,342.47L371.5,340.17M375.02,342.22L371.26,342.26M375.71,341.98L372.78,344.33M376.4,341.73L375.67,345.3M377.09,341.48L378.9,344.6M377.78,341.24L381.29,342.44M378.47,340.99L382.03,339.72" stroke="#8a3a14" stroke-width="0.5" fill="none"/><polyline points="350.96,350.83 350.85,350.13 350.62,349.51 350.29,348.98 349.87,348.55 349.39,348.25 348.87,348.08 348.34,348.04 347.82,348.13 347.34,348.35 346.93,348.68 346.61,349.12 346.39,349.63 346.3,350.21 346.33,350.83 346.51,351.46 346.82,352.07 347.26,352.65 347.84,353.16 348.52,353.58 349.29,353.91 350.14,354.12 351.03,354.2 351.94,354.15 352.84,353.96 353.72,353.65 354.53,353.21 355.27,352.67 355.9,352.04 356.42,351.34 356.81,350.6 357.06,349.84 357.17,349.08 357.15,348.35 357,347.68 356.73,347.09 356.37,346.59 355.92,346.21 355.43,345.95 354.9,345.82 354.37,345.83 353.86,345.97 353.41,346.23 353.02,346.6 352.73,347.07 352.56,347.61 352.51,348.21 352.59,348.83 352.81,349.45 353.18,350.06 353.67,350.61 354.28,351.1 355,351.49 355.8,351.77 356.66,351.94 357.56,351.97 358.48,351.87 359.37,351.64 360.23,351.28 361.02,350.81 361.72,350.23 362.32,349.58 362.79,348.86 363.13,348.11 363.33,347.34 363.4,346.6 363.33,345.89 363.13,345.24 362.83,344.68 362.43,344.22 361.97,343.88 361.46,343.67 360.92,343.59 360.4,343.64 359.91,343.82 359.47,344.13 359.12,344.53 358.87,345.03 358.74,345.59 358.74,346.2 358.87,346.83 359.14,347.45 359.55,348.04 360.09,348.57 360.74,349.02 361.48,349.38 362.31,349.62 363.19,349.74 364.1,349.73 365.01,349.58 365.9,349.31 366.73,348.91 367.49,348.39 368.16,347.79 368.71,347.11 369.14,346.38 369.43,345.62 369.58,344.85 369.6,344.12 369.49,343.43 369.25,342.81 368.91,342.28 368.49,341.87 368,341.57 367.48,341.4 366.95,341.37 366.44,341.47 365.96,341.7 365.55,342.04 365.24,342.48 365.03,343 364.94,343.58 364.98,344.2 365.16,344.83 365.49,345.44 365.94,346.01 366.52,346.52 367.21,346.94 367.98,347.26 368.83,347.46 369.73,347.53 370.64,347.47 371.54,347.28 372.41,346.96 373.22,346.51 373.95,345.97 374.58,345.33 375.09,344.63 375.47,343.89 375.72,343.12 375.82,342.37 375.79,341.64 375.63,340.98 375.36,340.39 374.99,339.9 374.54,339.52 374.04,339.27 373.51,339.15 372.98,339.17 372.48,339.31 372.02,339.58 371.65,339.96 371.36,340.43 371.19,340.98 371.15,341.58 371.25,342.2 371.48,342.83 371.85,343.43 372.35,343.98 372.96,344.46 373.69,344.84 374.49,345.12 375.36,345.28 376.26,345.3 377.17,345.2 378.07,344.96 378.92,344.59 379.71,344.11 380.4,343.53 380.99,342.87 381.46,342.15 381.79,341.39 381.98,340.63 382.04,339.88 381.96,339.18 381.76,338.54 381.45,337.98" fill="none" stroke="#d25c22" stroke-width="1" stroke-linejoin="round" stroke-linecap="round"/>
<polygon points="289.98,309.94 296.11,310.74 296.11,316.8 298.26,317.12 298.26,320.55 292.47,319.66 292.47,313.84 289.98,313.49" fill="#3563b0" /><polygon points="287.5,310.4 293.63,311.2 296.11,310.74 289.98,309.94" fill="#3f6db8" /><polygon points="293.63,311.2 293.63,317.26 296.11,316.8 296.11,310.74" fill="#4378c8" /><polygon points="293.63,317.26 295.78,317.58 298.26,317.12 296.11,316.8" fill="#3f6db8" /><polygon points="295.78,317.58 295.78,321.01 298.26,320.55 298.26,317.12" fill="#4378c8" /><polygon points="287.5,310.4 293.63,311.2 293.63,317.26 295.78,317.58 295.78,321.01 289.98,320.12 289.98,314.3 287.5,313.95" fill="#6aa1ec" stroke="#3a68b8" stroke-width="0.25"/><polygon points="289.98,320.44 296.11,321.39 296.11,327.61 298.26,327.96 298.26,331.47 292.47,330.48 292.47,324.49 289.98,324.09" fill="#3563b0" /><polygon points="287.5,320.9 293.63,321.85 296.11,321.39 289.98,320.44" fill="#3f6db8" /><polygon points="293.63,321.85 293.63,328.07 296.11,327.61 296.11,321.39" fill="#4378c8" /><polygon points="293.63,328.07 295.78,328.42 298.26,327.96 296.11,327.61" fill="#3f6db8" /><polygon points="295.78,328.42 295.78,331.93 298.26,331.47 298.26,327.96" fill="#4378c8" /><polygon points="287.5,320.9 293.63,321.85 293.63,328.07 295.78,328.42 295.78,331.93 289.98,330.94 289.98,324.95 287.5,324.55" fill="#6aa1ec" stroke="#3a68b8" stroke-width="0.25"/><polygon points="289.98,331.24 296.11,332.3 296.11,338.59 298.26,338.99 298.26,342.55 292.47,341.42 292.47,335.38 289.98,334.93" fill="#3563b0" /><polygon points="287.5,331.7 293.63,332.76 296.11,332.3 289.98,331.24" fill="#3f6db8" /><polygon points="293.63,332.76 293.63,339.05 296.11,338.59 296.11,332.3" fill="#4378c8" /><polygon points="293.63,339.05 295.78,339.45 298.26,338.99 296.11,338.59" fill="#3f6db8" /><polygon points="295.78,339.45 295.78,343.01 298.26,342.55 298.26,338.99" fill="#4378c8" /><polygon points="287.5,331.7 293.63,332.76 293.63,339.05 295.78,339.45 295.78,343.01 289.98,341.88 289.98,335.84 287.5,335.39" fill="#6aa1ec" stroke="#3a68b8" stroke-width="0.25"/><polygon points="289.98,342.14 296.11,343.34 296.11,349.45 298.26,349.91 298.26,353.37 292.47,352.05 292.47,346.21 289.98,345.69" fill="#3563b0" /><polygon points="287.5,342.6 293.63,343.8 296.11,343.34 289.98,342.14" fill="#3f6db8" /><polygon points="293.63,343.8 293.63,349.91 296.11,349.45 296.11,343.34" fill="#4378c8" /><polygon points="293.63,349.91 295.78,350.37 298.26,349.91 296.11,349.45" fill="#3f6db8" /><polygon points="295.78,350.37 295.78,353.83 298.26,353.37 298.26,349.91" fill="#4378c8" /><polygon points="287.5,342.6 293.63,343.8 293.63,349.91 295.78,350.37 295.78,353.83 289.98,352.51 289.98,346.67 287.5,346.15" fill="#6aa1ec" stroke="#3a68b8" stroke-width="0.25"/><polygon points="289.98,352.64 296.11,354.06 296.11,359.83 298.26,360.36 298.26,363.62 292.47,362.17 292.47,356.62 289.98,356.02" fill="#3563b0" /><polygon points="287.5,353.1 293.63,354.52 296.11,354.06 289.98,352.64" fill="#3f6db8" /><polygon points="293.63,354.52 293.63,360.29 296.11,359.83 296.11,354.06" fill="#4378c8" /><polygon points="293.63,360.29 295.78,360.82 298.26,360.36 296.11,359.83" fill="#3f6db8" /><polygon points="295.78,360.82 295.78,364.08 298.26,363.62 298.26,360.36" fill="#4378c8" /><polygon points="287.5,353.1 293.63,354.52 293.63,360.29 295.78,360.82 295.78,364.08 289.98,362.63 289.98,357.08 287.5,356.48" fill="#6aa1ec" stroke="#3a68b8" stroke-width="0.25"/><polygon points="289.98,362.64 296.11,364.2 296.11,370.25 298.26,370.82 298.26,374.24 292.47,372.66 292.47,366.84 289.98,366.19" fill="#3563b0" /><polygon points="287.5,363.1 293.63,364.66 296.11,364.2 289.98,362.64" fill="#3f6db8" /><polygon points="293.63,364.66 293.63,370.71 296.11,370.25 296.11,364.2" fill="#4378c8" /><polygon points="293.63,370.71 295.78,371.28 298.26,370.82 296.11,370.25" fill="#3f6db8" /><polygon points="295.78,371.28 295.78,374.7 298.26,374.24 298.26,370.82" fill="#4378c8" /><polygon points="287.5,363.1 293.63,364.66 293.63,370.71 295.78,371.28 295.78,374.7 289.98,373.12 289.98,367.3 287.5,366.65" fill="#6aa1ec" stroke="#3a68b8" stroke-width="0.25"/><polygon points="299.18,311.14 305.31,311.94 305.31,318.13 307.46,318.44 307.46,321.95 301.67,321.06 301.67,315.11 299.18,314.77" fill="#3563b0" /><polygon points="296.7,311.6 302.83,312.4 305.31,311.94 299.18,311.14" fill="#3f6db8" /><polygon points="302.83,312.4 302.83,318.59 305.31,318.13 305.31,311.94" fill="#4378c8" /><polygon points="302.83,318.59 304.98,318.9 307.46,318.44 305.31,318.13" fill="#3f6db8" /><polygon points="304.98,318.9 304.98,322.41 307.46,321.95 307.46,318.44" fill="#4378c8" /><polygon points="296.7,311.6 302.83,312.4 302.83,318.59 304.98,318.9 304.98,322.41 299.18,321.52 299.18,315.57 296.7,315.23" fill="#6aa1ec" stroke="#3a68b8" stroke-width="0.25"/><polygon points="299.18,321.87 305.31,322.82 305.31,329.13 307.46,329.49 307.46,333.05 301.67,332.06 301.67,325.98 299.18,325.58" fill="#3563b0" /><polygon points="296.7,322.33 302.83,323.28 305.31,322.82 299.18,321.87" fill="#3f6db8" /><polygon points="302.83,323.28 302.83,329.59 305.31,329.13 305.31,322.82" fill="#4378c8" /><polygon points="302.83,329.59 304.98,329.95 307.46,329.49 305.31,329.13" fill="#3f6db8" /><polygon points="304.98,329.95 304.98,333.51 307.46,333.05 307.46,329.49" fill="#4378c8" /><polygon points="296.7,322.33 302.83,323.28 302.83,329.59 304.98,329.95 304.98,333.51 299.18,332.52 299.18,326.44 296.7,326.04" fill="#6aa1ec" stroke="#3a68b8" stroke-width="0.25"/><polygon points="299.18,332.84 305.31,333.9 305.31,340.31 307.46,340.71 307.46,344.33 301.67,343.21 301.67,337.04 299.18,336.59" fill="#3563b0" /><polygon points="296.7,333.3 302.83,334.36 305.31,333.9 299.18,332.84" fill="#3f6db8" /><polygon points="302.83,334.36 302.83,340.77 305.31,340.31 305.31,333.9" fill="#4378c8" /><polygon points="302.83,340.77 304.98,341.17 307.46,340.71 305.31,340.31" fill="#3f6db8" /><polygon points="304.98,341.17 304.98,344.79 307.46,344.33 307.46,340.71" fill="#4378c8" /><polygon points="296.7,333.3 302.83,334.36 302.83,340.77 304.98,341.17 304.98,344.79 299.18,343.67 299.18,337.5 296.7,337.05" fill="#6aa1ec" stroke="#3a68b8" stroke-width="0.25"/><polygon points="299.18,343.95 305.31,345.15 305.31,351.44 307.46,351.9 307.46,355.46 301.67,354.14 301.67,348.12 299.18,347.61" fill="#3563b0" /><polygon points="296.7,344.41 302.83,345.61 305.31,345.15 299.18,343.95" fill="#3f6db8" /><polygon points="302.83,345.61 302.83,351.9 305.31,351.44 305.31,345.15" fill="#4378c8" /><polygon points="302.83,351.9 304.98,352.36 307.46,351.9 305.31,351.44" fill="#3f6db8" /><polygon points="304.98,352.36 304.98,355.92 307.46,355.46 307.46,351.9" fill="#4378c8" /><polygon points="296.7,344.41 302.83,345.61 302.83,351.9 304.98,352.36 304.98,355.92 299.18,354.6 299.18,348.58 296.7,348.07" fill="#6aa1ec" stroke="#3a68b8" stroke-width="0.25"/><polygon points="299.18,354.77 305.31,356.19 305.31,362.08 307.46,362.61 307.46,365.94 301.67,364.48 301.67,358.82 299.18,358.22" fill="#3563b0" /><polygon points="296.7,355.23 302.83,356.65 305.31,356.19 299.18,354.77" fill="#3f6db8" /><polygon points="302.83,356.65 302.83,362.54 305.31,362.08 305.31,356.19" fill="#4378c8" /><polygon points="302.83,362.54 304.98,363.07 307.46,362.61 305.31,362.08" fill="#3f6db8" /><polygon points="304.98,363.07 304.98,366.4 307.46,365.94 307.46,362.61" fill="#4378c8" /><polygon points="296.7,355.23 302.83,356.65 302.83,362.54 304.98,363.07 304.98,366.4 299.18,364.94 299.18,359.28 296.7,358.68" fill="#6aa1ec" stroke="#3a68b8" stroke-width="0.25"/><polygon points="299.18,364.98 305.31,366.54 305.31,372.7 307.46,373.27 307.46,376.75 301.67,375.17 301.67,369.24 299.18,368.59" fill="#3563b0" /><polygon points="296.7,365.44 302.83,367 305.31,366.54 299.18,364.98" fill="#3f6db8" /><polygon points="302.83,367 302.83,373.16 305.31,372.7 305.31,366.54" fill="#4378c8" /><polygon points="302.83,373.16 304.98,373.73 307.46,373.27 305.31,372.7" fill="#3f6db8" /><polygon points="304.98,373.73 304.98,377.21 307.46,376.75 307.46,373.27" fill="#4378c8" /><polygon points="296.7,365.44 302.83,367 302.83,373.16 304.98,373.73 304.98,377.21 299.18,375.63 299.18,369.7 296.7,369.05" fill="#6aa1ec" stroke="#3a68b8" stroke-width="0.25"/><polygon points="308.46,312.32 314.79,313.14 314.79,319.47 317.01,319.79 317.01,323.37 311.03,322.46 311.03,316.38 308.46,316.03" fill="#3563b0" /><polygon points="305.9,312.8 312.23,313.62 314.79,313.14 308.46,312.32" fill="#3f6db8" /><polygon points="312.23,313.62 312.23,319.95 314.79,319.47 314.79,313.14" fill="#4378c8" /><polygon points="312.23,319.95 314.45,320.27 317.01,319.79 314.79,319.47" fill="#3f6db8" /><polygon points="314.45,320.27 314.45,323.85 317.01,323.37 317.01,319.79" fill="#4378c8" /><polygon points="305.9,312.8 312.23,313.62 312.23,319.95 314.45,320.27 314.45,323.85 308.46,322.94 308.46,316.86 305.9,316.5" fill="#6aa1ec" stroke="#3a68b8" stroke-width="0.25"/><polygon points="308.46,323.28 314.79,324.26 314.79,330.67 317.01,331.04 317.01,334.66 311.03,333.63 311.03,327.46 308.46,327.04" fill="#3563b0" /><polygon points="305.9,323.75 312.23,324.73 314.79,324.26 308.46,323.28" fill="#3f6db8" /><polygon points="312.23,324.73 312.23,331.15 314.79,330.67 314.79,324.26" fill="#4378c8" /><polygon points="312.23,331.15 314.45,331.51 317.01,331.04 314.79,330.67" fill="#3f6db8" /><polygon points="314.45,331.51 314.45,335.13 317.01,334.66 317.01,331.04" fill="#4378c8" /><polygon points="305.9,323.75 312.23,324.73 312.23,331.15 314.45,331.51 314.45,335.13 308.46,334.11 308.46,327.93 305.9,327.52" fill="#6aa1ec" stroke="#3a68b8" stroke-width="0.25"/><polygon points="308.46,334.42 314.79,335.52 314.79,342.05 317.01,342.46 317.01,346.15 311.03,344.99 311.03,338.71 308.46,338.25" fill="#3563b0" /><polygon points="305.9,334.89 312.23,335.99 314.79,335.52 308.46,334.42" fill="#3f6db8" /><polygon points="312.23,335.99 312.23,342.52 314.79,342.05 314.79,335.52" fill="#4378c8" /><polygon points="312.23,342.52 314.45,342.93 317.01,342.46 314.79,342.05" fill="#3f6db8" /><polygon points="314.45,342.93 314.45,346.62 317.01,346.15 317.01,342.46" fill="#4378c8" /><polygon points="305.9,334.89 312.23,335.99 312.23,342.52 314.45,342.93 314.45,346.62 308.46,345.46 308.46,339.19 305.9,338.72" fill="#6aa1ec" stroke="#3a68b8" stroke-width="0.25"/><polygon points="308.46,345.74 314.79,346.98 314.79,353.45 317.01,353.93 317.01,357.6 311.03,356.24 311.03,350.04 308.46,349.51" fill="#3563b0" /><polygon points="305.9,346.21 312.23,347.45 314.79,346.98 308.46,345.74" fill="#3f6db8" /><polygon points="312.23,347.45 312.23,353.93 314.79,353.45 314.79,346.98" fill="#4378c8" /><polygon points="312.23,353.93 314.45,354.41 317.01,353.93 314.79,353.45" fill="#3f6db8" /><polygon points="314.45,354.41 314.45,358.08 317.01,357.6 317.01,353.93" fill="#4378c8" /><polygon points="305.9,346.21 312.23,347.45 312.23,353.93 314.45,354.41 314.45,358.08 308.46,356.72 308.46,350.52 305.9,349.98" fill="#6aa1ec" stroke="#3a68b8" stroke-width="0.25"/><polygon points="308.46,356.88 314.79,358.35 314.79,364.36 317.01,364.91 317.01,368.31 311.03,366.8 311.03,361.02 308.46,360.41" fill="#3563b0" /><polygon points="305.9,357.36 312.23,358.82 314.79,358.35 308.46,356.88" fill="#3f6db8" /><polygon points="312.23,358.82 312.23,364.84 314.79,364.36 314.79,358.35" fill="#4378c8" /><polygon points="312.23,364.84 314.45,365.38 317.01,364.91 314.79,364.36" fill="#3f6db8" /><polygon points="314.45,365.38 314.45,368.78 317.01,368.31 317.01,364.91" fill="#4378c8" /><polygon points="305.9,357.36 312.23,358.82 312.23,364.84 314.45,365.38 314.45,368.78 308.46,367.28 308.46,361.49 305.9,360.88" fill="#6aa1ec" stroke="#3a68b8" stroke-width="0.25"/><polygon points="308.46,367.3 314.79,368.91 314.79,375.18 317.01,375.77 317.01,379.31 311.03,377.68 311.03,371.65 308.46,370.98" fill="#3563b0" /><polygon points="305.9,367.78 312.23,369.38 314.79,368.91 308.46,367.3" fill="#3f6db8" /><polygon points="312.23,369.38 312.23,375.66 314.79,375.18 314.79,368.91" fill="#4378c8" /><polygon points="312.23,375.66 314.45,376.25 317.01,375.77 314.79,375.18" fill="#3f6db8" /><polygon points="314.45,376.25 314.45,379.79 317.01,379.31 317.01,375.77" fill="#4378c8" /><polygon points="305.9,367.78 312.23,369.38 312.23,375.66 314.45,376.25 314.45,379.79 308.46,378.16 308.46,372.13 305.9,371.46" fill="#6aa1ec" stroke="#3a68b8" stroke-width="0.25"/><polygon points="318.1,313.53 324.76,314.4 324.76,320.87 327.1,321.21 327.1,324.86 320.8,323.9 320.8,317.69 318.1,317.32" fill="#3563b0" /><polygon points="315.4,314.03 322.06,314.9 324.76,314.4 318.1,313.53" fill="#3f6db8" /><polygon points="322.06,314.9 322.06,321.37 324.76,320.87 324.76,314.4" fill="#4378c8" /><polygon points="322.06,321.37 324.4,321.71 327.1,321.21 324.76,320.87" fill="#3f6db8" /><polygon points="324.4,321.71 324.4,325.36 327.1,324.86 327.1,321.21" fill="#4378c8" /><polygon points="315.4,314.03 322.06,314.9 322.06,321.37 324.4,321.71 324.4,325.36 318.1,324.4 318.1,318.19 315.4,317.82" fill="#6aa1ec" stroke="#3a68b8" stroke-width="0.25"/><polygon points="318.1,324.72 324.76,325.76 324.76,332.27 327.1,332.66 327.1,336.34 320.8,335.26 320.8,328.99 318.1,328.55" fill="#3563b0" /><polygon points="315.4,325.22 322.06,326.26 324.76,325.76 318.1,324.72" fill="#3f6db8" /><polygon points="322.06,326.26 322.06,332.77 324.76,332.27 324.76,325.76" fill="#4378c8" /><polygon points="322.06,332.77 324.4,333.16 327.1,332.66 324.76,332.27" fill="#3f6db8" /><polygon points="324.4,333.16 324.4,336.84 327.1,336.34 327.1,332.66" fill="#4378c8" /><polygon points="315.4,325.22 322.06,326.26 322.06,332.77 324.4,333.16 324.4,336.84 318.1,335.76 318.1,329.49 315.4,329.05" fill="#6aa1ec" stroke="#3a68b8" stroke-width="0.25"/><polygon points="318.1,336.04 324.76,337.2 324.76,343.85 327.1,344.29 327.1,348.05 320.8,346.83 320.8,340.43 318.1,339.94" fill="#3563b0" /><polygon points="315.4,336.54 322.06,337.7 324.76,337.2 318.1,336.04" fill="#3f6db8" /><polygon points="322.06,337.7 322.06,344.35 324.76,343.85 324.76,337.2" fill="#4378c8" /><polygon points="322.06,344.35 324.4,344.79 327.1,344.29 324.76,343.85" fill="#3f6db8" /><polygon points="324.4,344.79 324.4,348.55 327.1,348.05 327.1,344.29" fill="#4378c8" /><polygon points="315.4,336.54 322.06,337.7 322.06,344.35 324.4,344.79 324.4,348.55 318.1,347.33 318.1,340.93 315.4,340.44" fill="#6aa1ec" stroke="#3a68b8" stroke-width="0.25"/><polygon points="318.1,347.58 324.76,348.88 324.76,355.56 327.1,356.06 327.1,359.84 320.8,358.41 320.8,352.02 318.1,351.46" fill="#3563b0" /><polygon points="315.4,348.08 322.06,349.38 324.76,348.88 318.1,347.58" fill="#3f6db8" /><polygon points="322.06,349.38 322.06,356.06 324.76,355.56 324.76,348.88" fill="#4378c8" /><polygon points="322.06,356.06 324.4,356.56 327.1,356.06 324.76,355.56" fill="#3f6db8" /><polygon points="324.4,356.56 324.4,360.34 327.1,359.84 327.1,356.06" fill="#4378c8" /><polygon points="315.4,348.08 322.06,349.38 322.06,356.06 324.4,356.56 324.4,360.34 318.1,358.91 318.1,352.52 315.4,351.96" fill="#6aa1ec" stroke="#3a68b8" stroke-width="0.25"/><polygon points="318.1,359.06 324.76,360.6 324.76,366.74 327.1,367.31 327.1,370.79 320.8,369.2 320.8,363.3 318.1,362.65" fill="#3563b0" /><polygon points="315.4,359.56 322.06,361.1 324.76,360.6 318.1,359.06" fill="#3f6db8" /><polygon points="322.06,361.1 322.06,367.24 324.76,366.74 324.76,360.6" fill="#4378c8" /><polygon points="322.06,367.24 324.4,367.81 327.1,367.31 324.76,366.74" fill="#3f6db8" /><polygon points="324.4,367.81 324.4,371.29 327.1,370.79 327.1,367.31" fill="#4378c8" /><polygon points="315.4,359.56 322.06,361.1 322.06,367.24 324.4,367.81 324.4,371.29 318.1,369.7 318.1,363.8 315.4,363.15" fill="#6aa1ec" stroke="#3a68b8" stroke-width="0.25"/><polygon points="318.1,369.69 324.76,371.38 324.76,377.77 327.1,378.39 327.1,382 320.8,380.28 320.8,374.14 318.1,373.44" fill="#3563b0" /><polygon points="315.4,370.19 322.06,371.88 324.76,371.38 318.1,369.69" fill="#3f6db8" /><polygon points="322.06,371.88 322.06,378.27 324.76,377.77 324.76,371.38" fill="#4378c8" /><polygon points="322.06,378.27 324.4,378.89 327.1,378.39 324.76,377.77" fill="#3f6db8" /><polygon points="324.4,378.89 324.4,382.5 327.1,382 327.1,378.39" fill="#4378c8" /><polygon points="315.4,370.19 322.06,371.88 322.06,378.27 324.4,378.89 324.4,382.5 318.1,380.78 318.1,374.64 315.4,373.94" fill="#6aa1ec" stroke="#3a68b8" stroke-width="0.25"/><polygon points="328.23,314.81 335.23,315.72 335.23,322.33 337.68,322.69 337.68,326.43 331.07,325.42 331.07,319.07 328.23,318.68" fill="#3563b0" /><polygon points="325.4,315.33 332.39,316.24 335.23,315.72 328.23,314.81" fill="#3f6db8" /><polygon points="332.39,316.24 332.39,322.86 335.23,322.33 335.23,315.72" fill="#4378c8" /><polygon points="332.39,322.86 334.85,323.21 337.68,322.69 335.23,322.33" fill="#3f6db8" /><polygon points="334.85,323.21 334.85,326.95 337.68,326.43 337.68,322.69" fill="#4378c8" /><polygon points="325.4,315.33 332.39,316.24 332.39,322.86 334.85,323.21 334.85,326.95 328.23,325.95 328.23,319.59 325.4,319.2" fill="#6aa1ec" stroke="#3a68b8" stroke-width="0.25"/><polygon points="328.23,326.25 335.23,327.33 335.23,333.96 337.68,334.37 337.68,338.11 331.07,336.97 331.07,330.6 328.23,330.14" fill="#3563b0" /><polygon points="325.4,326.77 332.39,327.86 335.23,327.33 328.23,326.25" fill="#3f6db8" /><polygon points="332.39,327.86 332.39,334.48 335.23,333.96 335.23,327.33" fill="#4378c8" /><polygon points="332.39,334.48 334.85,334.89 337.68,334.37 335.23,333.96" fill="#3f6db8" /><polygon points="334.85,334.89 334.85,338.63 337.68,338.11 337.68,334.37" fill="#4378c8" /><polygon points="325.4,326.77 332.39,327.86 332.39,334.48 334.85,334.89 334.85,338.63 328.23,337.5 328.23,331.12 325.4,330.66" fill="#6aa1ec" stroke="#3a68b8" stroke-width="0.25"/><polygon points="328.23,337.75 335.23,338.97 335.23,345.76 337.68,346.21 337.68,350.05 331.07,348.77 331.07,342.24 328.23,341.73" fill="#3563b0" /><polygon points="325.4,338.28 332.39,339.49 335.23,338.97 328.23,337.75" fill="#3f6db8" /><polygon points="332.39,339.49 332.39,346.28 335.23,345.76 335.23,338.97" fill="#4378c8" /><polygon points="332.39,346.28 334.85,346.74 337.68,346.21 335.23,345.76" fill="#3f6db8" /><polygon points="334.85,346.74 334.85,350.58 337.68,350.05 337.68,346.21" fill="#4378c8" /><polygon points="325.4,338.28 332.39,339.49 332.39,346.28 334.85,346.74 334.85,350.58 328.23,349.29 328.23,342.77 325.4,342.26" fill="#6aa1ec" stroke="#3a68b8" stroke-width="0.25"/><polygon points="328.23,349.51 335.23,350.89 335.23,357.77 337.68,358.3 337.68,362.19 331.07,360.69 331.07,354.11 328.23,353.52" fill="#3563b0" /><polygon points="325.4,350.04 332.39,351.41 335.23,350.89 328.23,349.51" fill="#3f6db8" /><polygon points="332.39,351.41 332.39,358.29 335.23,357.77 335.23,350.89" fill="#4378c8" /><polygon points="332.39,358.29 334.85,358.82 337.68,358.3 335.23,357.77" fill="#3f6db8" /><polygon points="334.85,358.82 334.85,362.72 337.68,362.19 337.68,358.3" fill="#4378c8" /><polygon points="325.4,350.04 332.39,351.41 332.39,358.29 334.85,358.82 334.85,362.72 328.23,361.21 328.23,354.63 325.4,354.04" fill="#6aa1ec" stroke="#3a68b8" stroke-width="0.25"/><polygon points="328.23,361.35 335.23,362.96 335.23,369.24 337.68,369.84 337.68,373.39 331.07,371.73 331.07,365.7 328.23,365.02" fill="#3563b0" /><polygon points="325.4,361.87 332.39,363.49 335.23,362.96 328.23,361.35" fill="#3f6db8" /><polygon points="332.39,363.49 332.39,369.77 335.23,369.24 335.23,362.96" fill="#4378c8" /><polygon points="332.39,369.77 334.85,370.37 337.68,369.84 335.23,369.24" fill="#3f6db8" /><polygon points="334.85,370.37 334.85,373.91 337.68,373.39 337.68,369.84" fill="#4378c8" /><polygon points="325.4,361.87 332.39,363.49 332.39,369.77 334.85,370.37 334.85,373.91 328.23,372.25 328.23,366.22 325.4,365.54" fill="#6aa1ec" stroke="#3a68b8" stroke-width="0.25"/><polygon points="328.23,372.21 335.23,373.98 335.23,380.49 337.68,381.15 337.68,384.82 331.07,383.02 331.07,376.76 328.23,376.02" fill="#3563b0" /><polygon points="325.4,372.73 332.39,374.51 335.23,373.98 328.23,372.21" fill="#3f6db8" /><polygon points="332.39,374.51 332.39,381.02 335.23,380.49 335.23,373.98" fill="#4378c8" /><polygon points="332.39,381.02 334.85,381.67 337.68,381.15 335.23,380.49" fill="#3f6db8" /><polygon points="334.85,381.67 334.85,385.35 337.68,384.82 337.68,381.15" fill="#4378c8" /><polygon points="325.4,372.73 332.39,374.51 332.39,381.02 334.85,381.67 334.85,385.35 328.23,383.55 328.23,377.29 325.4,376.55" fill="#6aa1ec" stroke="#3a68b8" stroke-width="0.25"/><polygon points="338.98,316.13 346.57,317.12 346.57,323.89 349.24,324.27 349.24,328.1 342.06,327.01 342.06,320.51 338.98,320.09" fill="#3563b0" /><polygon points="335.9,316.7 343.49,317.69 346.57,317.12 338.98,316.13" fill="#3f6db8" /><polygon points="343.49,317.69 343.49,324.46 346.57,323.89 346.57,317.12" fill="#4378c8" /><polygon points="343.49,324.46 346.16,324.84 349.24,324.27 346.57,323.89" fill="#3f6db8" /><polygon points="346.16,324.84 346.16,328.67 349.24,328.1 349.24,324.27" fill="#4378c8" /><polygon points="335.9,316.7 343.49,317.69 343.49,324.46 346.16,324.84 346.16,328.67 338.98,327.58 338.98,321.08 335.9,320.66" fill="#6aa1ec" stroke="#3a68b8" stroke-width="0.25"/><polygon points="338.98,327.83 346.57,329.01 346.57,335.75 349.24,336.19 349.24,340 342.06,338.77 342.06,332.28 338.98,331.79" fill="#3563b0" /><polygon points="335.9,328.4 343.49,329.58 346.57,329.01 338.98,327.83" fill="#3f6db8" /><polygon points="343.49,329.58 343.49,336.32 346.57,335.75 346.57,329.01" fill="#4378c8" /><polygon points="343.49,336.32 346.16,336.76 349.24,336.19 346.57,335.75" fill="#3f6db8" /><polygon points="346.16,336.76 346.16,340.57 349.24,340 349.24,336.19" fill="#4378c8" /><polygon points="335.9,328.4 343.49,329.58 343.49,336.32 346.16,336.76 346.16,340.57 338.98,339.34 338.98,332.85 335.9,332.36" fill="#6aa1ec" stroke="#3a68b8" stroke-width="0.25"/><polygon points="338.98,339.53 346.57,340.85 346.57,347.78 349.24,348.28 349.24,352.2 342.06,350.81 342.06,344.15 338.98,343.59" fill="#3563b0" /><polygon points="335.9,340.1 343.49,341.42 346.57,340.85 338.98,339.53" fill="#3f6db8" /><polygon points="343.49,341.42 343.49,348.35 346.57,347.78 346.57,340.85" fill="#4378c8" /><polygon points="343.49,348.35 346.16,348.85 349.24,348.28 346.57,347.78" fill="#3f6db8" /><polygon points="346.16,348.85 346.16,352.77 349.24,352.2 349.24,348.28" fill="#4378c8" /><polygon points="335.9,340.1 343.49,341.42 343.49,348.35 346.16,348.85 346.16,352.77 338.98,351.38 338.98,344.72 335.9,344.16" fill="#6aa1ec" stroke="#3a68b8" stroke-width="0.25"/><polygon points="338.98,351.53 346.57,353.02 346.57,360.12 349.24,360.7 349.24,364.72 342.06,363.09 342.06,356.3 338.98,355.66" fill="#3563b0" /><polygon points="335.9,352.1 343.49,353.59 346.57,353.02 338.98,351.53" fill="#3f6db8" /><polygon points="343.49,353.59 343.49,360.69 346.57,360.12 346.57,353.02" fill="#4378c8" /><polygon points="343.49,360.69 346.16,361.27 349.24,360.7 346.57,360.12" fill="#3f6db8" /><polygon points="346.16,361.27 346.16,365.29 349.24,364.72 349.24,360.7" fill="#4378c8" /><polygon points="335.9,352.1 343.49,353.59 343.49,360.69 346.16,361.27 346.16,365.29 338.98,363.66 338.98,356.87 335.9,356.23" fill="#6aa1ec" stroke="#3a68b8" stroke-width="0.25"/><polygon points="338.98,363.73 346.57,365.49 346.57,371.91 349.24,372.56 349.24,376.19 342.06,374.38 342.06,368.22 338.98,367.48" fill="#3563b0" /><polygon points="335.9,364.3 343.49,366.06 346.57,365.49 338.98,363.73" fill="#3f6db8" /><polygon points="343.49,366.06 343.49,372.48 346.57,371.91 346.57,365.49" fill="#4378c8" /><polygon points="343.49,372.48 346.16,373.13 349.24,372.56 346.57,371.91" fill="#3f6db8" /><polygon points="346.16,373.13 346.16,376.76 349.24,376.19 349.24,372.56" fill="#4378c8" /><polygon points="335.9,364.3 343.49,366.06 343.49,372.48 346.16,373.13 346.16,376.76 338.98,374.95 338.98,368.79 335.9,368.05" fill="#6aa1ec" stroke="#3a68b8" stroke-width="0.25"/><polygon points="338.98,374.83 346.57,376.76 346.57,383.4 349.24,384.11 349.24,387.86 342.06,385.9 342.06,379.52 338.98,378.72" fill="#3563b0" /><polygon points="335.9,375.4 343.49,377.33 346.57,376.76 338.98,374.83" fill="#3f6db8" /><polygon points="343.49,377.33 343.49,383.97 346.57,383.4 346.57,376.76" fill="#4378c8" /><polygon points="343.49,383.97 346.16,384.68 349.24,384.11 346.57,383.4" fill="#3f6db8" /><polygon points="346.16,384.68 346.16,388.43 349.24,387.86 349.24,384.11" fill="#4378c8" /><polygon points="335.9,375.4 343.49,377.33 343.49,383.97 346.16,384.68 346.16,388.43 338.98,386.47 338.98,380.09 335.9,379.29" fill="#6aa1ec" stroke="#3a68b8" stroke-width="0.25"/>
<line x1="246.8" y1="345.2" x2="296.5" y2="333.5" stroke="#8a3a14" stroke-width="0.6" /><path d="M246.8,345.2L247.58,340.41M248.05,344.9L246.45,340.02M249.31,344.61L245.98,341.51M250.56,344.31L246.98,344.07M251.82,344.02L249.55,346.34M253.07,343.72L253.1,347.14M254.33,343.43L256.54,345.95M255.58,343.13L258.85,343.18M256.84,342.84L259.54,340M258.09,342.54L258.87,337.76M259.35,342.25L257.75,337.36M260.6,341.95L257.27,338.85M261.86,341.66L258.27,341.41M263.11,341.36L260.85,343.69M264.36,341.07L264.39,344.48M265.62,340.77L267.83,343.29M266.87,340.47L270.15,340.53M268.13,340.18L270.84,337.34M269.38,339.88L270.17,335.1M270.64,339.59L269.04,334.7M271.89,339.29L268.57,336.2M273.15,339L269.56,338.75M274.4,338.7L272.14,341.03M275.66,338.41L275.68,341.83M276.91,338.11L279.12,340.63M278.16,337.82L281.44,337.87M279.42,337.52L282.13,334.69M280.67,337.23L281.46,332.44M281.93,336.93L280.33,332.04M283.18,336.63L279.86,333.54M284.44,336.34L280.85,336.09M285.69,336.04L283.43,338.37M286.95,335.75L286.97,339.17M288.2,335.45L290.42,337.97M289.46,335.16L292.73,335.21M290.71,334.86L293.42,332.03M291.97,334.57L292.75,329.78M293.22,334.27L291.62,329.38M294.47,333.98L291.15,330.88M295.73,333.68L292.14,333.43" stroke="#8a3a14" stroke-width="0.5" fill="none"/><polyline points="247.58,340.41 247.41,340.22 247.23,340.07 247.04,339.97 246.86,339.92 246.68,339.93 246.52,339.98 246.37,340.08 246.24,340.23 246.13,340.42 246.05,340.66 245.99,340.93 245.97,341.24 245.99,341.57 246.04,341.94 246.13,342.32 246.27,342.72 246.44,343.14 246.65,343.55 246.91,343.97 247.21,344.38 247.54,344.78 247.91,345.16 248.32,345.53 248.76,345.86 249.24,346.17 249.73,346.44 250.25,346.67 250.8,346.86 251.35,347 251.92,347.1 252.49,347.15 253.07,347.14 253.64,347.09 254.21,346.99 254.76,346.84 255.3,346.64 255.82,346.39 256.32,346.1 256.79,345.77 257.23,345.4 257.63,344.99 258,344.56 258.34,344.1 258.63,343.62 258.88,343.13 259.09,342.62 259.26,342.11 259.39,341.6 259.48,341.1 259.53,340.61 259.55,340.14 259.52,339.69 259.47,339.26 259.39,338.87 259.28,338.52 259.14,338.2 258.99,337.92 258.82,337.69 258.65,337.51 258.46,337.38 258.28,337.3 258.1,337.26 257.93,337.28 257.76,337.35 257.62,337.46 257.49,337.62 257.39,337.83 257.32,338.07 257.27,338.36 257.27,338.67 257.29,339.02 257.36,339.39 257.46,339.78 257.6,340.19 257.79,340.6 258.02,341.02 258.28,341.43 258.59,341.84 258.94,342.24 259.32,342.61 259.74,342.97 260.19,343.3 260.67,343.59 261.18,343.85 261.7,344.07 262.25,344.24 262.81,344.38 263.38,344.46 263.95,344.49 264.53,344.48 265.1,344.41 265.66,344.29 266.21,344.13 266.75,343.91 267.26,343.65 267.75,343.35 268.21,343 268.64,342.62 269.04,342.21 269.4,341.77 269.72,341.3 270,340.82 270.24,340.32 270.44,339.81 270.6,339.3 270.72,338.8 270.79,338.3 270.83,337.81 270.84,337.35 270.8,336.9 270.74,336.49 270.65,336.11 270.53,335.76 270.39,335.46 270.23,335.19 270.06,334.98 269.89,334.81 269.7,334.69 269.52,334.62 269.34,334.6 269.17,334.64 269.01,334.72 268.87,334.85 268.75,335.02 268.66,335.24 268.59,335.5 268.56,335.79 268.56,336.12 268.6,336.47 268.67,336.85 268.79,337.24 268.95,337.65 269.14,338.06 269.38,338.48 269.66,338.9 269.98,339.3 270.34,339.69 270.73,340.06 271.16,340.41 271.62,340.73 272.11,341.01 272.62,341.26 273.15,341.47 273.7,341.63 274.27,341.75 274.84,341.82 275.41,341.83 275.99,341.8 276.56,341.72 277.12,341.59 277.66,341.41 278.19,341.18 278.7,340.91 279.18,340.59 279.63,340.24 280.05,339.85 280.44,339.43 280.79,338.98 281.1,338.5 281.37,338.01 281.59,337.51 281.78,337 281.93,336.5 282.03,335.99 282.1,335.5 282.13,335.01 282.12,334.55 282.08,334.12 282.01,333.71 281.91,333.34 281.78,333.01 281.64,332.72 281.48,332.47 281.3,332.27 281.12,332.11 280.94,332.01 280.76,331.95 280.58,331.95 280.41,332 280.26,332.09 280.13,332.23 280.01,332.42 279.93,332.65 279.87,332.92 279.85,333.22 279.86,333.56 279.91,333.92 279.99,334.3 280.12,334.7 280.29,335.11 280.5,335.53 280.75,335.95 281.04,336.36 281.37,336.76 281.74,337.14 282.15,337.51 282.58,337.85 283.05,338.16 283.55,338.43 284.07,338.67 284.6,338.86 285.16,339.01 285.72,339.11 286.3,339.17 286.87,339.17 287.45,339.13 288.01,339.03 288.57,338.88 289.11,338.69 289.63,338.45 290.13,338.16 290.61,337.84 291.05,337.47 291.46,337.07 291.83,336.64 292.17,336.18 292.47,335.7 292.73,335.21 292.94,334.71 293.12,334.2 293.25,333.69 293.35,333.19 293.4,332.69 293.42,332.22 293.4,331.77 293.35,331.34 293.27,330.94 293.16,330.58 293.03,330.26 292.88,329.98 292.72,329.74 292.54,329.56 292.36,329.42 292.18,329.33 291.99,329.29 291.82,329.3 291.66,329.36 291.51,329.47 291.38,329.63 291.28,329.83 291.2,330.07 291.15,330.35 291.14,330.66 291.16,331 291.22,331.37 291.32,331.76 291.46,332.16 291.64,332.58 291.86,332.99 292.12,333.41 292.43,333.82 292.77,334.22 293.15,334.6 293.56,334.95" fill="none" stroke="#d25c22" stroke-width="1.5" stroke-linejoin="round" stroke-linecap="round"/><polygon points="244.27,345.8 247.43,343.51 248.12,346.43" fill="#d25c22" />
<line x1="261.7" y1="354.6" x2="312.3" y2="340.8" stroke="#8a3a14" stroke-width="0.6" /><path d="M261.7,354.6L265.66,355.56M262.92,354.27L266.65,351.58M264.14,353.93L265.76,348.37M265.37,353.6L263.98,347.28M266.59,353.27L262.72,348.65M267.81,352.93L263.14,351.7M269.03,352.6L265.6,354.84M270.25,352.27L269.54,356.44M271.48,351.93L273.68,355.6M272.7,351.6L276.66,352.56M273.92,351.27L277.64,348.58M275.14,350.93L276.76,345.37M276.36,350.6L274.98,344.28M277.59,350.27L273.72,345.65M278.81,349.93L274.13,348.7M280.03,349.6L276.6,351.84M281.25,349.27L280.54,353.44M282.47,348.93L284.68,352.6M283.7,348.6L287.65,349.56M284.92,348.27L288.64,345.58M286.14,347.93L287.76,342.37M287.36,347.6L285.98,341.28M288.58,347.27L284.72,342.65M289.81,346.93L285.13,345.7M291.03,346.6L287.6,348.84M292.25,346.27L291.54,350.44M293.47,345.93L295.68,349.6M294.69,345.6L298.65,346.56M295.92,345.27L299.64,342.58M297.14,344.93L298.75,339.37M298.36,344.6L296.98,338.28M299.58,344.27L295.72,339.65M300.81,343.93L296.13,342.7M302.03,343.6L298.6,345.84M303.25,343.27L302.54,347.44M304.47,342.94L306.68,346.6M305.69,342.6L309.65,343.56M306.92,342.27L310.64,339.59M308.14,341.94L309.75,336.37M309.36,341.6L307.98,335.28M310.58,341.27L306.71,336.65M311.8,340.94L307.13,339.7" stroke="#8a3a14" stroke-width="0.5" fill="none"/><polyline points="265.66,355.56 265.96,354.95 266.2,354.32 266.39,353.68 266.53,353.04 266.61,352.4 266.65,351.77 266.63,351.16 266.56,350.57 266.46,350.02 266.31,349.5 266.12,349.03 265.9,348.61 265.66,348.23 265.4,347.92 265.12,347.66 264.83,347.47 264.53,347.34 264.24,347.28 263.96,347.28 263.69,347.35 263.44,347.48 263.22,347.67 263.02,347.92 262.86,348.22 262.74,348.57 262.66,348.97 262.63,349.41 262.65,349.88 262.72,350.37 262.85,350.89 263.02,351.42 263.25,351.96 263.54,352.49 263.88,353.02 264.26,353.53 264.7,354.02 265.18,354.48 265.7,354.91 266.26,355.29 266.86,355.63 267.48,355.92 268.12,356.15 268.79,356.32 269.46,356.43 270.14,356.48 270.82,356.46 271.5,356.37 272.16,356.23 272.8,356.01 273.43,355.74 274.02,355.4 274.58,355.02 275.1,354.57 275.58,354.09 276.02,353.56 276.41,352.99 276.74,352.4 277.03,351.78 277.26,351.15 277.43,350.51 277.56,349.87 277.63,349.23 277.64,348.6 277.61,348 277.54,347.42 277.42,346.88 277.26,346.37 277.06,345.91 276.84,345.5 276.59,345.14 276.32,344.84 276.04,344.6 275.75,344.43 275.45,344.32 275.16,344.27 274.88,344.29 274.62,344.38 274.37,344.52 274.16,344.73 273.97,344.99 273.82,345.31 273.71,345.67 273.65,346.08 273.63,346.53 273.67,347.01 273.75,347.51 273.89,348.03 274.08,348.57 274.32,349.1 274.62,349.64 274.97,350.16 275.37,350.67 275.82,351.15 276.31,351.6 276.85,352.02 277.42,352.39 278.02,352.71 278.65,352.99 279.3,353.2 279.96,353.36 280.64,353.45 281.32,353.48 282,353.44 282.67,353.34 283.33,353.17 283.97,352.95 284.59,352.65 285.17,352.31 285.72,351.9 286.23,351.45 286.7,350.95 287.13,350.41 287.5,349.84 287.82,349.24 288.09,348.61 288.31,347.98 288.47,347.34 288.58,346.69 288.63,346.06 288.64,345.44 288.6,344.84 288.51,344.27 288.38,343.74 288.21,343.24 288,342.8 287.77,342.4 287.52,342.06 287.24,341.77 286.96,341.55 286.66,341.39 286.37,341.3 286.08,341.27 285.81,341.31 285.55,341.41 285.31,341.57 285.1,341.79 284.93,342.07 284.79,342.4 284.69,342.78 284.64,343.2 284.63,343.66 284.68,344.14 284.78,344.65 284.93,345.18 285.14,345.71 285.4,346.25 285.71,346.78 286.07,347.3 286.49,347.8 286.95,348.28 287.45,348.72 288,349.12 288.57,349.48 289.18,349.79 289.82,350.05 290.47,350.25 291.14,350.39 291.82,350.46 292.5,350.48 293.18,350.42 293.85,350.3 294.51,350.12 295.14,349.87 295.75,349.57 296.32,349.2 296.86,348.78 297.36,348.32 297.82,347.81 298.23,347.26 298.59,346.68 298.9,346.07 299.15,345.44 299.36,344.81 299.5,344.16 299.6,343.52 299.64,342.89 299.63,342.28 299.58,341.69 299.47,341.13 299.33,340.6 299.15,340.12 298.94,339.68 298.7,339.3 298.44,338.97 298.17,338.71 297.88,338.5 297.58,338.36 297.29,338.29 297.01,338.28 296.73,338.33 296.48,338.45 296.25,338.63 296.05,338.86 295.88,339.16 295.76,339.5 295.67,339.89 295.63,340.32 295.64,340.79 295.7,341.28 295.81,341.79 295.98,342.32 296.2,342.86 296.47,343.39 296.8,343.92 297.18,344.44 297.61,344.93 298.08,345.4 298.59,345.83 299.15,346.23 299.73,346.57 300.35,346.87 300.99,347.11 301.65,347.29 302.33,347.42 303.01,347.47 303.69,347.47 304.36,347.4 305.03,347.26 305.68,347.06 306.3,346.8 306.9,346.47 307.47,346.1 308,345.66 308.49,345.19 308.93,344.66 309.33,344.11 309.68,343.52 309.97,342.9 310.21,342.27 310.4,341.63 310.53,340.99 310.61,340.35 310.64,339.72 310.62,339.12 310.55,338.53 310.44,337.98 310.29,337.47 310.1,337 309.88,336.58 309.63,336.21 309.37,335.9 309.09,335.65 308.8,335.46 308.5,335.34 308.21,335.28 307.93,335.28 307.66,335.36 307.41,335.49 307.19,335.69 307,335.94 306.84,336.25 306.73,336.6 306.65,337 306.63,337.44 306.65,337.92 306.72,338.42 306.85,338.93 307.03,339.47 307.27,340 307.56,340.54 307.9,341.06" fill="none" stroke="#d25c22" stroke-width="1.6" stroke-linejoin="round" stroke-linecap="round"/>
<line x1="285.3" y1="384.1" x2="336" y2="362" stroke="#1f9a78" stroke-width="0.6" /><path d="M285.3,384.1L288.54,380.16M286.57,383.55L286.95,377.17M287.85,382.99L284.96,376.66M289.12,382.44L284.1,378.61M290.39,381.88L285.38,381.86M291.67,381.33L288.78,384.62M292.94,380.77L293.32,385.34M294.21,380.22L297.46,383.42M295.49,379.66L299.87,379.51M296.76,379.11L300,375.17M298.03,378.55L298.41,372.17M299.31,378L296.42,371.66M300.58,377.44L295.56,373.62M301.85,376.89L296.84,376.87M303.12,376.33L300.24,379.62M304.4,375.78L304.78,380.34M305.67,375.22L308.92,378.43M306.94,374.67L311.32,374.51M308.22,374.11L311.46,370.17M309.49,373.56L309.86,367.18M310.76,373L307.88,366.67M312.04,372.45L307.02,368.63M313.31,371.89L308.3,371.87M314.58,371.34L311.7,374.63M315.86,370.78L316.24,375.35M317.13,370.23L320.38,373.43M318.4,369.67L322.78,369.52M319.68,369.12L322.92,365.18M320.95,368.56L321.32,362.18M322.22,368.01L319.33,361.67M323.5,367.45L318.48,363.63M324.77,366.9L319.75,366.88M326.04,366.34L323.16,369.63M327.32,365.79L327.7,370.35M328.59,365.23L331.84,368.44M329.86,364.68L334.24,364.52M331.13,364.12L334.38,360.18M332.41,363.57L332.78,357.19M333.68,363.01L330.79,356.68M334.95,362.46L329.94,358.64" stroke="#1f9a78" stroke-width="0.5" fill="none"/><polyline points="288.54,380.16 288.4,379.61 288.21,379.09 288,378.61 287.76,378.17 287.49,377.78 287.21,377.43 286.92,377.14 286.62,376.91 286.31,376.73 286.01,376.6 285.71,376.54 285.43,376.53 285.16,376.58 284.91,376.68 284.69,376.84 284.5,377.05 284.34,377.3 284.22,377.6 284.14,377.95 284.1,378.32 284.11,378.73 284.16,379.17 284.27,379.63 284.42,380.1 284.62,380.58 284.87,381.07 285.17,381.56 285.51,382.04 285.91,382.51 286.34,382.96 286.82,383.38 287.33,383.78 287.88,384.14 288.47,384.46 289.07,384.75 289.7,384.98 290.35,385.17 291.01,385.3 291.68,385.38 292.36,385.4 293.03,385.37 293.7,385.28 294.35,385.13 294.99,384.93 295.61,384.67 296.2,384.35 296.76,383.99 297.29,383.57 297.78,383.11 298.23,382.62 298.64,382.08 299.01,381.51 299.33,380.92 299.6,380.3 299.82,379.67 299.99,379.02 300.11,378.37 300.19,377.73 300.21,377.08 300.19,376.45 300.13,375.84 300.02,375.26 299.88,374.7 299.7,374.17 299.49,373.68 299.25,373.24 298.99,372.84 298.72,372.49 298.42,372.19 298.12,371.94 297.82,371.76 297.51,371.62 297.22,371.55 296.93,371.53 296.66,371.57 296.41,371.67 296.18,371.82 295.99,372.02 295.82,372.27 295.7,372.56 295.61,372.9 295.56,373.27 295.56,373.67 295.61,374.11 295.71,374.56 295.85,375.03 296.04,375.52 296.29,376 296.58,376.49 296.92,376.97 297.3,377.44 297.73,377.89 298.2,378.32 298.71,378.72 299.26,379.09 299.83,379.42 300.44,379.71 301.06,379.95 301.71,380.15 302.37,380.29 303.04,380.38 303.71,380.41 304.39,380.38 305.05,380.3 305.71,380.16 306.35,379.97 306.97,379.71 307.57,379.41 308.13,379.05 308.67,378.64 309.17,378.19 309.63,377.7 310.04,377.17 310.42,376.61 310.74,376.01 311.02,375.4 311.25,374.77 311.43,374.13 311.56,373.48 311.64,372.83 311.67,372.19 311.66,371.55 311.6,370.94 311.5,370.35 311.36,369.79 311.19,369.25 310.98,368.76 310.75,368.31 310.49,367.9 310.22,367.54 309.93,367.24 309.63,366.98 309.32,366.79 309.02,366.65 308.72,366.56 308.43,366.54 308.16,366.57 307.9,366.66 307.67,366.8 307.47,366.99 307.3,367.23 307.17,367.52 307.08,367.85 307.03,368.22 307.02,368.62 307.06,369.04 307.15,369.5 307.28,369.97 307.47,370.45 307.71,370.93 307.99,371.42 308.32,371.91 308.7,372.38 309.12,372.83 309.59,373.26 310.09,373.67 310.63,374.04 311.2,374.38 311.8,374.67 312.43,374.92 313.07,375.13 313.73,375.28 314.4,375.37 315.07,375.41 315.74,375.4 316.41,375.32 317.07,375.19 317.71,375 318.34,374.76 318.94,374.46 319.51,374.11 320.05,373.71 320.55,373.27 321.02,372.78 321.44,372.26 321.82,371.7 322.15,371.11 322.44,370.5 322.67,369.87 322.86,369.23 323,368.58 323.09,367.93 323.13,367.29 323.12,366.66 323.07,366.04 322.98,365.44 322.84,364.87 322.68,364.34 322.48,363.84 322.25,363.38 321.99,362.97 321.72,362.6 321.43,362.28 321.13,362.02 320.83,361.82 320.52,361.67 320.22,361.58 319.93,361.54 319.66,361.57 319.4,361.64 319.17,361.78 318.96,361.96 318.79,362.2 318.65,362.48 318.55,362.8 318.49,363.16 318.48,363.56 318.51,363.98 318.59,364.43 318.72,364.9 318.9,365.38 319.12,365.86 319.4,366.35 319.73,366.84 320.1,367.31 320.51,367.77 320.97,368.21 321.47,368.62 322,368.99 322.57,369.34 323.17,369.64 323.79,369.89 324.43,370.1 325.08,370.26 325.75,370.37 326.42,370.41 327.1,370.41 327.77,370.34 328.43,370.22 329.07,370.04 329.7,369.81 330.31,369.52 330.88,369.18 331.43,368.78 331.94,368.35 332.41,367.86 332.84,367.35 333.22,366.79 333.56,366.21 333.86,365.6 334.1,364.97 334.29,364.33 334.44,363.69 334.53,363.04 334.58,362.39 334.58,361.76 334.54,361.14 334.45,360.54 334.33,359.96 334.16,359.42 333.97,358.92 333.74,358.45 333.49,358.03 333.22,357.66 332.93,357.33 332.64,357.07 332.33,356.85 332.03,356.69 331.73,356.59 331.43,356.55 331.16,356.56 330.9,356.63 330.66,356.76 330.45,356.94 330.27,357.16 330.13,357.44 330.02,357.75 329.96,358.11 329.93,358.5 329.96,358.92 330.03,359.37 330.15,359.83 330.33,360.31 330.55,360.8 330.81,361.28" fill="none" stroke="#3fd6a2" stroke-width="1.45" stroke-linejoin="round" stroke-linecap="round"/>
<line x1="325.3" y1="393.4" x2="325.3" y2="385.4" stroke="#e01818" stroke-width="0.9" />
<polygon points="325.3,384.4 326.2,386.4 324.4,386.4" fill="#e01818" />
<line x1="325.3" y1="393.4" x2="332.3" y2="395.1" stroke="#18b8c8" stroke-width="0.9" />
<polygon points="333.5,395.4 331.34,395.79 331.78,394.04" fill="#18b8c8" />
<line x1="325.3" y1="393.4" x2="320.4" y2="396.2" stroke="#28a838" stroke-width="0.9" />
<polygon points="319.3,396.8 320.62,395.05 321.49,396.62" fill="#28a838" />
<text x="328" y="387.6" font-family='"Liberation Sans", sans-serif' font-size="5" fill="#222" text-anchor="start" font-weight="bold" font-style="normal" >y</text>
<text x="334.6" y="397" font-family='"Liberation Sans", sans-serif' font-size="5" fill="#222" text-anchor="start" font-weight="bold" font-style="normal" >x</text>
<text x="316.6" y="400.4" font-family='"Liberation Sans", sans-serif' font-size="5" fill="#222" text-anchor="start" font-weight="bold" font-style="normal" >z</text>
<line x1="344.6" y1="387.3" x2="348" y2="389.8" stroke="#111" stroke-width="0.7" />
<polygon points="344.2,387 345.97,387.26 345.05,388.57" fill="#111" />
<polygon points="348.4,390.1 346.63,389.84 347.55,388.53" fill="#111" />
<text x="346.6" y="392.6" font-family='"Liberation Sans", sans-serif' font-size="2.8" fill="#111" text-anchor="start" font-weight="normal" font-style="normal" >S</text>
<rect x="392.1" y="364.7" width="38.3" height="36.5" fill="#fff" stroke="#8a8a8a" stroke-width="0.6"/>
<polygon points="397.9,371.3 415.3,371.3 415.3,387.2 423.7,387.2 423.7,395.6 406.4,395.6 406.4,379.8 397.9,379.8" fill="#5b8fdb" />
<line x1="398" y1="369.3" x2="415.6" y2="369.3" stroke="#111" stroke-width="0.45" /><polygon points="415.6,369.3 414,370 414,368.6" fill="#111" /><polygon points="398,369.3 399.6,368.6 399.6,370" fill="#111" />
<text x="407" y="368.4" font-family='"Liberation Sans", sans-serif' font-size="2.9" fill="#222" text-anchor="middle" font-weight="normal" font-style="normal" >W2</text>
<line x1="406.9" y1="383.3" x2="414.8" y2="383.3" stroke="#111" stroke-width="0.45" /><polygon points="414.8,383.3 413.6,383.9 413.6,382.7" fill="#111" /><polygon points="406.9,383.3 408.1,382.7 408.1,383.9" fill="#111" />
<text x="410.7" y="382.4" font-family='"Liberation Sans", sans-serif' font-size="2.6" fill="#222" text-anchor="middle" font-weight="normal" font-style="normal" >W1</text>
<line x1="417.1" y1="371.4" x2="417.1" y2="379.6" stroke="#111" stroke-width="0.45" /><polygon points="417.1,379.6 416.4,378.2 417.8,378.2" fill="#111" /><polygon points="417.1,371.4 417.8,372.8 416.4,372.8" fill="#111" />
<line x1="417.1" y1="380" x2="417.1" y2="387" stroke="#111" stroke-width="0.45" /><polygon points="417.1,387 416.4,385.6 417.8,385.6" fill="#111" /><polygon points="417.1,380 417.8,381.4 416.4,381.4" fill="#111" />
<line x1="417.1" y1="387.4" x2="417.1" y2="395.5" stroke="#111" stroke-width="0.45" /><polygon points="417.1,395.5 416.4,394.1 417.8,394.1" fill="#111" /><polygon points="417.1,387.4 417.8,388.8 416.4,388.8" fill="#111" />
<text x="419.6" y="377.2" font-family='"Liberation Sans", sans-serif' font-size="2.8" fill="#222" text-anchor="start" font-weight="normal" font-style="normal" >L2</text>
<text x="419.6" y="384.6" font-family='"Liberation Sans", sans-serif' font-size="2.8" fill="#222" text-anchor="start" font-weight="normal" font-style="normal" >L1</text>
<text x="419.6" y="392.6" font-family='"Liberation Sans", sans-serif' font-size="2.8" fill="#222" text-anchor="start" font-weight="normal" font-style="normal" >L2</text>
<line x1="432.8" y1="365.2" x2="432.8" y2="400.8" stroke="#111" stroke-width="0.55" /><polygon points="432.8,400.8 431.6,398.2 434,398.2" fill="#111" /><polygon points="432.8,365.2 434,367.8 431.6,367.8" fill="#111" />
<text x="435" y="386.6" font-family='"Liberation Sans", sans-serif' font-size="6.2" fill="#222" text-anchor="start" font-weight="normal" font-style="normal" >P<tspan font-size="4" dy="1.2">Y</tspan></text>
<line x1="392.3" y1="403.7" x2="430.2" y2="403.7" stroke="#111" stroke-width="0.55" /><polygon points="430.2,403.7 427.6,404.9 427.6,402.5" fill="#111" /><polygon points="392.3,403.7 394.9,402.5 394.9,404.9" fill="#111" />
<text x="409.2" y="410.6" font-family='"Liberation Sans", sans-serif' font-size="6.2" fill="#222" text-anchor="start" font-weight="normal" font-style="normal" >P<tspan font-size="4" dy="1">x</tspan></text>
</g>
<rect x="274.3" y="417.3" width="159.8" height="128.1" fill="none" stroke="#9a9a9a" stroke-width="0.7"/>
<line x1="274.3" y1="545.4" x2="275.9" y2="545.4" stroke="#777" stroke-width="0.5" />
<line x1="432.5" y1="545.4" x2="434.1" y2="545.4" stroke="#777" stroke-width="0.5" />
<text x="272.1" y="549" font-family='"Liberation Sans", sans-serif' font-size="9.2" fill="#111" text-anchor="end" font-weight="normal" font-style="normal" >0</text>
<line x1="274.3" y1="532.59" x2="275.9" y2="532.59" stroke="#777" stroke-width="0.5" />
<line x1="432.5" y1="532.59" x2="434.1" y2="532.59" stroke="#777" stroke-width="0.5" />
<text x="272.1" y="536.19" font-family='"Liberation Sans", sans-serif' font-size="9.2" fill="#111" text-anchor="end" font-weight="normal" font-style="normal" >0.1</text>
<line x1="274.3" y1="519.78" x2="275.9" y2="519.78" stroke="#777" stroke-width="0.5" />
<line x1="432.5" y1="519.78" x2="434.1" y2="519.78" stroke="#777" stroke-width="0.5" />
<text x="272.1" y="523.38" font-family='"Liberation Sans", sans-serif' font-size="9.2" fill="#111" text-anchor="end" font-weight="normal" font-style="normal" >0.2</text>
<line x1="274.3" y1="506.97" x2="275.9" y2="506.97" stroke="#777" stroke-width="0.5" />
<line x1="432.5" y1="506.97" x2="434.1" y2="506.97" stroke="#777" stroke-width="0.5" />
<text x="272.1" y="510.57" font-family='"Liberation Sans", sans-serif' font-size="9.2" fill="#111" text-anchor="end" font-weight="normal" font-style="normal" >0.3</text>
<line x1="274.3" y1="494.16" x2="275.9" y2="494.16" stroke="#777" stroke-width="0.5" />
<line x1="432.5" y1="494.16" x2="434.1" y2="494.16" stroke="#777" stroke-width="0.5" />
<text x="272.1" y="497.76" font-family='"Liberation Sans", sans-serif' font-size="9.2" fill="#111" text-anchor="end" font-weight="normal" font-style="normal" >0.4</text>
<line x1="274.3" y1="481.35" x2="275.9" y2="481.35" stroke="#777" stroke-width="0.5" />
<line x1="432.5" y1="481.35" x2="434.1" y2="481.35" stroke="#777" stroke-width="0.5" />
<text x="272.1" y="484.95" font-family='"Liberation Sans", sans-serif' font-size="9.2" fill="#111" text-anchor="end" font-weight="normal" font-style="normal" >0.5</text>
<line x1="274.3" y1="468.54" x2="275.9" y2="468.54" stroke="#777" stroke-width="0.5" />
<line x1="432.5" y1="468.54" x2="434.1" y2="468.54" stroke="#777" stroke-width="0.5" />
<text x="272.1" y="472.14" font-family='"Liberation Sans", sans-serif' font-size="9.2" fill="#111" text-anchor="end" font-weight="normal" font-style="normal" >0.6</text>
<line x1="274.3" y1="455.73" x2="275.9" y2="455.73" stroke="#777" stroke-width="0.5" />
<line x1="432.5" y1="455.73" x2="434.1" y2="455.73" stroke="#777" stroke-width="0.5" />
<text x="272.1" y="459.33" font-family='"Liberation Sans", sans-serif' font-size="9.2" fill="#111" text-anchor="end" font-weight="normal" font-style="normal" >0.7</text>
<line x1="274.3" y1="442.92" x2="275.9" y2="442.92" stroke="#777" stroke-width="0.5" />
<line x1="432.5" y1="442.92" x2="434.1" y2="442.92" stroke="#777" stroke-width="0.5" />
<text x="272.1" y="446.52" font-family='"Liberation Sans", sans-serif' font-size="9.2" fill="#111" text-anchor="end" font-weight="normal" font-style="normal" >0.8</text>
<line x1="274.3" y1="430.11" x2="275.9" y2="430.11" stroke="#777" stroke-width="0.5" />
<line x1="432.5" y1="430.11" x2="434.1" y2="430.11" stroke="#777" stroke-width="0.5" />
<text x="272.1" y="433.71" font-family='"Liberation Sans", sans-serif' font-size="9.2" fill="#111" text-anchor="end" font-weight="normal" font-style="normal" >0.9</text>
<line x1="274.3" y1="417.3" x2="275.9" y2="417.3" stroke="#777" stroke-width="0.5" />
<line x1="432.5" y1="417.3" x2="434.1" y2="417.3" stroke="#777" stroke-width="0.5" />
<text x="272.1" y="420.9" font-family='"Liberation Sans", sans-serif' font-size="9.2" fill="#111" text-anchor="end" font-weight="normal" font-style="normal" >1</text>
<line x1="274.3" y1="545.4" x2="274.3" y2="543.8" stroke="#777" stroke-width="0.5" />
<line x1="274.3" y1="417.3" x2="274.3" y2="418.9" stroke="#777" stroke-width="0.5" />
<text x="274.3" y="556" font-family='"Liberation Sans", sans-serif' font-size="9.2" fill="#111" text-anchor="middle" font-weight="normal" font-style="normal" >1.3</text>
<line x1="297.13" y1="545.4" x2="297.13" y2="543.8" stroke="#777" stroke-width="0.5" />
<line x1="297.13" y1="417.3" x2="297.13" y2="418.9" stroke="#777" stroke-width="0.5" />
<text x="297.13" y="556" font-family='"Liberation Sans", sans-serif' font-size="9.2" fill="#111" text-anchor="middle" font-weight="normal" font-style="normal" >1.4</text>
<line x1="319.96" y1="545.4" x2="319.96" y2="543.8" stroke="#777" stroke-width="0.5" />
<line x1="319.96" y1="417.3" x2="319.96" y2="418.9" stroke="#777" stroke-width="0.5" />
<text x="319.96" y="556" font-family='"Liberation Sans", sans-serif' font-size="9.2" fill="#111" text-anchor="middle" font-weight="normal" font-style="normal" >1.5</text>
<line x1="342.79" y1="545.4" x2="342.79" y2="543.8" stroke="#777" stroke-width="0.5" />
<line x1="342.79" y1="417.3" x2="342.79" y2="418.9" stroke="#777" stroke-width="0.5" />
<text x="342.79" y="556" font-family='"Liberation Sans", sans-serif' font-size="9.2" fill="#111" text-anchor="middle" font-weight="normal" font-style="normal" >1.6</text>
<line x1="365.61" y1="545.4" x2="365.61" y2="543.8" stroke="#777" stroke-width="0.5" />
<line x1="365.61" y1="417.3" x2="365.61" y2="418.9" stroke="#777" stroke-width="0.5" />
<text x="365.61" y="556" font-family='"Liberation Sans", sans-serif' font-size="9.2" fill="#111" text-anchor="middle" font-weight="normal" font-style="normal" >1.7</text>
<line x1="388.44" y1="545.4" x2="388.44" y2="543.8" stroke="#777" stroke-width="0.5" />
<line x1="388.44" y1="417.3" x2="388.44" y2="418.9" stroke="#777" stroke-width="0.5" />
<text x="388.44" y="556" font-family='"Liberation Sans", sans-serif' font-size="9.2" fill="#111" text-anchor="middle" font-weight="normal" font-style="normal" >1.8</text>
<line x1="411.27" y1="545.4" x2="411.27" y2="543.8" stroke="#777" stroke-width="0.5" />
<line x1="411.27" y1="417.3" x2="411.27" y2="418.9" stroke="#777" stroke-width="0.5" />
<text x="411.27" y="556" font-family='"Liberation Sans", sans-serif' font-size="9.2" fill="#111" text-anchor="middle" font-weight="normal" font-style="normal" >1.9</text>
<line x1="434.1" y1="545.4" x2="434.1" y2="543.8" stroke="#777" stroke-width="0.5" />
<line x1="434.1" y1="417.3" x2="434.1" y2="418.9" stroke="#777" stroke-width="0.5" />
<text x="434.1" y="556" font-family='"Liberation Sans", sans-serif' font-size="9.2" fill="#111" text-anchor="middle" font-weight="normal" font-style="normal" >2</text>
<text x="0" y="0" font-family='"Liberation Sans", sans-serif' font-size="9.7" fill="#111" text-anchor="middle" font-weight="bold" font-style="normal" transform="translate(257.2,481.6) rotate(-90)" >Transmission</text>
<text x="354" y="565.6" font-family='"Liberation Sans", sans-serif' font-size="8.1" fill="#111" text-anchor="middle" font-weight="bold" font-style="normal" >Wavelength (μm)</text>
<clipPath id="clipE"><rect x="274.3" y="417.3" width="159.8" height="128.1"/></clipPath><g clip-path="url(#clipE)">
<polyline points="274.3,494.16 274.7,492.74 275.1,491.41 275.5,490.2 275.9,489.14 276.3,488.26 276.7,487.56 277.1,486.92 277.5,486.31 277.9,485.8 278.31,485.41 278.71,485.21 279.11,485.21 279.51,485.33 279.91,485.53 280.31,485.8 280.71,486.11 281.11,486.44 281.51,486.83 281.91,487.36 282.31,488 282.71,488.75 283.11,489.59 283.51,490.51 283.91,491.68 284.31,493.11 284.71,494.75 285.11,496.52 285.51,498.36 285.91,500.24 286.32,502.3 286.72,504.52 287.12,506.85 287.52,509.24 287.92,511.62 288.32,514.04 288.72,516.6 289.12,519.2 289.52,521.77 289.92,524.2 290.32,526.39 290.72,528.55 291.12,530.73 291.52,532.77 291.92,534.54 292.32,535.89 292.72,536.72 293.12,537.39 293.52,537.99 293.92,538.48 294.33,538.82 294.73,538.99 295.13,538.94 295.53,538.68 295.93,538.25 296.33,537.7 296.73,537.08 297.13,536.43 297.53,535.66 297.93,534.68 298.33,533.53 298.73,532.27 299.13,530.95 299.53,529.63 299.93,528.2 300.33,526.65 300.73,525.03 301.13,523.37 301.53,521.71 301.93,520.07 302.34,518.38 302.74,516.62 303.14,514.84 303.54,513.04 303.94,511.24 304.34,509.47 304.74,507.74 305.14,506.06 305.54,504.47 305.94,502.96 306.34,501.58 306.74,500.24 307.14,498.94 307.54,497.67 307.94,496.43 308.34,495.24 308.74,494.09 309.14,492.99 309.54,491.95 309.94,490.96 310.35,490.05 310.75,489.2 311.15,488.4 311.55,487.62 311.95,486.86 312.35,486.13 312.75,485.42 313.15,484.76 313.55,484.14 313.95,483.56 314.35,483.04 314.75,482.58 315.15,482.19 315.55,481.86 315.95,481.55 316.35,481.25 316.75,480.99 317.15,480.81 317.55,480.72 317.95,480.72 318.36,480.79 318.76,480.89 319.16,481.03 319.56,481.18 319.96,481.35 320.36,481.55 320.76,481.82 321.16,482.14 321.56,482.52 321.96,482.94 322.36,483.41 322.76,483.92 323.16,484.46 323.56,485.02 323.96,485.62 324.36,486.23 324.76,486.87 325.16,487.6 325.56,488.42 325.96,489.32 326.37,490.29 326.77,491.32 327.17,492.4 327.57,493.52 327.97,494.68 328.37,495.85 328.77,497.05 329.17,498.24 329.57,499.49 329.97,500.82 330.37,502.2 330.77,503.64 331.17,505.12 331.57,506.63 331.97,508.17 332.37,509.72 332.77,511.27 333.17,512.82 333.57,514.35 333.97,515.9 334.38,517.52 334.78,519.19 335.18,520.9 335.58,522.62 335.98,524.32 336.38,525.99 336.78,527.6 337.18,529.14 337.58,530.57 337.98,531.88 338.38,533.05 338.78,534.19 339.18,535.33 339.58,536.44 339.98,537.51 340.38,538.54 340.78,539.5 341.18,540.37 341.58,541.16 341.98,541.84 342.39,542.41 342.79,542.84 343.19,543.19 343.59,543.54 343.99,543.86 344.39,544.17 344.79,544.45 345.19,544.7 345.59,544.92 345.99,545.11 346.39,545.25 346.79,545.35 347.19,545.4 347.59,545.4 347.99,545.37 348.39,545.32 348.79,545.25 349.19,545.17 349.59,545.08 349.99,544.97 350.4,544.87 350.8,544.75 351.2,544.64 351.6,544.53 352,544.43 352.4,544.34 352.8,544.26 353.2,544.19 353.6,544.15 354,544.12 354.4,544.12 354.8,544.13 355.2,544.16 355.6,544.19 356,544.23 356.4,544.28 356.8,544.33 357.2,544.38 357.6,544.44 358,544.49 358.41,544.55 358.81,544.6 359.21,544.65 359.61,544.69 360.01,544.72 360.41,544.74 360.81,544.76 361.21,544.75 361.61,544.7 362.01,544.6 362.41,544.46 362.81,544.29 363.21,544.09 363.61,543.87 364.01,543.65 364.41,543.43 364.81,543.21 365.21,543.01 365.61,542.84 366.01,542.68 366.42,542.51 366.82,542.35 367.22,542.18 367.62,542.01 368.02,541.85 368.42,541.68 368.82,541.52 369.22,541.36 369.62,541.2 370.02,541.05 370.42,540.9 370.82,540.76 371.22,540.63 371.62,540.51 372.02,540.39 372.42,540.29 372.82,540.19 373.22,540.08 373.62,539.98 374.02,539.87 374.43,539.77 374.83,539.67 375.23,539.57 375.63,539.48 376.03,539.39 376.43,539.31 376.83,539.23 377.23,539.17 377.63,539.11 378.03,539.06 378.43,539.03 378.83,539.01 379.23,539 379.63,539 380.03,539 380.43,539.01 380.83,539.02 381.23,539.04 381.63,539.06 382.03,539.08 382.44,539.11 382.84,539.14 383.24,539.17 383.64,539.2 384.04,539.23 384.44,539.27 384.84,539.3 385.24,539.34 385.64,539.38 386.04,539.41 386.44,539.45 386.84,539.49 387.24,539.53 387.64,539.56 388.04,539.6 388.44,539.64 388.84,539.67 389.24,539.71 389.64,539.76 390.04,539.81 390.45,539.86 390.85,539.91 391.25,539.97 391.65,540.02 392.05,540.08 392.45,540.14 392.85,540.2 393.25,540.26 393.65,540.32 394.05,540.38 394.45,540.44 394.85,540.5 395.25,540.55 395.65,540.61 396.05,540.66 396.45,540.7 396.85,540.75 397.25,540.79 397.65,540.82 398.05,540.85 398.46,540.88 398.86,540.9 399.26,540.91 399.66,540.92 400.06,540.92 400.46,540.92 400.86,540.92 401.26,540.92 401.66,540.92 402.06,540.92 402.46,540.92 402.86,540.92 403.26,540.92 403.66,540.92 404.06,540.92 404.46,540.92 404.86,540.92 405.26,540.92 405.66,540.92 406.06,540.92 406.47,540.92 406.87,540.91 407.27,540.9 407.67,540.86 408.07,540.8 408.47,540.72 408.87,540.63 409.27,540.52 409.67,540.4 410.07,540.27 410.47,540.13 410.87,539.97 411.27,539.81 411.67,539.64 412.07,539.46 412.47,539.28 412.87,539.09 413.27,538.9 413.67,538.71 414.07,538.52 414.48,538.33 414.88,538.15 415.28,537.96 415.68,537.78 416.08,537.61 416.48,537.43 416.88,537.24 417.28,537.05 417.68,536.86 418.08,536.66 418.48,536.45 418.88,536.24 419.28,536.03 419.68,535.81 420.08,535.58 420.48,535.36 420.88,535.12 421.28,534.89 421.68,534.65 422.08,534.41 422.49,534.16 422.89,533.92 423.29,533.67 423.69,533.41 424.09,533.16 424.49,532.9 424.89,532.64 425.29,532.38 425.69,532.11 426.09,531.84 426.49,531.57 426.89,531.29 427.29,531 427.69,530.71 428.09,530.42 428.49,530.12 428.89,529.82 429.29,529.51 429.69,529.2 430.09,528.89 430.5,528.57 430.9,528.25 431.3,527.92 431.7,527.59 432.1,527.26 432.5,526.92 432.9,526.58 433.3,526.24 433.7,525.89 434.1,525.54" fill="none" stroke="#3f9be6" stroke-width="0.75" stroke-linejoin="round" />
<polyline points="274.3,536.43 274.7,537.2 275.1,537.94 275.5,538.63 275.9,539.28 276.3,539.89 276.7,540.44 277.1,541.01 277.5,541.57 277.9,542.09 278.31,542.5 278.71,542.78 279.11,542.9 279.51,543 279.91,543.09 280.31,543.17 280.71,543.25 281.11,543.31 281.51,543.36 281.91,543.4 282.31,543.44 282.71,543.46 283.11,543.48 283.51,543.48 283.91,543.46 284.31,543.41 284.71,543.34 285.11,543.24 285.51,543.13 285.91,543 286.32,542.86 286.72,542.71 287.12,542.55 287.52,542.39 287.92,542.23 288.32,542.05 288.72,541.83 289.12,541.57 289.52,541.27 289.92,540.96 290.32,540.63 290.72,540.31 291.12,539.98 291.52,539.67 291.92,539.38 292.32,539.13 292.72,538.91 293.12,538.69 293.52,538.46 293.92,538.23 294.33,538.01 294.73,537.79 295.13,537.6 295.53,537.43 295.93,537.28 296.33,537.17 296.73,537.1 297.13,537.07 297.53,537.1 297.93,537.18 298.33,537.29 298.73,537.44 299.13,537.6 299.53,537.77 299.93,538.01 300.33,538.34 300.73,538.73 301.13,539.18 301.53,539.67 301.93,540.19 302.34,540.73 302.74,541.27 303.14,541.81 303.54,542.32 303.94,542.79 304.34,543.3 304.74,543.88 305.14,544.47 305.54,544.97 305.94,545.31 306.34,545.4 306.74,545.37 307.14,545.31 307.54,545.23 307.94,545.12 308.34,544.99 308.74,544.85 309.14,544.7 309.54,544.55 309.94,544.4 310.35,544.27 310.75,544.14 311.15,544.03 311.55,543.92 311.95,543.8 312.35,543.69 312.75,543.58 313.15,543.47 313.55,543.35 313.95,543.24 314.35,543.13 314.75,543.02 315.15,542.91 315.55,542.79 315.95,542.68 316.35,542.55 316.75,542.43 317.15,542.3 317.55,542.18 317.95,542.06 318.36,541.94 318.76,541.83 319.16,541.73 319.56,541.64 319.96,541.56 320.36,541.48 320.76,541.4 321.16,541.33 321.56,541.25 321.96,541.18 322.36,541.11 322.76,541.05 323.16,541 323.56,540.96 323.96,540.93 324.36,540.92 324.76,540.92 325.16,540.92 325.56,540.92 325.96,540.92 326.37,540.92 326.77,540.92 327.17,540.92 327.57,540.92 327.97,540.92 328.37,540.92 328.77,540.92 329.17,540.92 329.57,540.92 329.97,540.92 330.37,540.92 330.77,540.92 331.17,540.92 331.57,540.92 331.97,540.92 332.37,540.92 332.77,540.92 333.17,540.92 333.57,540.92 333.97,540.92 334.38,540.92 334.78,540.92 335.18,540.92 335.58,540.92 335.98,540.92 336.38,540.92 336.78,540.92 337.18,540.92 337.58,540.92 337.98,540.92 338.38,540.91 338.78,540.9 339.18,540.87 339.58,540.82 339.98,540.76 340.38,540.7 340.78,540.63 341.18,540.55 341.58,540.48 341.98,540.4 342.39,540.34 342.79,540.28 343.19,540.22 343.59,540.15 343.99,540.07 344.39,540 344.79,539.93 345.19,539.85 345.59,539.79 345.99,539.73 346.39,539.69 346.79,539.65 347.19,539.64 347.59,539.64 347.99,539.65 348.39,539.66 348.79,539.69 349.19,539.72 349.59,539.75 349.99,539.79 350.4,539.83 350.8,539.88 351.2,539.93 351.6,539.98 352,540.03 352.4,540.07 352.8,540.12 353.2,540.17 353.6,540.22 354,540.26 354.4,540.29 354.8,540.33 355.2,540.37 355.6,540.4 356,540.44 356.4,540.47 356.8,540.51 357.2,540.54 357.6,540.58 358,540.61 358.41,540.65 358.81,540.69 359.21,540.72 359.61,540.76 360.01,540.8 360.41,540.85 360.81,540.89 361.21,540.93 361.61,540.98 362.01,541.03 362.41,541.08 362.81,541.13 363.21,541.18 363.61,541.24 364.01,541.29 364.41,541.35 364.81,541.42 365.21,541.49 365.61,541.56 366.01,541.64 366.42,541.73 366.82,541.82 367.22,541.93 367.62,542.04 368.02,542.16 368.42,542.29 368.82,542.41 369.22,542.54 369.62,542.67 370.02,542.8 370.42,542.92 370.82,543.04 371.22,543.16 371.62,543.27 372.02,543.37 372.42,543.47 372.82,543.56 373.22,543.65 373.62,543.74 374.02,543.83 374.43,543.92 374.83,544 375.23,544.09 375.63,544.17 376.03,544.25 376.43,544.33 376.83,544.4 377.23,544.47 377.63,544.54 378.03,544.6 378.43,544.65 378.83,544.71 379.23,544.75 379.63,544.79 380.03,544.83 380.43,544.88 380.83,544.92 381.23,544.96 381.63,545 382.03,545.04 382.44,545.07 382.84,545.11 383.24,545.15 383.64,545.18 384.04,545.21 384.44,545.24 384.84,545.27 385.24,545.29 385.64,545.32 386.04,545.34 386.44,545.36 386.84,545.37 387.24,545.38 387.64,545.39 388.04,545.4 388.44,545.4 388.84,545.4 389.24,545.4 389.64,545.39 390.04,545.38 390.45,545.38 390.85,545.37 391.25,545.35 391.65,545.34 392.05,545.33 392.45,545.31 392.85,545.29 393.25,545.27 393.65,545.25 394.05,545.23 394.45,545.2 394.85,545.18 395.25,545.15 395.65,545.12 396.05,545.09 396.45,545.06 396.85,545.03 397.25,545 397.65,544.96 398.05,544.93 398.46,544.89 398.86,544.86 399.26,544.82 399.66,544.78 400.06,544.74 400.46,544.68 400.86,544.62 401.26,544.54 401.66,544.45 402.06,544.35 402.46,544.24 402.86,544.13 403.26,544.01 403.66,543.88 404.06,543.75 404.46,543.61 404.86,543.47 405.26,543.33 405.66,543.19 406.06,543.06 406.47,542.92 406.87,542.78 407.27,542.65 407.67,542.51 408.07,542.36 408.47,542.21 408.87,542.06 409.27,541.91 409.67,541.75 410.07,541.59 410.47,541.42 410.87,541.25 411.27,541.08 411.67,540.91 412.07,540.74 412.47,540.56 412.87,540.38 413.27,540.2 413.67,540.02 414.07,539.83 414.48,539.64 414.88,539.45 415.28,539.26 415.68,539.07 416.08,538.88 416.48,538.68 416.88,538.48 417.28,538.27 417.68,538.06 418.08,537.84 418.48,537.62 418.88,537.4 419.28,537.17 419.68,536.94 420.08,536.71 420.48,536.48 420.88,536.24 421.28,536.01 421.68,535.77 422.08,535.54 422.49,535.3 422.89,535.07 423.29,534.84 423.69,534.6 424.09,534.37 424.49,534.14 424.89,533.92 425.29,533.69 425.69,533.47 426.09,533.24 426.49,533.02 426.89,532.79 427.29,532.57 427.69,532.34 428.09,532.12 428.49,531.89 428.89,531.67 429.29,531.44 429.69,531.22 430.09,530.99 430.5,530.77 430.9,530.54 431.3,530.32 431.7,530.1 432.1,529.87 432.5,529.65 432.9,529.42 433.3,529.2 433.7,528.97 434.1,528.75" fill="none" stroke="#f2e32a" stroke-width="0.75" stroke-linejoin="round" />
<polyline points="274.3,544.12 274.7,544.12 275.1,544.12 275.5,544.12 275.9,544.12 276.3,544.12 276.7,544.12 277.1,544.12 277.5,544.12 277.9,544.12 278.31,544.12 278.71,544.12 279.11,544.12 279.51,544.12 279.91,544.12 280.31,544.12 280.71,544.12 281.11,544.12 281.51,544.11 281.91,544.09 282.31,544.06 282.71,544.02 283.11,543.96 283.51,543.9 283.91,543.83 284.31,543.75 284.71,543.66 285.11,543.57 285.51,543.47 285.91,543.37 286.32,543.27 286.72,543.17 287.12,543.06 287.52,542.96 287.92,542.86 288.32,542.75 288.72,542.64 289.12,542.51 289.52,542.37 289.92,542.22 290.32,542.07 290.72,541.91 291.12,541.74 291.52,541.58 291.92,541.41 292.32,541.24 292.72,541.07 293.12,540.91 293.52,540.75 293.92,540.6 294.33,540.45 294.73,540.32 295.13,540.18 295.53,540.05 295.93,539.9 296.33,539.75 296.73,539.6 297.13,539.45 297.53,539.3 297.93,539.16 298.33,539.02 298.73,538.89 299.13,538.77 299.53,538.66 299.93,538.56 300.33,538.48 300.73,538.42 301.13,538.38 301.53,538.36 301.93,538.36 302.34,538.4 302.74,538.47 303.14,538.57 303.54,538.7 303.94,538.84 304.34,538.99 304.74,539.16 305.14,539.32 305.54,539.49 305.94,539.65 306.34,539.81 306.74,539.95 307.14,540.07 307.54,540.16 307.94,540.23 308.34,540.27 308.74,540.28 309.14,540.28 309.54,540.28 309.94,540.28 310.35,540.28 310.75,540.28 311.15,540.28 311.55,540.28 311.95,540.28 312.35,540.28 312.75,540.28 313.15,540.28 313.55,540.28 313.95,540.28 314.35,540.28 314.75,540.28 315.15,540.28 315.55,540.27 315.95,540.22 316.35,540.13 316.75,540 317.15,539.85 317.55,539.69 317.95,539.52 318.36,539.36 318.76,539.21 319.16,539.1 319.56,539.02 319.96,539 320.36,539.01 320.76,539.07 321.16,539.16 321.56,539.28 321.96,539.42 322.36,539.58 322.76,539.76 323.16,539.95 323.56,540.15 323.96,540.36 324.36,540.56 324.76,540.76 325.16,540.95 325.56,541.13 325.96,541.29 326.37,541.43 326.77,541.55 327.17,541.65 327.57,541.75 327.97,541.85 328.37,541.96 328.77,542.06 329.17,542.16 329.57,542.26 329.97,542.35 330.37,542.44 330.77,542.52 331.17,542.6 331.57,542.66 331.97,542.72 332.37,542.77 332.77,542.8 333.17,542.83 333.57,542.84 333.97,542.82 334.38,542.75 334.78,542.63 335.18,542.46 335.58,542.25 335.98,542.01 336.38,541.74 336.78,541.45 337.18,541.14 337.58,540.81 337.98,540.48 338.38,540.14 338.78,539.75 339.18,539.31 339.58,538.81 339.98,538.25 340.38,537.63 340.78,536.95 341.18,536.21 341.58,535.4 341.98,534.53 342.39,533.59 342.79,532.59 343.19,531.41 343.59,529.97 343.99,528.28 344.39,526.37 344.79,524.24 345.19,521.93 345.59,519.44 345.99,516.81 346.39,514.04 346.79,511.16 347.19,508.18 347.59,505.03 347.99,501.31 348.39,497.11 348.79,492.54 349.19,487.72 349.59,482.77 349.99,477.8 350.4,472.95 350.8,468.31 351.2,463.5 351.6,458.36 352,453.28 352.4,448.63 352.8,444.8 353.2,442.05 353.6,439.64 354,438.04 354.4,437.9 354.8,438.64 355.2,439.86 355.6,441.85 356,446.05 356.4,452.02 356.8,459.16 357.2,466.88 357.6,474.57 358,483.06 358.41,493.22 358.81,504.11 359.21,514.77 359.61,524.26 360.01,531.76 360.41,538.95 360.81,544.31 361.21,545.38 361.61,545.15 362.01,544.74 362.41,544.19 362.81,543.59 363.21,543 363.61,542.43 364.01,541.79 364.41,541.08 364.81,540.36 365.21,539.65 365.61,539 366.01,538.38 366.42,537.76 366.82,537.16 367.22,536.56 367.62,535.97 368.02,535.4 368.42,534.84 368.82,534.29 369.22,533.77 369.62,533.26 370.02,532.78 370.42,532.31 370.82,531.85 371.22,531.39 371.62,530.93 372.02,530.49 372.42,530.07 372.82,529.66 373.22,529.28 373.62,528.92 374.02,528.6 374.43,528.31 374.83,528.06 375.23,527.82 375.63,527.58 376.03,527.35 376.43,527.12 376.83,526.91 377.23,526.72 377.63,526.54 378.03,526.4 378.43,526.29 378.83,526.22 379.23,526.19 379.63,526.19 380.03,526.19 380.43,526.2 380.83,526.21 381.23,526.22 381.63,526.24 382.03,526.26 382.44,526.28 382.84,526.3 383.24,526.33 383.64,526.36 384.04,526.39 384.44,526.42 384.84,526.46 385.24,526.49 385.64,526.53 386.04,526.57 386.44,526.61 386.84,526.65 387.24,526.69 387.64,526.74 388.04,526.78 388.44,526.83 388.84,526.87 389.24,526.93 389.64,527 390.04,527.07 390.45,527.16 390.85,527.24 391.25,527.34 391.65,527.44 392.05,527.55 392.45,527.66 392.85,527.78 393.25,527.9 393.65,528.03 394.05,528.16 394.45,528.29 394.85,528.42 395.25,528.56 395.65,528.7 396.05,528.84 396.45,528.99 396.85,529.13 397.25,529.27 397.65,529.42 398.05,529.57 398.46,529.73 398.86,529.9 399.26,530.07 399.66,530.26 400.06,530.45 400.46,530.65 400.86,530.85 401.26,531.05 401.66,531.26 402.06,531.48 402.46,531.69 402.86,531.91 403.26,532.12 403.66,532.34 404.06,532.55 404.46,532.76 404.86,532.97 405.26,533.18 405.66,533.38 406.06,533.57 406.47,533.76 406.87,533.94 407.27,534.13 407.67,534.32 408.07,534.5 408.47,534.7 408.87,534.89 409.27,535.08 409.67,535.27 410.07,535.46 410.47,535.65 410.87,535.84 411.27,536.02 411.67,536.2 412.07,536.38 412.47,536.55 412.87,536.71 413.27,536.87 413.67,537.03 414.07,537.17 414.48,537.31 414.88,537.44 415.28,537.56 415.68,537.67 416.08,537.78 416.48,537.88 416.88,537.98 417.28,538.09 417.68,538.19 418.08,538.29 418.48,538.39 418.88,538.49 419.28,538.58 419.68,538.66 420.08,538.74 420.48,538.8 420.88,538.86 421.28,538.91 421.68,538.95 422.08,538.98 422.49,538.99 422.89,538.99 423.29,538.97 423.69,538.92 424.09,538.86 424.49,538.78 424.89,538.68 425.29,538.58 425.69,538.47 426.09,538.36 426.49,538.25 426.89,538.14 427.29,538.04 427.69,537.94 428.09,537.86 428.49,537.79 428.89,537.75 429.29,537.72 429.69,537.71 430.09,537.71 430.5,537.71 430.9,537.71 431.3,537.71 431.7,537.71 432.1,537.71 432.5,537.71 432.9,537.71 433.3,537.71 433.7,537.71 434.1,537.71" fill="none" stroke="#f03a5a" stroke-width="0.75" stroke-linejoin="round" />
<polyline points="274.3,495.44 274.7,495.22 275.1,494.99 275.5,494.77 275.9,494.54 276.3,494.32 276.7,494.09 277.1,493.85 277.5,493.6 277.9,493.36 278.31,493.13 278.71,492.94 279.11,492.79 279.51,492.63 279.91,492.49 280.31,492.36 280.71,492.28 281.11,492.24 281.51,492.31 281.91,492.53 282.31,492.87 282.71,493.29 283.11,493.77 283.51,494.26 283.91,494.91 284.31,495.75 284.71,496.71 285.11,497.74 285.51,498.78 285.91,499.82 286.32,501.09 286.72,502.46 287.12,503.77 287.52,504.88 287.92,505.6 288.32,505.98 288.72,506.31 289.12,506.58 289.52,506.8 289.92,506.93 290.32,506.97 290.72,506.97 291.12,506.97 291.52,506.97 291.92,506.97 292.32,506.97 292.72,507.02 293.12,507.55 293.52,508.54 293.92,509.86 294.33,511.37 294.73,512.92 295.13,514.59 295.53,516.77 295.93,519.26 296.33,521.82 296.73,524.21 297.13,526.19 297.53,527.96 297.93,529.78 298.33,531.47 298.73,532.83 299.13,533.68 299.53,533.85 299.93,533.58 300.33,533.02 300.73,532.25 301.13,531.35 301.53,530.4 301.93,529.41 302.34,528.12 302.74,526.58 303.14,524.81 303.54,522.89 303.94,520.85 304.34,518.76 304.74,516.66 305.14,514.61 305.54,512.65 305.94,510.84 306.34,509.22 306.74,507.67 307.14,506.12 307.54,504.57 307.94,503.06 308.34,501.58 308.74,500.15 309.14,498.8 309.54,497.52 309.94,496.34 310.35,495.28 310.75,494.33 311.15,493.49 311.55,492.68 311.95,491.91 312.35,491.17 312.75,490.47 313.15,489.81 313.55,489.2 313.95,488.65 314.35,488.14 314.75,487.7 315.15,487.31 315.55,486.99 315.95,486.67 316.35,486.37 316.75,486.12 317.15,485.93 317.55,485.84 317.95,485.85 318.36,485.91 318.76,486.02 319.16,486.15 319.56,486.31 319.96,486.47 320.36,486.68 320.76,486.94 321.16,487.26 321.56,487.64 321.96,488.07 322.36,488.53 322.76,489.04 323.16,489.58 323.56,490.15 323.96,490.74 324.36,491.35 324.76,491.99 325.16,492.72 325.56,493.54 325.96,494.44 326.37,495.41 326.77,496.44 327.17,497.52 327.57,498.64 327.97,499.8 328.37,500.98 328.77,502.17 329.17,503.37 329.57,504.63 329.97,505.98 330.37,507.4 330.77,508.87 331.17,510.39 331.57,511.93 331.97,513.48 332.37,515.03 332.77,516.56 333.17,518.05 333.57,519.5 333.97,520.93 334.38,522.41 334.78,523.93 335.18,525.46 335.58,526.99 335.98,528.48 336.38,529.92 336.78,531.28 337.18,532.53 337.58,533.66 337.98,534.64 338.38,535.47 338.78,536.27 339.18,537.07 339.58,537.85 339.98,538.59 340.38,539.29 340.78,539.92 341.18,540.47 341.58,540.92 341.98,541.26 342.39,541.48 342.79,541.56 343.19,541.56 343.59,541.56 343.99,541.56 344.39,541.56 344.79,541.56 345.19,541.56 345.59,541.56 345.99,541.56 346.39,541.56 346.79,541.56 347.19,541.56 347.59,541.53 347.99,541.34 348.39,541.02 348.79,540.56 349.19,540.01 349.59,539.37 349.99,538.68 350.4,537.94 350.8,537.19 351.2,536.43 351.6,535.7 352,535.01 352.4,534.14 352.8,533.11 353.2,532.09 353.6,531.24 354,530.74 354.4,530.71 354.8,530.99 355.2,531.49 355.6,532.15 356,532.91 356.4,533.71 356.8,534.66 357.2,536.01 357.6,537.56 358,539.14 358.41,540.56 358.81,541.65 359.21,542.58 359.61,543.49 360.01,544.31 360.41,544.95 360.81,545.33 361.21,545.39 361.61,545.32 362.01,545.18 362.41,544.98 362.81,544.74 363.21,544.47 363.61,544.17 364.01,543.87 364.41,543.57 364.81,543.29 365.21,543.05 365.61,542.84 366.01,542.66 366.42,542.48 366.82,542.3 367.22,542.13 367.62,541.96 368.02,541.79 368.42,541.63 368.82,541.47 369.22,541.31 369.62,541.16 370.02,541.02 370.42,540.88 370.82,540.75 371.22,540.62 371.62,540.5 372.02,540.39 372.42,540.29 372.82,540.19 373.22,540.08 373.62,539.98 374.02,539.87 374.43,539.77 374.83,539.67 375.23,539.57 375.63,539.48 376.03,539.39 376.43,539.31 376.83,539.23 377.23,539.17 377.63,539.11 378.03,539.06 378.43,539.03 378.83,539.01 379.23,539 379.63,539 380.03,539 380.43,539.01 380.83,539.02 381.23,539.04 381.63,539.06 382.03,539.08 382.44,539.11 382.84,539.14 383.24,539.17 383.64,539.2 384.04,539.23 384.44,539.27 384.84,539.3 385.24,539.34 385.64,539.38 386.04,539.41 386.44,539.45 386.84,539.49 387.24,539.53 387.64,539.56 388.04,539.6 388.44,539.64 388.84,539.67 389.24,539.71 389.64,539.75 390.04,539.79 390.45,539.83 390.85,539.87 391.25,539.91 391.65,539.96 392.05,540 392.45,540.05 392.85,540.1 393.25,540.14 393.65,540.19 394.05,540.24 394.45,540.29 394.85,540.34 395.25,540.39 395.65,540.44 396.05,540.49 396.45,540.53 396.85,540.58 397.25,540.63 397.65,540.68 398.05,540.72 398.46,540.77 398.86,540.81 399.26,540.85 399.66,540.9 400.06,540.94 400.46,540.98 400.86,541.03 401.26,541.08 401.66,541.13 402.06,541.18 402.46,541.23 402.86,541.27 403.26,541.32 403.66,541.37 404.06,541.41 404.46,541.45 404.86,541.48 405.26,541.51 405.66,541.53 406.06,541.55 406.47,541.56 406.87,541.56 407.27,541.54 407.67,541.5 408.07,541.44 408.47,541.37 408.87,541.28 409.27,541.18 409.67,541.06 410.07,540.93 410.47,540.78 410.87,540.63 411.27,540.47 411.67,540.3 412.07,540.13 412.47,539.94 412.87,539.76 413.27,539.57 413.67,539.38 414.07,539.18 414.48,538.99 414.88,538.8 415.28,538.61 415.68,538.43 416.08,538.24 416.48,538.05 416.88,537.85 417.28,537.64 417.68,537.41 418.08,537.18 418.48,536.94 418.88,536.7 419.28,536.45 419.68,536.19 420.08,535.93 420.48,535.66 420.88,535.39 421.28,535.12 421.68,534.84 422.08,534.57 422.49,534.29 422.89,534.01 423.29,533.73 423.69,533.46 424.09,533.18 424.49,532.91 424.89,532.64 425.29,532.38 425.69,532.11 426.09,531.84 426.49,531.57 426.89,531.3 427.29,531.02 427.69,530.75 428.09,530.47 428.49,530.2 428.89,529.92 429.29,529.64 429.69,529.36 430.09,529.07 430.5,528.79 430.9,528.51 431.3,528.22 431.7,527.93 432.1,527.65 432.5,527.36 432.9,527.06 433.3,526.77 433.7,526.48 434.1,526.18" fill="none" stroke="#9a5cc4" stroke-width="0.75" stroke-linejoin="round" />
</g>
<rect x="398" y="419.2" width="33.2" height="52.5" fill="#fff" stroke="#a4a4a4" stroke-width="0.6"/>
<line x1="401.1" y1="426.4" x2="410.8" y2="426.4" stroke="#3f9be6" stroke-width="0.6" />
<text x="415.4" y="428.7" font-family='"Liberation Sans", sans-serif' font-size="8.5" fill="#111" text-anchor="start" font-weight="bold" font-style="normal" >T<tspan font-size="6.6" dy="4.1">LL</tspan></text>
<line x1="401.1" y1="437.7" x2="410.8" y2="437.7" stroke="#f2e32a" stroke-width="0.6" />
<text x="415.4" y="441.1" font-family='"Liberation Sans", sans-serif' font-size="8.5" fill="#111" text-anchor="start" font-weight="bold" font-style="normal" >T<tspan font-size="6.6" dy="4.1">RL</tspan></text>
<line x1="401.1" y1="450.4" x2="410.8" y2="450.4" stroke="#f03a5a" stroke-width="0.6" />
<text x="415.4" y="453.6" font-family='"Liberation Sans", sans-serif' font-size="8.5" fill="#111" text-anchor="start" font-weight="bold" font-style="normal" >T<tspan font-size="6.6" dy="4.1">LR</tspan></text>
<line x1="401.1" y1="461.4" x2="410.8" y2="461.4" stroke="#9a5cc4" stroke-width="0.6" />
<text x="415.4" y="465.7" font-family='"Liberation Sans", sans-serif' font-size="8.5" fill="#111" text-anchor="start" font-weight="bold" font-style="normal" >T<tspan font-size="6.6" dy="4.1">RR</tspan></text>
</g>
<g id="pf">
<g id="fimg">
<g clip-path="url(#clipFI)">
<rect x="484.4" y="288.9" width="189" height="115.4" fill="#455659" />
<polygon points="636,288.9 673.4,288.9 673.4,334 636,324.4" fill="#56696c" />
<polygon points="596,340 636.3,324.4 674.4,334 674.4,405.3 484.4,405.3 484.4,372 500,371.4 580,353.9" fill="url(#gfFloor)" />
<ellipse cx="640" cy="404" rx="52" ry="22" fill="url(#gfSpot)" opacity="0.75"/>
<ellipse cx="560" cy="408" rx="40" ry="14" fill="url(#gfSpot)" opacity="0.5"/>
<polygon points="480.4,368 522,369 508,408.3 480.4,408.3" fill="#34393b" opacity="0.55" filter="url(#fb2)"/>
<polygon points="494.6,316.6 557.4,305.4 597.5,319.6 597.5,341 499,359.4" fill="url(#gfMirFloor)" />
<polygon points="497,343 517,339 519,355.2 499.5,359" fill="#c6b6b6" opacity="0.8" filter="url(#fb05)"/>
<rect x="518.2" y="288.9" width="26.8" height="44" fill="url(#gfBeamL)" filter="url(#fb05)"/>
<polygon points="545.8,324.13 550.91,324.13 550.91,324.76 545.8,324.76" fill="#0d1314" /><polygon points="546.09,323.07 551.2,323.07 550.91,324.13 545.8,324.13" fill="#1b2426" /><line x1="546.39" y1="323.32" x2="550.9" y2="323.32" stroke="#3a4e52" stroke-width="0.5" /><polygon points="539.04,325.43 544.49,325.43 544.49,326.11 539.04,326.11" fill="#0d1314" /><polygon points="539.39,324.29 544.84,324.29 544.49,325.43 539.04,325.43" fill="#1b2426" /><line x1="539.69" y1="324.54" x2="544.54" y2="324.54" stroke="#3a4e52" stroke-width="0.5" /><polygon points="549.8,325.56 554.91,325.56 554.91,326.22 549.8,326.22" fill="#0d1314" /><polygon points="550.07,324.45 555.18,324.45 554.91,325.56 549.8,325.56" fill="#1b2426" /><line x1="550.37" y1="324.7" x2="554.88" y2="324.7" stroke="#3a4e52" stroke-width="0.5" /><polygon points="531.62,326.86 537.46,326.86 537.46,327.59 531.62,327.59" fill="#0d1314" /><polygon points="532.04,325.62 537.88,325.62 537.46,326.86 531.62,326.86" fill="#1b2426" /><line x1="532.34" y1="325.87" x2="537.58" y2="325.87" stroke="#3a4e52" stroke-width="0.5" /><polygon points="543.14,326.95 548.59,326.95 548.59,327.65 543.14,327.65" fill="#0d1314" /><polygon points="543.47,325.75 548.92,325.75 548.59,326.95 543.14,326.95" fill="#1b2426" /><line x1="543.77" y1="326" x2="548.62" y2="326" stroke="#3a4e52" stroke-width="0.5" /><polygon points="553.91,327.03 559.01,327.03 559.01,327.72 553.91,327.72" fill="#0d1314" /><polygon points="554.15,325.87 559.25,325.87 559.01,327.03 553.91,327.03" fill="#1b2426" /><line x1="554.45" y1="326.12" x2="558.95" y2="326.12" stroke="#3a4e52" stroke-width="0.5" /><polygon points="523.45,328.43 529.72,328.43 529.72,329.22 523.45,329.22" fill="#0d1314" /><polygon points="523.96,327.09 530.23,327.09 529.72,328.43 523.45,328.43" fill="#1b2426" /><line x1="524.26" y1="327.34" x2="529.93" y2="327.34" stroke="#3a4e52" stroke-width="0.5" /><polygon points="535.83,328.47 541.67,328.47 541.67,329.23 535.83,329.23" fill="#0d1314" /><polygon points="536.22,327.18 542.07,327.18 541.67,328.47 535.83,328.47" fill="#1b2426" /><line x1="536.52" y1="327.43" x2="541.77" y2="327.43" stroke="#3a4e52" stroke-width="0.5" /><polygon points="547.35,328.5 552.81,328.5 552.81,329.24 547.35,329.24" fill="#0d1314" /><polygon points="547.65,327.25 553.11,327.25 552.81,328.5 547.35,328.5" fill="#1b2426" /><line x1="547.95" y1="327.5" x2="552.81" y2="327.5" stroke="#3a4e52" stroke-width="0.5" /><polygon points="558.12,328.54 563.22,328.54 563.22,329.25 558.12,329.25" fill="#0d1314" /><polygon points="558.33,327.33 563.43,327.33 563.22,328.54 558.12,328.54" fill="#1b2426" /><line x1="558.63" y1="327.58" x2="563.13" y2="327.58" stroke="#3a4e52" stroke-width="0.5" /><polygon points="514.4,330.17 521.18,330.17 521.18,331.03 514.4,331.03" fill="#0d1314" /><polygon points="515.01,328.72 521.79,328.72 521.18,330.17 514.4,330.17" fill="#1b2426" /><line x1="515.31" y1="328.97" x2="521.49" y2="328.97" stroke="#3a4e52" stroke-width="0.5" /><polygon points="527.76,330.14 534.04,330.14 534.04,330.97 527.76,330.97" fill="#0d1314" /><polygon points="528.24,328.74 534.52,328.74 534.04,330.14 527.76,330.14" fill="#1b2426" /><line x1="528.54" y1="328.99" x2="534.22" y2="328.99" stroke="#3a4e52" stroke-width="0.5" /><polygon points="540.15,330.12 545.99,330.12 545.99,330.92 540.15,330.92" fill="#0d1314" /><polygon points="540.52,328.77 546.36,328.77 545.99,330.12 540.15,330.12" fill="#1b2426" /><line x1="540.82" y1="329.02" x2="546.06" y2="329.02" stroke="#3a4e52" stroke-width="0.5" /><polygon points="551.68,330.1 557.13,330.1 557.13,330.87 551.68,330.87" fill="#0d1314" /><polygon points="551.95,328.8 557.4,328.8 557.13,330.1 551.68,330.1" fill="#1b2426" /><line x1="552.25" y1="329.05" x2="557.1" y2="329.05" stroke="#3a4e52" stroke-width="0.5" /><polygon points="562.43,330.08 567.52,330.08 567.52,330.82 562.43,330.82" fill="#0d1314" /><polygon points="562.62,328.82 567.71,328.82 567.52,330.08 562.43,330.08" fill="#1b2426" /><line x1="562.92" y1="329.07" x2="567.41" y2="329.07" stroke="#3a4e52" stroke-width="0.5" /><polygon points="566.86,331.66 571.94,331.66 571.94,332.44 566.86,332.44" fill="#0d1314" /><polygon points="567.01,330.35 572.1,330.35 571.94,331.66 566.86,331.66" fill="#1b2426" /><line x1="567.31" y1="330.6" x2="571.8" y2="330.6" stroke="#3a4e52" stroke-width="0.5" /><polygon points="556.12,331.74 561.56,331.74 561.56,332.54 556.12,332.54" fill="#0d1314" /><polygon points="556.36,330.38 561.8,330.38 561.56,331.74 556.12,331.74" fill="#1b2426" /><line x1="556.66" y1="330.63" x2="561.5" y2="330.63" stroke="#3a4e52" stroke-width="0.5" /><polygon points="544.59,331.82 550.43,331.82 550.43,332.65 544.59,332.65" fill="#0d1314" /><polygon points="544.93,330.41 550.77,330.41 550.43,331.82 544.59,331.82" fill="#1b2426" /><line x1="545.23" y1="330.66" x2="550.47" y2="330.66" stroke="#3a4e52" stroke-width="0.5" /><polygon points="532.19,331.91 538.48,331.91 538.48,332.77 532.19,332.77" fill="#0d1314" /><polygon points="532.64,330.44 538.93,330.44 538.48,331.91 532.19,331.91" fill="#1b2426" /><line x1="532.94" y1="330.69" x2="538.63" y2="330.69" stroke="#3a4e52" stroke-width="0.5" /><polygon points="518.81,332 525.6,332 525.6,332.9 518.81,332.9" fill="#0d1314" /><polygon points="519.39,330.48 526.18,330.48 525.6,332 518.81,332" fill="#1b2426" /><line x1="519.69" y1="330.73" x2="525.88" y2="330.73" stroke="#3a4e52" stroke-width="0.5" /><polygon points="504.33,332.11 511.68,332.11 511.68,333.04 504.33,333.04" fill="#0d1314" /><polygon points="505.06,330.52 512.41,330.52 511.68,332.11 504.33,332.11" fill="#1b2426" /><line x1="505.36" y1="330.77" x2="512.11" y2="330.77" stroke="#3a4e52" stroke-width="0.5" /><polygon points="571.4,333.29 576.48,333.29 576.48,334.09 571.4,334.09" fill="#0d1314" /><polygon points="571.52,331.91 576.6,331.91 576.48,333.29 571.4,333.29" fill="#1b2426" /><line x1="571.82" y1="332.16" x2="576.3" y2="332.16" stroke="#3a4e52" stroke-width="0.5" /><polygon points="560.68,333.42 566.11,333.42 566.11,334.26 560.68,334.26" fill="#0d1314" /><polygon points="560.88,332 566.32,332 566.11,333.42 560.68,333.42" fill="#1b2426" /><line x1="561.18" y1="332.25" x2="566.02" y2="332.25" stroke="#3a4e52" stroke-width="0.5" /><polygon points="549.15,333.57 555,333.57 555,334.44 549.15,334.44" fill="#0d1314" /><polygon points="549.46,332.09 555.3,332.09 555,333.57 549.15,333.57" fill="#1b2426" /><line x1="549.76" y1="332.34" x2="555" y2="332.34" stroke="#3a4e52" stroke-width="0.5" /><polygon points="536.75,333.72 543.04,333.72 543.04,334.63 536.75,334.63" fill="#0d1314" /><polygon points="537.17,332.19 543.46,332.19 543.04,333.72 536.75,333.72" fill="#1b2426" /><line x1="537.47" y1="332.44" x2="543.16" y2="332.44" stroke="#3a4e52" stroke-width="0.5" /><polygon points="523.35,333.89 530.15,333.89 530.15,334.84 523.35,334.84" fill="#0d1314" /><polygon points="523.9,332.29 530.7,332.29 530.15,333.89 523.35,333.89" fill="#1b2426" /><line x1="524.2" y1="332.54" x2="530.4" y2="332.54" stroke="#3a4e52" stroke-width="0.5" /><polygon points="508.83,334.08 516.2,334.08 516.2,335.06 508.83,335.06" fill="#0d1314" /><polygon points="509.53,332.4 516.9,332.4 516.2,334.08 508.83,334.08" fill="#1b2426" /><line x1="509.83" y1="332.65" x2="516.6" y2="332.65" stroke="#3a4e52" stroke-width="0.5" /><polygon points="493.05,334.27 501.07,334.27 501.07,335.31 493.05,335.31" fill="#0d1314" /><polygon points="493.93,332.53 501.95,332.53 501.07,334.27 493.05,334.27" fill="#1b2426" /><line x1="494.23" y1="332.78" x2="501.65" y2="332.78" stroke="#3a4e52" stroke-width="0.5" /><polygon points="565.36,335.15 570.79,335.15 570.79,336.03 565.36,336.03" fill="#0d1314" /><polygon points="565.54,333.67 570.96,333.67 570.79,335.15 565.36,335.15" fill="#1b2426" /><line x1="565.84" y1="333.92" x2="570.66" y2="333.92" stroke="#3a4e52" stroke-width="0.5" /><polygon points="553.85,335.36 559.69,335.36 559.69,336.28 553.85,336.28" fill="#0d1314" /><polygon points="554.12,333.82 559.96,333.82 559.69,335.36 553.85,335.36" fill="#1b2426" /><line x1="554.42" y1="334.07" x2="559.66" y2="334.07" stroke="#3a4e52" stroke-width="0.5" /><polygon points="541.44,335.59 547.74,335.59 547.74,336.54 541.44,336.54" fill="#0d1314" /><polygon points="541.83,333.98 548.13,333.98 547.74,335.59 541.44,335.59" fill="#1b2426" /><line x1="542.13" y1="334.23" x2="547.83" y2="334.23" stroke="#3a4e52" stroke-width="0.5" /><polygon points="528.03,335.84 534.84,335.84 534.84,336.83 528.03,336.83" fill="#0d1314" /><polygon points="528.55,334.16 535.36,334.16 534.84,335.84 528.03,335.84" fill="#1b2426" /><line x1="528.85" y1="334.41" x2="535.06" y2="334.41" stroke="#3a4e52" stroke-width="0.5" /><polygon points="513.48,336.11 520.87,336.11 520.87,337.15 513.48,337.15" fill="#0d1314" /><polygon points="514.15,334.35 521.54,334.35 520.87,336.11 513.48,336.11" fill="#1b2426" /><line x1="514.45" y1="334.6" x2="521.24" y2="334.6" stroke="#3a4e52" stroke-width="0.5" /><polygon points="497.64,336.4 505.69,336.4 505.69,337.49 497.64,337.49" fill="#0d1314" /><polygon points="498.48,334.56 506.53,334.56 505.69,336.4 497.64,336.4" fill="#1b2426" /><line x1="498.78" y1="334.81" x2="506.23" y2="334.81" stroke="#3a4e52" stroke-width="0.5" /><polygon points="558.68,337.21 564.52,337.21 564.52,338.17 558.68,338.17" fill="#0d1314" /><polygon points="558.92,335.6 564.75,335.6 564.52,337.21 558.68,337.21" fill="#1b2426" /><line x1="559.22" y1="335.85" x2="564.45" y2="335.85" stroke="#3a4e52" stroke-width="0.5" /><polygon points="546.28,337.52 552.58,337.52 552.58,338.51 546.28,338.51" fill="#0d1314" /><polygon points="546.63,335.83 552.93,335.83 552.58,337.52 546.28,337.52" fill="#1b2426" /><line x1="546.93" y1="336.08" x2="552.63" y2="336.08" stroke="#3a4e52" stroke-width="0.5" /><polygon points="532.85,337.85 539.67,337.85 539.67,338.89 532.85,338.89" fill="#0d1314" /><polygon points="533.34,336.08 540.16,336.08 539.67,337.85 532.85,337.85" fill="#1b2426" /><line x1="533.64" y1="336.33" x2="539.86" y2="336.33" stroke="#3a4e52" stroke-width="0.5" /><polygon points="518.27,338.21 525.68,338.21 525.68,339.3 518.27,339.3" fill="#0d1314" /><polygon points="518.91,336.36 526.32,336.36 525.68,338.21 518.27,338.21" fill="#1b2426" /><line x1="519.21" y1="336.61" x2="526.02" y2="336.61" stroke="#3a4e52" stroke-width="0.5" /><polygon points="502.38,338.6 510.46,338.6 510.46,339.75 502.38,339.75" fill="#0d1314" /><polygon points="503.19,336.66 511.27,336.66 510.46,338.6 502.38,338.6" fill="#1b2426" /><line x1="503.49" y1="336.91" x2="510.97" y2="336.91" stroke="#3a4e52" stroke-width="0.5" /><polygon points="551.27,339.5 557.56,339.5 557.56,340.55 551.27,340.55" fill="#0d1314" /><polygon points="551.58,337.73 557.87,337.73 557.56,339.5 551.27,339.5" fill="#1b2426" /><line x1="551.88" y1="337.98" x2="557.57" y2="337.98" stroke="#3a4e52" stroke-width="0.5" /><polygon points="537.83,339.92 544.66,339.92 544.66,341.02 537.83,341.02" fill="#0d1314" /><polygon points="538.28,338.07 545.1,338.07 544.66,339.92 537.83,339.92" fill="#1b2426" /><line x1="538.58" y1="338.32" x2="544.8" y2="338.32" stroke="#3a4e52" stroke-width="0.5" /><polygon points="523.23,340.38 530.65,340.38 530.65,341.53 523.23,341.53" fill="#0d1314" /><polygon points="523.83,338.43 531.25,338.43 530.65,340.38 523.23,340.38" fill="#1b2426" /><line x1="524.13" y1="338.68" x2="530.95" y2="338.68" stroke="#3a4e52" stroke-width="0.5" /><polygon points="507.28,340.87 515.39,340.87 515.39,342.09 507.28,342.09" fill="#0d1314" /><polygon points="508.07,338.83 516.17,338.83 515.39,340.87 507.28,340.87" fill="#1b2426" /><line x1="508.37" y1="339.08" x2="515.87" y2="339.08" stroke="#3a4e52" stroke-width="0.5" /><polygon points="542.98,342.06 549.8,342.06 549.8,343.21 542.98,343.21" fill="#0d1314" /><polygon points="543.38,340.11 550.21,340.11 549.8,342.06 542.98,342.06" fill="#1b2426" /><line x1="543.68" y1="340.36" x2="549.91" y2="340.36" stroke="#3a4e52" stroke-width="0.5" /><polygon points="528.35,342.62 535.79,342.62 535.79,343.83 528.35,343.83" fill="#0d1314" /><polygon points="528.91,340.57 536.35,340.57 535.79,342.62 528.35,342.62" fill="#1b2426" /><line x1="529.21" y1="340.82" x2="536.05" y2="340.82" stroke="#3a4e52" stroke-width="0.5" /><polygon points="528.91,340.57 536.35,340.57 535.79,342.62 528.35,342.62" fill="#ff2a1a" opacity="0.23"/><polygon points="528.35,342.62 535.79,342.62 535.79,343.83 528.35,343.83" fill="#e01810" opacity="0.21"/><polygon points="512.36,343.23 520.5,343.23 520.5,344.51 512.36,344.51" fill="#0d1314" /><polygon points="513.11,341.07 521.24,341.07 520.5,343.23 512.36,343.23" fill="#1b2426" /><line x1="513.41" y1="341.32" x2="520.94" y2="341.32" stroke="#3a4e52" stroke-width="0.5" /><polygon points="533.65,344.94 541.1,344.94 541.1,346.21 533.65,346.21" fill="#0d1314" /><polygon points="534.17,342.78 541.61,342.78 541.1,344.94 533.65,344.94" fill="#1b2426" /><line x1="534.47" y1="343.03" x2="541.31" y2="343.03" stroke="#3a4e52" stroke-width="0.5" /><polygon points="534.17,342.78 541.61,342.78 541.1,344.94 533.65,344.94" fill="#ff2a1a" opacity="0.24"/><polygon points="533.65,344.94 541.1,344.94 541.1,346.21 533.65,346.21" fill="#e01810" opacity="0.22"/><polygon points="517.63,345.67 525.78,345.67 525.78,347.02 517.63,347.02" fill="#0d1314" /><polygon points="518.33,343.39 526.49,343.39 525.78,345.67 517.63,345.67" fill="#1b2426" /><line x1="518.63" y1="343.64" x2="526.19" y2="343.64" stroke="#3a4e52" stroke-width="0.5" /><polygon points="523.08,348.2 531.26,348.2 531.26,349.62 523.08,349.62" fill="#0d1314" /><polygon points="523.74,345.8 531.92,345.8 531.26,348.2 523.08,348.2" fill="#1b2426" /><line x1="524.04" y1="346.05" x2="531.62" y2="346.05" stroke="#3a4e52" stroke-width="0.5" /><polygon points="523.74,345.8 531.92,345.8 531.26,348.2 523.08,348.2" fill="#ff2a1a" opacity="0.05"/><polygon points="523.08,348.2 531.26,348.2 531.26,349.62 523.08,349.62" fill="#e01810" opacity="0.04"/>
<rect x="519.5" y="322" width="24" height="24" fill="#f05048" opacity="0.22" filter="url(#fb1)"/><circle cx="545.5" cy="345.3" r="1.6" fill="#ff2a20" filter="url(#fb05)"/>
<polyline points="522.4,291.9 522.44,292.17 522.57,292.43 522.77,292.67 523.06,292.91 523.43,293.14 523.87,293.36 524.38,293.57 524.96,293.77 525.6,293.95 526.3,294.13 527.05,294.29 527.84,294.44 528.68,294.59 529.55,294.72 530.44,294.84 531.35,294.96 532.27,295.06 533.19,295.16 534.11,295.25 535.01,295.34 535.9,295.42 536.76,295.5 537.58,295.57 538.37,295.64 539.1,295.71 539.79,295.78 540.41,295.85 540.97,295.92 541.46,295.99 541.88,296.07 542.23,296.15 542.49,296.23 542.68,296.32 542.78,296.42 542.8,296.53 542.73,296.65 542.58,296.77 542.35,296.9 542.05,297.05 541.66,297.2 541.2,297.37 540.67,297.54 540.07,297.73 539.41,297.93 538.7,298.13 537.93,298.35 537.13,298.58 536.28,298.82 535.41,299.07 534.51,299.33 533.6,299.6 532.68,299.88 531.76,300.16 530.84,300.45 529.94,300.75 529.06,301.05 528.21,301.35 527.4,301.66 526.63,301.97 525.9,302.28 525.24,302.59 524.63,302.91 524.09,303.21 523.61,303.52 523.21,303.82 522.89,304.12 522.65,304.41 522.49,304.7 522.41,304.98 522.41,305.25 522.5,305.51 522.67,305.77 522.92,306.01 523.25,306.24 523.66,306.47 524.14,306.68 524.69,306.88 525.31,307.07 525.98,307.25 526.71,307.42 527.49,307.58 528.3,307.72 529.16,307.86 530.04,307.99 530.94,308.11 531.86,308.22 532.78,308.32 533.7,308.41 534.61,308.5 535.51,308.58 536.38,308.66 537.22,308.74 538.02,308.81 538.78,308.88 539.49,308.95 540.14,309.01 540.73,309.08 541.25,309.16 541.71,309.23 542.08,309.31 542.38,309.39 542.6,309.48 542.74,309.58 542.8,309.68 542.77,309.79 542.66,309.91 542.47,310.04 542.19,310.18 541.84,310.33 541.41,310.49 540.91,310.66 540.34,310.84 539.71,311.04 539.02,311.24 538.28,311.45 537.49,311.68 536.66,311.92 535.8,312.16 534.91,312.42 534.01,312.68 533.09,312.95 532.16,313.23 531.25,313.52 530.34,313.81 529.45,314.11 528.58,314.42 527.75,314.72 526.96,315.03 526.22,315.34 525.52,315.66 524.89,315.97 524.32,316.28 523.81,316.58 523.38,316.89 523.02,317.19 522.75,317.48 522.55,317.77 522.43,318.06 522.4,318.33 522.45,318.6 522.59,318.85 522.8,319.1 523.1,319.34 523.47,319.57 523.92,319.79 524.44,319.99 525.03,320.19 525.67,320.37 526.38,320.55 527.13,320.71 527.94,320.86 528.77,321 529.64,321.13 530.54,321.26 531.45,321.37 532.37,321.47 533.29,321.57 534.21,321.66 535.11,321.75 535.99,321.83 536.85,321.9 537.67,321.98 538.45,322.05 539.18,322.12 539.86,322.18 540.48,322.25 541.03,322.32 541.51,322.4 541.93,322.47 542.26,322.56 542.52,322.64 542.69,322.74 542.78,322.84 542.79,322.94 542.72,323.06" fill="none" stroke="#ff3a12" stroke-width="3" stroke-linejoin="round" stroke-linecap="round"/>
<polygon points="484.4,288.9 486.6,288.9 488.8,372.8 484.4,372.8" fill="#4f3224" />
<polygon points="486.6,288.9 488.8,288.9 493.9,372.8 488.8,372.8" fill="#87482a" />
<polygon points="488.8,288.9 491.7,288.9 496.8,372.8 493.9,372.8" fill="#2a2421" />
<polygon points="491.7,288.9 493.9,288.9 499.2,371.6 496.8,372.8" fill="#96522e" />
<polygon points="499,359 598,340.19 598,349.93 500.4,371.4" fill="#9c542c" />
<polygon points="500.6,360.8 503.4,360.26 503.4,370.74 500.6,371.36" fill="#241f1d" />
<polygon points="506.19,359.73 508.95,359.21 508.95,369.52 506.19,370.13" fill="#241f1d" />
<polygon points="511.71,358.69 514.43,358.17 514.43,368.31 511.71,368.91" fill="#241f1d" />
<polygon points="517.15,357.65 519.84,357.14 519.84,367.12 517.15,367.71" fill="#241f1d" />
<polygon points="522.52,356.63 525.17,356.13 525.17,365.95 522.52,366.53" fill="#241f1d" />
<polygon points="527.82,355.62 530.43,355.13 530.43,364.79 527.82,365.37" fill="#241f1d" />
<polygon points="533.05,354.63 535.63,354.14 535.63,363.65 533.05,364.22" fill="#241f1d" />
<polygon points="538.2,353.65 540.75,353.17 540.75,362.52 538.2,363.08" fill="#241f1d" />
<polygon points="543.29,352.68 545.8,352.21 545.8,361.41 543.29,361.96" fill="#241f1d" />
<polygon points="548.31,351.73 550.79,351.26 550.79,360.31 548.31,360.86" fill="#241f1d" />
<polygon points="553.26,350.79 555.71,350.33 555.71,359.23 553.26,359.77" fill="#241f1d" />
<polygon points="558.15,349.86 560.56,349.4 560.56,358.16 558.15,358.69" fill="#241f1d" />
<polygon points="562.97,348.95 565.35,348.49 565.35,357.11 562.97,357.63" fill="#241f1d" />
<polygon points="567.73,348.04 570.07,347.6 570.07,356.07 567.73,356.59" fill="#241f1d" />
<polygon points="572.42,347.15 574.73,346.71 574.73,355.05 572.42,355.56" fill="#241f1d" />
<polygon points="577.05,346.27 579.33,345.84 579.33,354.03 577.05,354.54" fill="#241f1d" />
<polygon points="581.62,345.4 583.87,344.97 583.87,353.04 581.62,353.53" fill="#241f1d" />
<polygon points="586.12,344.55 588.35,344.12 588.35,352.05 586.12,352.54" fill="#241f1d" />
<polygon points="590.57,343.7 592.76,343.29 592.76,351.08 590.57,351.56" fill="#241f1d" />
<polygon points="594.95,342.87 597.12,342.46 597.12,350.12 594.95,350.6" fill="#241f1d" />
<polygon points="499,359 598,340.19 598,342.09 499,361.1" fill="#a85e34" />
<rect x="523.5" y="364" width="24" height="41" fill="url(#gfRefl)" filter="url(#fb1)"/>
<rect x="597" y="286.9" width="39.2" height="92" fill="url(#gfBeamR)" filter="url(#fb05)"/>
<rect x="598" y="376" width="37" height="30" fill="#f8e8e6" opacity="0.55" filter="url(#fb2)"/>
<polygon points="617.58,351.31 626.24,351.31 626.24,353.14 617.58,353.14" fill="#0d1314" /><polygon points="617.76,349.09 626.42,349.09 626.24,351.31 617.58,351.31" fill="#232d2f" /><line x1="618.06" y1="349.34" x2="626.12" y2="349.34" stroke="#41565a" stroke-width="0.5" /><polygon points="607.47,354.03 616.62,354.03 616.62,356 607.47,356" fill="#0d1314" /><polygon points="607.75,351.62 616.9,351.62 616.62,354.03 607.47,354.03" fill="#232d2f" /><line x1="608.05" y1="351.87" x2="616.6" y2="351.87" stroke="#41565a" stroke-width="0.5" /><polygon points="625.68,354.38 634.5,354.38 634.5,356.33 625.68,356.33" fill="#0d1314" /><polygon points="625.8,352.01 634.62,352.01 634.5,354.38 625.68,354.38" fill="#232d2f" /><line x1="626.1" y1="352.26" x2="634.32" y2="352.26" stroke="#41565a" stroke-width="0.5" /><polygon points="596.37,357.01 606.06,357.01 606.06,359.16 596.37,359.16" fill="#0d1314" /><polygon points="596.76,354.4 606.46,354.4 606.06,357.01 596.37,357.01" fill="#232d2f" /><line x1="597.06" y1="354.65" x2="606.16" y2="354.65" stroke="#41565a" stroke-width="0.5" /><polygon points="615.67,357.33 625,357.33 625,359.44 615.67,359.44" fill="#0d1314" /><polygon points="615.88,354.75 625.21,354.75 625,357.33 615.67,357.33" fill="#232d2f" /><line x1="616.18" y1="355" x2="624.91" y2="355" stroke="#41565a" stroke-width="0.5" /><polygon points="634.24,357.63 643.23,357.63 643.23,359.71 634.24,359.71" fill="#0d1314" /><polygon points="634.28,355.09 643.26,355.09 643.23,357.63 634.24,357.63" fill="#232d2f" /><line x1="634.58" y1="355.34" x2="642.96" y2="355.34" stroke="#41565a" stroke-width="0.5" /><polygon points="584.13,360.31 594.44,360.31 594.44,362.65 584.13,362.65" fill="#0d1314" /><polygon points="584.67,357.45 594.98,357.45 594.44,360.31 584.13,360.31" fill="#232d2f" /><line x1="584.97" y1="357.7" x2="594.68" y2="357.7" stroke="#41565a" stroke-width="0.5" /><polygon points="604.65,360.57 614.55,360.57 614.55,362.87 604.65,362.87" fill="#0d1314" /><polygon points="604.97,357.76 614.88,357.76 614.55,360.57 604.65,360.57" fill="#232d2f" /><line x1="605.27" y1="358.01" x2="614.58" y2="358.01" stroke="#41565a" stroke-width="0.5" /><polygon points="624.35,360.82 633.87,360.82 633.87,363.08 624.35,363.08" fill="#0d1314" /><polygon points="624.49,358.06 634,358.06 633.87,360.82 624.35,360.82" fill="#232d2f" /><line x1="624.79" y1="358.31" x2="633.7" y2="358.31" stroke="#41565a" stroke-width="0.5" /><polygon points="643.3,361.06 652.45,361.06 652.45,363.29 643.3,363.29" fill="#0d1314" /><polygon points="643.25,358.34 652.4,358.34 652.45,361.06 643.3,361.06" fill="#232d2f" /><line x1="643.55" y1="358.59" x2="652.1" y2="358.59" stroke="#41565a" stroke-width="0.5" /><polygon points="570.56,363.96 581.57,363.96 581.57,366.52 570.56,366.52" fill="#0d1314" /><polygon points="571.27,360.82 582.28,360.82 581.57,363.96 570.56,363.96" fill="#232d2f" /><line x1="571.57" y1="361.07" x2="581.98" y2="361.07" stroke="#41565a" stroke-width="0.5" /><polygon points="592.46,364.16 603.01,364.16 603.01,366.67 592.46,366.67" fill="#0d1314" /><polygon points="592.93,361.08 603.47,361.08 603.01,364.16 592.46,364.16" fill="#232d2f" /><line x1="593.23" y1="361.33" x2="603.17" y2="361.33" stroke="#41565a" stroke-width="0.5" /><polygon points="613.44,364.34 623.56,364.34 623.56,366.82 613.44,366.82" fill="#0d1314" /><polygon points="613.69,361.32 623.8,361.32 623.56,364.34 613.44,364.34" fill="#232d2f" /><line x1="613.99" y1="361.57" x2="623.5" y2="361.57" stroke="#41565a" stroke-width="0.5" /><polygon points="633.57,364.53 643.28,364.53 643.28,366.95 633.57,366.95" fill="#0d1314" /><polygon points="633.61,361.56 643.32,361.56 643.28,364.53 633.57,364.53" fill="#232d2f" /><line x1="633.91" y1="361.81" x2="643.02" y2="361.81" stroke="#41565a" stroke-width="0.5" /><polygon points="652.89,364.7 662.22,364.7 662.22,367.08 652.89,367.08" fill="#0d1314" /><polygon points="652.74,361.79 662.07,361.79 662.22,364.7 652.89,364.7" fill="#232d2f" /><line x1="653.04" y1="362.04" x2="661.77" y2="362.04" stroke="#41565a" stroke-width="0.5" /><polygon points="555.44,368.03 567.24,368.03 567.24,370.86 555.44,370.86" fill="#0d1314" /><polygon points="556.36,364.57 568.16,364.57 567.24,368.03 555.44,368.03" fill="#232d2f" /><line x1="556.66" y1="364.82" x2="567.86" y2="364.82" stroke="#41565a" stroke-width="0.5" /><polygon points="578.91,368.15 590.18,368.15 590.18,370.92 578.91,370.92" fill="#0d1314" /><polygon points="579.54,364.76 590.82,364.76 590.18,368.15 578.91,368.15" fill="#232d2f" /><line x1="579.84" y1="365.01" x2="590.52" y2="365.01" stroke="#41565a" stroke-width="0.5" /><polygon points="601.33,368.26 612.13,368.26 612.13,370.97 601.33,370.97" fill="#0d1314" /><polygon points="601.72,364.94 612.51,364.94 612.13,368.26 601.33,368.26" fill="#232d2f" /><line x1="602.02" y1="365.19" x2="612.21" y2="365.19" stroke="#41565a" stroke-width="0.5" /><polygon points="622.8,368.36 633.14,368.36 633.14,371.02 622.8,371.02" fill="#0d1314" /><polygon points="622.95,365.11 633.29,365.11 633.14,368.36 622.8,368.36" fill="#232d2f" /><line x1="623.25" y1="365.36" x2="632.99" y2="365.36" stroke="#41565a" stroke-width="0.5" /><polygon points="643.36,368.47 653.27,368.47 653.27,371.07 643.36,371.07" fill="#0d1314" /><polygon points="643.3,365.28 653.21,365.28 653.27,368.47 643.36,368.47" fill="#232d2f" /><line x1="643.6" y1="365.53" x2="652.91" y2="365.53" stroke="#41565a" stroke-width="0.5" /><polygon points="663.07,368.56 672.58,368.56 672.58,371.12 663.07,371.12" fill="#0d1314" /><polygon points="662.82,365.44 672.33,365.44 672.58,368.56 663.07,368.56" fill="#232d2f" /><line x1="663.12" y1="365.69" x2="672.03" y2="365.69" stroke="#41565a" stroke-width="0.5" /><polygon points="563.75,372.61 575.86,372.61 575.86,375.68 563.75,375.68" fill="#0d1314" /><polygon points="564.6,368.86 576.71,368.86 575.86,372.61 563.75,372.61" fill="#232d2f" /><line x1="564.9" y1="369.11" x2="576.41" y2="369.11" stroke="#41565a" stroke-width="0.5" /><polygon points="587.83,372.63 599.39,372.63 599.39,375.63 587.83,375.63" fill="#0d1314" /><polygon points="588.39,368.96 599.94,368.96 599.39,372.63 587.83,372.63" fill="#232d2f" /><line x1="588.69" y1="369.21" x2="599.64" y2="369.21" stroke="#41565a" stroke-width="0.5" /><polygon points="610.81,372.64 621.86,372.64 621.86,375.57 610.81,375.57" fill="#0d1314" /><polygon points="611.1,369.05 622.15,369.05 621.86,372.64 610.81,372.64" fill="#232d2f" /><line x1="611.4" y1="369.3" x2="621.85" y2="369.3" stroke="#41565a" stroke-width="0.5" /><polygon points="632.78,372.65 643.34,372.65 643.34,375.52 632.78,375.52" fill="#0d1314" /><polygon points="632.83,369.14 643.39,369.14 643.34,372.65 632.78,372.65" fill="#232d2f" /><line x1="633.13" y1="369.39" x2="643.09" y2="369.39" stroke="#41565a" stroke-width="0.5" /><polygon points="653.79,372.66 663.9,372.66 663.9,375.47 653.79,375.47" fill="#0d1314" /><polygon points="653.61,369.23 663.73,369.23 663.9,372.66 653.79,372.66" fill="#232d2f" /><line x1="653.91" y1="369.48" x2="663.43" y2="369.48" stroke="#41565a" stroke-width="0.5" /><polygon points="643.44,377.23 654.24,377.23 654.24,380.34 643.44,380.34" fill="#0d1314" /><polygon points="643.37,373.44 654.17,373.44 654.24,377.23 643.44,377.23" fill="#232d2f" /><line x1="643.67" y1="373.69" x2="653.87" y2="373.69" stroke="#41565a" stroke-width="0.5" /><polygon points="620.95,377.33 632.26,377.33 632.26,380.51 620.95,380.51" fill="#0d1314" /><polygon points="621.14,373.45 632.45,373.45 632.26,377.33 620.95,377.33" fill="#232d2f" /><line x1="621.44" y1="373.7" x2="632.15" y2="373.7" stroke="#41565a" stroke-width="0.5" /><polygon points="597.39,377.43 609.24,377.43 609.24,380.68 597.39,380.68" fill="#0d1314" /><polygon points="597.85,373.45 609.71,373.45 609.24,377.43 597.39,377.43" fill="#232d2f" /><line x1="598.15" y1="373.7" x2="609.41" y2="373.7" stroke="#41565a" stroke-width="0.5" /><polygon points="572.66,377.53 585.1,377.53 585.1,380.87 572.66,380.87" fill="#0d1314" /><polygon points="573.43,373.46 585.87,373.46 585.1,377.53 572.66,377.53" fill="#232d2f" /><line x1="573.73" y1="373.71" x2="585.57" y2="373.71" stroke="#41565a" stroke-width="0.5" /><polygon points="631.83,382.36 643.41,382.36 643.41,385.81 631.83,385.81" fill="#0d1314" /><polygon points="631.89,378.15 643.47,378.15 643.41,382.36 631.83,382.36" fill="#232d2f" /><line x1="632.19" y1="378.4" x2="643.17" y2="378.4" stroke="#41565a" stroke-width="0.5" /><polygon points="607.66,382.59 619.82,382.59 619.82,386.13 607.66,386.13" fill="#0d1314" /><polygon points="608.02,378.27 620.18,378.27 619.82,382.59 607.66,382.59" fill="#232d2f" /><line x1="608.32" y1="378.52" x2="619.88" y2="378.52" stroke="#41565a" stroke-width="0.5" /><polygon points="608.02,378.27 620.18,378.27 619.82,382.59 607.66,382.59" fill="#ff2a1a" opacity="0.07"/><polygon points="607.66,382.59 619.82,382.59 619.82,386.13 607.66,386.13" fill="#e01810" opacity="0.06"/><polygon points="582.25,382.84 595.04,382.84 595.04,386.47 582.25,386.47" fill="#0d1314" /><polygon points="582.93,378.39 595.72,378.39 595.04,382.84 582.25,382.84" fill="#232d2f" /><line x1="583.23" y1="378.64" x2="595.42" y2="378.64" stroke="#41565a" stroke-width="0.5" /><polygon points="618.73,388.16 631.21,388.16 631.21,392.02 618.73,392.02" fill="#0d1314" /><polygon points="618.95,383.44 631.44,383.44 631.21,388.16 618.73,388.16" fill="#232d2f" /><line x1="619.25" y1="383.69" x2="631.14" y2="383.69" stroke="#41565a" stroke-width="0.5" /><polygon points="618.95,383.44 631.44,383.44 631.21,388.16 618.73,388.16" fill="#ff2a1a" opacity="0.02"/><polygon points="618.73,388.16 631.21,388.16 631.21,392.02 618.73,392.02" fill="#e01810" opacity="0.02"/><polygon points="592.61,388.56 605.76,388.56 605.76,392.53 592.61,392.53" fill="#0d1314" /><polygon points="593.17,383.7 606.32,383.7 605.76,388.56 592.61,388.56" fill="#232d2f" /><line x1="593.47" y1="383.95" x2="606.02" y2="383.95" stroke="#41565a" stroke-width="0.5" /><polygon points="593.17,383.7 606.32,383.7 605.76,388.56 592.61,388.56" fill="#ff2a1a" opacity="0.16"/><polygon points="592.61,388.56 605.76,388.56 605.76,392.53 592.61,392.53" fill="#e01810" opacity="0.15"/><polygon points="603.82,394.76 617.35,394.76 617.35,399.11 603.82,399.11" fill="#0d1314" /><polygon points="604.25,389.44 617.78,389.44 617.35,394.76 603.82,394.76" fill="#232d2f" /><line x1="604.55" y1="389.69" x2="617.48" y2="389.69" stroke="#41565a" stroke-width="0.5" /><polygon points="604.25,389.44 617.78,389.44 617.35,394.76 603.82,394.76" fill="#ff2a1a" opacity="0.24"/><polygon points="603.82,394.76 617.35,394.76 617.35,399.11 603.82,399.11" fill="#e01810" opacity="0.22"/>
<rect x="597" y="340" width="39.2" height="36" fill="url(#gfBeamFade)" filter="url(#fb05)"/>
<ellipse cx="616" cy="379" rx="19" ry="7" fill="#ffb8a8" opacity="0.5" filter="url(#fb1)"/>
<polyline points="630.03,263.06 630.37,263.83 630.6,264.6 630.69,265.37 630.67,265.93 630.52,266.38 630.25,266.83 629.85,267.26 629.34,267.68 628.72,268.09 627.99,268.48 627.15,268.85 626.23,269.21 625.21,269.55 624.12,269.87 622.95,270.17 621.73,270.45 620.45,270.71 619.14,270.95 617.8,271.17 616.44,271.37 615.07,271.56 613.71,271.72 612.37,271.87 611.05,272.01 609.77,272.12 608.54,272.23 607.37,272.32 606.27,272.4 605.25,272.47 604.32,272.53 603.47,272.59 602.74,272.64 602.1,272.69 601.58,272.74 601.18,272.79 600.9,272.84 600.74,272.9 600.7,272.9 600.79,272.67 601,272.45 601.34,272.25 601.79,272.07 602.36,271.92 603.04,271.79 603.82,271.69 604.71,271.63 605.68,271.6 606.74,271.61 607.87,271.66 609.06,271.76 610.31,271.9 611.61,272.08 612.94,272.31 614.29,272.59 615.66,272.91 617.02,273.28 618.37,273.7 619.71,274.15 621,274.65 622.26,275.19 623.46,275.77 624.59,276.38 625.66,277.02 626.63,277.7 627.52,278.39 628.31,279.12 629,279.85 629.58,280.61 630.04,281.37 630.38,282.14 630.6,282.92 630.7,283.69 630.67,284.23 630.52,284.69 630.24,285.13 629.85,285.57 629.33,285.99 628.71,286.39 627.98,286.78 627.14,287.16 626.21,287.51 625.19,287.85 624.1,288.17 622.93,288.47 621.71,288.75 620.43,289.01 619.12,289.25 617.78,289.47 616.42,289.68 615.05,289.86 613.69,290.03 612.35,290.17 611.03,290.31 609.75,290.43 608.52,290.53 607.36,290.62 606.26,290.7 605.24,290.77 604.3,290.84 603.46,290.89 602.72,290.94 602.09,290.99 601.58,291.04 601.17,291.09 600.89,291.15 600.74,291.2 600.7,291.2 600.79,290.97 601.01,290.75 601.34,290.55 601.8,290.37 602.37,290.22 603.05,290.09 603.84,289.99 604.72,289.93 605.7,289.9 606.75,289.91 607.89,289.97 609.08,290.06 610.34,290.2 611.63,290.39 612.96,290.62 614.31,290.9 615.68,291.22 617.04,291.59 618.4,292 619.73,292.46 621.02,292.96 622.28,293.5 623.48,294.08 624.61,294.69 625.67,295.33 626.65,296.01 627.54,296.71 628.33,297.43 629.01,298.17 629.58,298.92 630.04,299.69 630.38,300.46 630.6,301.23 630.7,302 630.67,302.54 630.51,303 630.24,303.44 629.84,303.87 629.32,304.29 628.7,304.7 627.96,305.09 627.13,305.46 626.19,305.82 625.18,306.16 624.08,306.48 622.91,306.78 621.69,307.06 620.41,307.32 619.1,307.56 617.75,307.78 616.39,307.98 615.03,308.16 613.67,308.33 612.32,308.48 611.01,308.61 609.73,308.73 608.51,308.83 607.34,308.92 606.24,309 605.22,309.07 604.29,309.14 603.45,309.19 602.71,309.25 602.08,309.3 601.57,309.34 601.17,309.39 600.89,309.45 600.74,309.5 600.7,309.49 600.8,309.26 601.01,309.05 601.35,308.85 601.81,308.67 602.38,308.51 603.06,308.39 603.85,308.29 604.74,308.23 605.71,308.2 606.77,308.21 607.9,308.27 609.1,308.36 610.36,308.5 611.65,308.69 612.98,308.92 614.34,309.2 615.7,309.53 617.06,309.89 618.42,310.31 619.75,310.77 621.04,311.27 622.3,311.81 623.5,312.39 624.63,313 625.69,313.64 626.66,314.32 627.55,315.02 628.34,315.74 629.02,316.48 629.59,317.23 630.05,318 630.39,318.77 630.6,319.54 630.7,320.31 630.66,320.85 630.51,321.3 630.23,321.75 629.83,322.18 629.32,322.6 628.69,323.01 627.95,323.4 627.11,323.77 626.18,324.13 625.16,324.46 624.06,324.78 622.89,325.08 621.67,325.36 620.39,325.62 619.08,325.86 617.73,326.08 616.37,326.28 615.01,326.47 613.65,326.63 612.3,326.78 610.99,326.91 609.71,327.03 608.49,327.13 607.32,327.22 606.22,327.3 605.2,327.37 604.27,327.44 603.44,327.49 602.7,327.55 602.08,327.6 601.56,327.64 601.16,327.69 600.89,327.75 600.73,327.8 600.7,327.79 600.8,327.56 601.02,327.34 601.36,327.14 601.82,326.97 602.39,326.81 603.07,326.68 603.86,326.59 604.75,326.53 605.73,326.5 606.79,326.51 607.92,326.57 609.12,326.67 610.38,326.81 611.67,326.99 613,327.23 614.36,327.51 615.72,327.83 617.09,328.2 618.44,328.62 619.77,329.08 621.07,329.58 622.32,330.12 623.51,330.7 624.65,331.31 625.7,331.95 626.68,332.63 627.56,333.33 628.35,334.05 629.03,334.79 629.6,335.54 630.06,336.31 630.39,337.08 630.61,337.85 630.7,338.62 630.66,339.16 630.51,339.61 630.23,340.06 629.82,340.49 629.31,340.91 628.68,341.31 627.94,341.7 627.1,342.08 626.16,342.43 625.14,342.77 624.04,343.09 622.87,343.38 621.65,343.66 620.37,343.92 619.05,344.16 617.71,344.38 616.35,344.59 614.98,344.77 613.62,344.93 612.28,345.08 610.97,345.21 609.69,345.33 608.47,345.43 607.3,345.52 606.21,345.6 605.19,345.68 604.26,345.74 603.42,345.79 602.69,345.85 602.07,345.9 601.55,345.95 601.16,346 600.88,346.05 600.73,346.1 600.7,346.08 600.8,345.86 601.02,345.64 601.36,345.44 601.82,345.26 602.4,345.11 603.09,344.98 603.88,344.89 604.77,344.82" fill="none" stroke="#ff6a3c" stroke-width="3.4" stroke-linejoin="round" stroke-linecap="round" opacity="0.7"/>
<polyline points="620.43,237.82 621.72,238.35 622.96,238.92 624.13,239.52 625.24,240.16 626.26,240.83 627.2,241.53 628.03,242.25 628.77,242.99 629.39,243.74 629.89,244.51 630.28,245.29 630.54,246.07 630.68,246.85 630.69,247.5 630.57,247.96 630.33,248.41 629.96,248.86 629.47,249.28 628.87,249.7 628.15,250.1 627.33,250.48 626.41,250.84 625.4,251.19 624.31,251.51 623.14,251.82 621.91,252.11 620.63,252.37 619.31,252.62 617.95,252.85 616.58,253.05 615.2,253.24 613.82,253.41 612.46,253.56 611.13,253.7 609.83,253.82 608.59,253.92 607.41,254.02 606.29,254.1 605.26,254.17 604.31,254.23 603.46,254.29 602.72,254.35 602.08,254.4 601.56,254.44 601.16,254.5 600.88,254.55 600.73,254.61 600.71,254.58 600.81,254.35" fill="none" stroke="#ff4208" stroke-width="5.6" stroke-linejoin="round" stroke-linecap="round"/>
<polyline points="620.43,256.12 621.72,256.65 622.96,257.22 624.13,257.82 625.24,258.46 626.26,259.13 627.2,259.83 628.03,260.55 628.77,261.29 629.39,262.04 629.89,262.81 630.28,263.59 630.54,264.37 630.68,265.15 630.69,265.8 630.57,266.26 630.33,266.71 629.96,267.16 629.47,267.58 628.87,268 628.15,268.4 627.33,268.78 626.41,269.14 625.4,269.49 624.31,269.81 623.14,270.12 621.91,270.41 620.63,270.67 619.31,270.92 617.95,271.15 616.58,271.35 615.2,271.54 613.82,271.71 612.46,271.86 611.13,272 609.83,272.12 608.59,272.22 607.41,272.32 606.29,272.4 605.26,272.47 604.31,272.53 603.46,272.59 602.72,272.65 602.08,272.7 601.56,272.74 601.16,272.8 600.88,272.85 600.73,272.91 600.71,272.88 600.81,272.65" fill="none" stroke="#ff4208" stroke-width="5.6" stroke-linejoin="round" stroke-linecap="round"/>
<polyline points="620.43,274.42 621.72,274.95 622.96,275.52 624.13,276.12 625.24,276.76 626.26,277.43 627.2,278.13 628.03,278.85 628.77,279.59 629.39,280.34 629.89,281.11 630.28,281.89 630.54,282.67 630.68,283.45 630.69,284.1 630.57,284.56 630.33,285.01 629.96,285.46 629.47,285.88 628.87,286.3 628.15,286.7 627.33,287.08 626.41,287.44 625.4,287.79 624.31,288.11 623.14,288.42 621.91,288.71 620.63,288.97 619.31,289.22 617.95,289.45 616.58,289.65 615.2,289.84 613.82,290.01 612.46,290.16 611.13,290.3 609.83,290.42 608.59,290.52 607.41,290.62 606.29,290.7 605.26,290.77 604.31,290.83 603.46,290.89 602.72,290.95 602.08,291 601.56,291.04 601.16,291.1 600.88,291.15 600.73,291.21 600.71,291.18 600.81,290.95" fill="none" stroke="#ff4208" stroke-width="5.6" stroke-linejoin="round" stroke-linecap="round"/>
<polyline points="620.43,292.72 621.72,293.25 622.96,293.82 624.13,294.42 625.24,295.06 626.26,295.73 627.2,296.43 628.03,297.15 628.77,297.89 629.39,298.64 629.89,299.41 630.28,300.19 630.54,300.97 630.68,301.75 630.69,302.4 630.57,302.86 630.33,303.31 629.96,303.76 629.47,304.18 628.87,304.6 628.15,305 627.33,305.38 626.41,305.74 625.4,306.09 624.31,306.41 623.14,306.72 621.91,307.01 620.63,307.27 619.31,307.52 617.95,307.75 616.58,307.95 615.2,308.14 613.82,308.31 612.46,308.46 611.13,308.6 609.83,308.72 608.59,308.82 607.41,308.92 606.29,309 605.26,309.07 604.31,309.13 603.46,309.19 602.72,309.25 602.08,309.3 601.56,309.34 601.16,309.4 600.88,309.45 600.73,309.51 600.71,309.48 600.81,309.25" fill="none" stroke="#ff4208" stroke-width="5.6" stroke-linejoin="round" stroke-linecap="round"/>
<polyline points="620.43,311.02 621.72,311.55 622.96,312.12 624.13,312.72 625.24,313.36 626.26,314.03 627.2,314.73 628.03,315.45 628.77,316.19 629.39,316.94 629.89,317.71 630.28,318.49 630.54,319.27 630.68,320.05 630.69,320.7 630.57,321.16 630.33,321.61 629.96,322.06 629.47,322.48 628.87,322.9 628.15,323.3 627.33,323.68 626.41,324.04 625.4,324.39 624.31,324.71 623.14,325.02 621.91,325.31 620.63,325.57 619.31,325.82 617.95,326.05 616.58,326.25 615.2,326.44 613.82,326.61 612.46,326.76 611.13,326.9 609.83,327.02 608.59,327.12 607.41,327.22 606.29,327.3 605.26,327.37 604.31,327.43 603.46,327.49 602.72,327.55 602.08,327.6 601.56,327.64 601.16,327.7 600.88,327.75 600.73,327.81 600.71,327.78 600.81,327.55" fill="none" stroke="#ff4208" stroke-width="5.6" stroke-linejoin="round" stroke-linecap="round"/>
<polyline points="620.43,329.32 621.72,329.85 622.96,330.42 624.13,331.02 625.24,331.66 626.26,332.33 627.2,333.03 628.03,333.75 628.77,334.49 629.39,335.24 629.89,336.01 630.28,336.79 630.54,337.57 630.68,338.35 630.69,339 630.57,339.46 630.33,339.91 629.96,340.36 629.47,340.78 628.87,341.2 628.15,341.6 627.33,341.98 626.41,342.34 625.4,342.69 624.31,343.01 623.14,343.32 621.91,343.61 620.63,343.87 619.31,344.12 617.95,344.35 616.58,344.55 615.2,344.74 613.82,344.91 612.46,345.06 611.13,345.2 609.83,345.32 608.59,345.42 607.41,345.52 606.29,345.6 605.26,345.67 604.31,345.73 603.46,345.79 602.72,345.85 602.08,345.9 601.56,345.94 601.16,346 600.88,346.05 600.73,346.11 600.71,346.08 600.81,345.85" fill="none" stroke="#ff4208" stroke-width="5.6" stroke-linejoin="round" stroke-linecap="round"/>
<polyline points="630.5,347.5 631.6,352 630.5,357.5 627.5,361.5 624.5,363.2" fill="none" stroke="#ff5a30" stroke-width="3.6" stroke-linejoin="round" stroke-linecap="round" opacity="0.8" filter="url(#fb05)"/>
</g>
</g>
<line x1="484.9" y1="481.5" x2="652.2" y2="481.5" stroke="#9a9a9a" stroke-width="0.9" stroke-dasharray="3.2 2.4"/>
<clipPath id="clipF"><rect x="484.9" y="422.8" width="167.3" height="117.3"/></clipPath><g clip-path="url(#clipF)">
<polyline points="484.9,480.33 485.32,480.62 485.74,480.9 486.16,481.15 486.58,481.35 487,481.51 487.42,481.63 487.83,481.76 488.25,481.87 488.67,481.96 489.09,482.03 489.51,482.07 489.93,482.09 490.35,482.02 490.77,481.87 491.19,481.68 491.61,481.46 492.03,481.24 492.45,481.06 492.86,480.94 493.28,480.91 493.7,480.93 494.12,480.98 494.54,481.04 494.96,481.12 495.38,481.21 495.8,481.31 496.22,481.42 496.64,481.55 497.06,481.78 497.48,482.09 497.89,482.44 498.31,482.78 498.73,483.06 499.15,483.23 499.57,483.26 499.99,483.26 500.41,483.26 500.83,483.26 501.25,483.26 501.67,483.26 502.09,483.26 502.51,483.23 502.93,483.04 503.34,482.71 503.76,482.28 504.18,481.79 504.6,481.3 505.02,480.83 505.44,480.45 505.86,480.14 506.28,479.82 506.7,479.52 507.12,479.29 507.54,479.16 507.96,479.17 508.37,479.25 508.79,479.39 509.21,479.58 509.63,479.79 510.05,480.03 510.47,480.27 510.89,480.57 511.31,481.04 511.73,481.57 512.15,482.09 512.57,482.48 512.99,482.67 513.4,482.66 513.82,482.63 514.24,482.57 514.66,482.49 515.08,482.38 515.5,482.25 515.92,482.1 516.34,481.58 516.76,480.47 517.18,479.08 517.6,477.75 518.02,476.81 518.44,476.19 518.85,475.61 519.27,475.2 519.69,475.05 520.11,475.19 520.53,475.53 520.95,476.01 521.37,476.53 521.79,477.03 522.21,477.43 522.63,477.76 523.05,478.07 523.47,478.37 523.88,478.65 524.3,478.93 524.72,479.21 525.14,479.49 525.56,479.78 525.98,480.09 526.4,480.41 526.82,480.77 527.24,481.17 527.66,481.6 528.08,482.04 528.5,482.46 528.91,482.87 529.33,483.22 529.75,483.52 530.17,483.75 530.59,483.89 531.01,484 531.43,484.11 531.85,484.21 532.27,484.29 532.69,484.36 533.11,484.4 533.53,484.43 533.94,484.42 534.36,484.31 534.78,484.11 535.2,483.84 535.62,483.53 536.04,483.18 536.46,482.83 536.88,482.46 537.3,481.98 537.72,481.41 538.14,480.81 538.56,480.22 538.98,479.69 539.39,479.27 539.81,478.97 540.23,478.69 540.65,478.44 541.07,478.22 541.49,478.06 541.91,477.99 542.33,478.04 542.75,478.29 543.17,478.68 543.59,479.15 544.01,479.63 544.42,480.15 544.84,480.81 545.26,481.57 545.68,482.37 546.1,483.14 546.52,483.83 546.94,484.37 547.36,484.79 547.78,485.17 548.2,485.54 548.62,485.87 549.04,486.19 549.45,486.47 549.87,486.73 550.29,486.97 550.71,487.18 551.13,487.36 551.55,487.53 551.97,487.68 552.39,487.82 552.81,487.95 553.23,488.07 553.65,488.18 554.07,488.28 554.49,488.38 554.9,488.46 555.32,488.55 555.74,488.62 556.16,488.67 556.58,488.72 557,488.77 557.42,488.81 557.84,488.86 558.26,488.91 558.68,488.97 559.1,489.05 559.52,489.15 559.93,489.38 560.35,489.69 560.77,490.01 561.19,490.24 561.61,490.29 562.03,490.23 562.45,490.12 562.87,489.97 563.29,489.81 563.71,489.66 564.13,489.5 564.55,489.31 564.96,489.1 565.38,488.89 565.8,488.68 566.22,488.48 566.64,488.3 567.06,488.13 567.48,488 567.9,487.91 568.32,487.82 568.74,487.74 569.16,487.65 569.58,487.58 570,487.51 570.41,487.46 570.83,487.41 571.25,487.38 571.67,487.37 572.09,487.37 572.51,487.41 572.93,487.47 573.35,487.56 573.77,487.67 574.19,487.81 574.61,487.96 575.03,488.12 575.44,488.3 575.86,488.49 576.28,488.7 576.7,488.98 577.12,489.33 577.54,489.73 577.96,490.2 578.38,490.71 578.8,491.27 579.22,491.86 579.64,492.48 580.06,493.13 580.47,493.84 580.89,494.71 581.31,495.69 581.73,496.77 582.15,497.91 582.57,499.1 582.99,500.31 583.41,501.5 583.83,502.66 584.25,503.76 584.67,504.85 585.09,506 585.51,507.17 585.92,508.33 586.34,509.43 586.76,510.44 587.18,511.33 587.6,512.04 588.02,512.7 588.44,513.33 588.86,513.87 589.28,514.23 589.7,514.34 590.12,514.31 590.54,514.22 590.95,514.08 591.37,513.92 591.79,513.71 592.21,513.18 592.63,512.28 593.05,511.1 593.47,509.76 593.89,508.36 594.31,507.01 594.73,505.81 595.15,504.6 595.57,503.33 595.98,502.06 596.4,500.81 596.82,499.62 597.24,498.54 597.66,497.59 598.08,496.69 598.5,495.83 598.92,495.02 599.34,494.25 599.76,493.54 600.18,492.9 600.6,492.33 601.02,491.83 601.43,491.37 601.85,490.94 602.27,490.54 602.69,490.16 603.11,489.81 603.53,489.48 603.95,489.17 604.37,488.89 604.79,488.64 605.21,488.4 605.63,488.18 606.05,487.97 606.46,487.77 606.88,487.58 607.3,487.4 607.72,487.24 608.14,487.09 608.56,486.95 608.98,486.81 609.4,486.69 609.82,486.57 610.24,486.46 610.66,486.35 611.08,486.25 611.49,486.15 611.91,486.05 612.33,485.96 612.75,485.87 613.17,485.78 613.59,485.7 614.01,485.62 614.43,485.54 614.85,485.46 615.27,485.39 615.69,485.31 616.11,485.24 616.53,485.16 616.94,485.09 617.36,485.02 617.78,484.95 618.2,484.88 618.62,484.82 619.04,484.75 619.46,484.69 619.88,484.63 620.3,484.57 620.72,484.51 621.14,484.46 621.56,484.4 621.97,484.34 622.39,484.29 622.81,484.23 623.23,484.18 623.65,484.12 624.07,484.06 624.49,484.01 624.91,483.95 625.33,483.89 625.75,483.83 626.17,483.78 626.59,483.72 627,483.66 627.42,483.61 627.84,483.55 628.26,483.5 628.68,483.44 629.1,483.39 629.52,483.33 629.94,483.27 630.36,483.22 630.78,483.16 631.2,483.1 631.62,483.04 632.03,482.98 632.45,482.92 632.87,482.85 633.29,482.78 633.71,482.71 634.13,482.64 634.55,482.57 634.97,482.5 635.39,482.43 635.81,482.35 636.23,482.27 636.65,482.18 637.07,482.08 637.48,481.97 637.9,481.85 638.32,481.71 638.74,481.54 639.16,481.34 639.58,481.1 640,480.84 640.42,480.54 640.84,480.22 641.26,479.86 641.68,479.43 642.1,478.83 642.51,478.1 642.93,477.31 643.35,476.51 643.77,475.78 644.19,475.17 644.61,474.65 645.03,474.16 645.45,473.88 645.87,474 646.29,474.41 646.71,474.98 647.13,475.56 647.54,476.11 647.96,476.73 648.38,477.4 648.8,478.05 649.22,478.64 649.64,479.12 650.06,479.51 650.48,479.88 650.9,480.21 651.32,480.49 651.74,480.73 652.16,480.91" fill="none" stroke="#111" stroke-width="1.35" stroke-linejoin="round" />
<polyline points="484.9,478.57 485.32,478.45 485.74,478.33 486.16,478.21 486.58,478.09 487,477.97 487.42,477.85 487.83,477.74 488.25,477.62 488.67,477.5 489.09,477.38 489.51,477.26 489.93,477.15 490.35,477.04 490.77,476.93 491.19,476.82 491.61,476.7 492.03,476.58 492.45,476.46 492.86,476.33 493.28,476.19 493.7,476.03 494.12,475.87 494.54,475.7 494.96,475.51 495.38,475.33 495.8,475.14 496.22,474.95 496.64,474.76 497.06,474.58 497.48,474.4 497.89,474.22 498.31,474.04 498.73,473.86 499.15,473.68 499.57,473.51 499.99,473.33 500.41,473.15 500.83,472.97 501.25,472.79 501.67,472.61 502.09,472.43 502.51,472.24 502.93,472.05 503.34,471.86 503.76,471.68 504.18,471.49 504.6,471.32 505.02,471.15 505.44,471 505.86,470.85 506.28,470.7 506.7,470.54 507.12,470.38 507.54,470.23 507.96,470.09 508.37,469.97 508.79,469.87 509.21,469.8 509.63,469.77 510.05,469.77 510.47,469.8 510.89,469.83 511.31,469.88 511.73,469.94 512.15,470.01 512.57,470.09 512.99,470.17 513.4,470.26 513.82,470.34 514.24,470.46 514.66,470.62 515.08,470.81 515.5,471.03 515.92,471.27 516.34,471.5 516.76,471.71 517.18,471.89 517.6,472.03 518.02,472.12 518.44,472.17 518.85,472.21 519.27,472.25 519.69,472.29 520.11,472.33 520.53,472.36 520.95,472.38 521.37,472.4 521.79,472.41 522.21,472.41 522.63,472.41 523.05,472.41 523.47,472.41 523.88,472.41 524.3,472.41 524.72,472.41 525.14,472.41 525.56,472.41 525.98,472.41 526.4,472.41 526.82,472.42 527.24,472.43 527.66,472.45 528.08,472.48 528.5,472.51 528.91,472.54 529.33,472.58 529.75,472.63 530.17,472.67 530.59,472.72 531.01,472.79 531.43,472.89 531.85,473.01 532.27,473.14 532.69,473.28 533.11,473.43 533.53,473.57 533.94,473.7 534.36,473.82 534.78,473.93 535.2,474.03 535.62,474.14 536.04,474.24 536.46,474.34 536.88,474.44 537.3,474.53 537.72,474.61 538.14,474.68 538.56,474.74 538.98,474.78 539.39,474.83 539.81,474.87 540.23,474.91 540.65,474.95 541.07,474.98 541.49,475.01 541.91,475.03 542.33,475.04 542.75,475.05 543.17,475.03 543.59,474.96 544.01,474.85 544.42,474.69 544.84,474.5 545.26,474.29 545.68,474.06 546.1,473.81 546.52,473.57 546.94,473.32 547.36,473.07 547.78,472.77 548.2,472.44 548.62,472.09 549.04,471.71 549.45,471.32 549.87,470.92 550.29,470.53 550.71,470.14 551.13,469.78 551.55,469.43 551.97,469.08 552.39,468.74 552.81,468.4 553.23,468.06 553.65,467.71 554.07,467.36 554.49,466.99 554.9,466.61 555.32,466.21 555.74,465.8 556.16,465.39 556.58,464.97 557,464.54 557.42,464.1 557.84,463.63 558.26,463.13 558.68,462.6 559.1,462.03 559.52,461.41 559.93,460.58 560.35,459.59 560.77,458.62 561.19,457.82 561.61,457.35 562.03,457 562.45,456.69 562.87,456.45 563.29,456.31 563.71,456.28 564.13,456.31 564.55,456.38 564.96,456.47 565.38,456.58 565.8,456.72 566.22,456.86 566.64,457.03 567.06,457.19 567.48,457.36 567.9,457.54 568.32,457.74 568.74,457.98 569.16,458.25 569.58,458.54 570,458.85 570.41,459.18 570.83,459.52 571.25,459.88 571.67,460.24 572.09,460.61 572.51,461.01 572.93,461.43 573.35,461.87 573.77,462.34 574.19,462.83 574.61,463.33 575.03,463.85 575.44,464.38 575.86,464.93 576.28,465.49 576.7,466.08 577.12,466.71 577.54,467.36 577.96,468.03 578.38,468.71 578.8,469.4 579.22,470.08 579.64,470.76 580.06,471.43 580.47,472.1 580.89,472.8 581.31,473.51 581.73,474.24 582.15,474.96 582.57,475.65 582.99,476.31 583.41,476.93 583.83,477.49 584.25,477.97 584.67,478.42 585.09,478.89 585.51,479.33 585.92,479.73 586.34,480.05 586.76,480.26 587.18,480.33 587.6,480.28 588.02,480.15 588.44,479.96 588.86,479.71 589.28,479.44 589.7,479.13 590.12,478.82 590.54,478.52 590.95,478.18 591.37,477.79 591.79,477.34 592.21,476.87 592.63,476.36 593.05,475.84 593.47,475.3 593.89,474.77 594.31,474.24 594.73,473.73 595.15,473.22 595.57,472.69 595.98,472.15 596.4,471.6 596.82,471.05 597.24,470.5 597.66,469.96 598.08,469.42 598.5,468.9 598.92,468.39 599.34,467.89 599.76,467.4 600.18,466.91 600.6,466.42 601.02,465.94 601.43,465.47 601.85,465.01 602.27,464.56 602.69,464.11 603.11,463.68 603.53,463.25 603.95,462.82 604.37,462.39 604.79,461.98 605.21,461.56 605.63,461.15 606.05,460.75 606.46,460.36 606.88,459.97 607.3,459.59 607.72,459.21 608.14,458.85 608.56,458.49 608.98,458.14 609.4,457.8 609.82,457.46 610.24,457.13 610.66,456.8 611.08,456.47 611.49,456.15 611.91,455.84 612.33,455.53 612.75,455.22 613.17,454.92 613.59,454.62 614.01,454.33 614.43,454.04 614.85,453.76 615.27,453.48 615.69,453.21 616.11,452.95 616.53,452.69 616.94,452.43 617.36,452.18 617.78,451.94 618.2,451.7 618.62,451.47 619.04,451.24 619.46,451.01 619.88,450.79 620.3,450.57 620.72,450.35 621.14,450.14 621.56,449.93 621.97,449.72 622.39,449.52 622.81,449.32 623.23,449.13 623.65,448.94 624.07,448.75 624.49,448.57 624.91,448.39 625.33,448.21 625.75,448.03 626.17,447.86 626.59,447.68 627,447.51 627.42,447.33 627.84,447.16 628.26,446.99 628.68,446.81 629.1,446.65 629.52,446.48 629.94,446.32 630.36,446.17 630.78,446.02 631.2,445.88 631.62,445.74 632.03,445.61 632.45,445.49 632.87,445.38 633.29,445.27 633.71,445.18 634.13,445.1 634.55,445.02 634.97,444.93 635.39,444.85 635.81,444.78 636.23,444.71 636.65,444.65 637.07,444.6 637.48,444.57 637.9,444.55 638.32,444.56 638.74,444.64 639.16,444.78 639.58,444.98 640,445.22 640.42,445.51 640.84,445.84 641.26,446.19 641.68,446.65 642.1,447.41 642.51,448.41 642.93,449.57 643.35,450.79 643.77,452 644.19,453.11 644.61,454.19 645.03,455.43 645.45,456.64 645.87,457.58 646.29,458.03 646.71,457.96 647.13,457.69 647.54,457.28 647.96,456.81 648.38,456.33 648.8,455.86 649.22,455.34 649.64,454.77 650.06,454.16 650.48,453.5 650.9,452.79 651.32,452.04 651.74,451.25 652.16,450.42" fill="none" stroke="#1a1af0" stroke-width="1.35" stroke-linejoin="round" />
<polyline points="484.9,477.98 485.32,477.97 485.74,477.95 486.16,477.91 486.58,477.86 487,477.79 487.42,477.72 487.83,477.64 488.25,477.56 488.67,477.47 489.09,477.38 489.51,477.27 489.93,477.13 490.35,476.97 490.77,476.78 491.19,476.59 491.61,476.38 492.03,476.17 492.45,475.97 492.86,475.77 493.28,475.59 493.7,475.42 494.12,475.24 494.54,475.07 494.96,474.9 495.38,474.73 495.8,474.56 496.22,474.38 496.64,474.19 497.06,474 497.48,473.8 497.89,473.58 498.31,473.36 498.73,473.12 499.15,472.88 499.57,472.64 499.99,472.39 500.41,472.14 500.83,471.89 501.25,471.65 501.67,471.41 502.09,471.15 502.51,470.87 502.93,470.58 503.34,470.3 503.76,470.02 504.18,469.77 504.6,469.55 505.02,469.36 505.44,469.22 505.86,469.13 506.28,469.04 506.7,468.97 507.12,468.92 507.54,468.89 507.96,468.9 508.37,468.96 508.79,469.06 509.21,469.19 509.63,469.35 510.05,469.53 510.47,469.73 510.89,469.93 511.31,470.13 511.73,470.32 512.15,470.51 512.57,470.73 512.99,470.96 513.4,471.21 513.82,471.47 514.24,471.73 514.66,471.99 515.08,472.24 515.5,472.47 515.92,472.69 516.34,472.9 516.76,473.13 517.18,473.37 517.6,473.61 518.02,473.83 518.44,474.04 518.85,474.21 519.27,474.35 519.69,474.43 520.11,474.46 520.53,474.46 520.95,474.46 521.37,474.46 521.79,474.46 522.21,474.46 522.63,474.38 523.05,474.2 523.47,473.92 523.88,473.58 524.3,473.2 524.72,472.8 525.14,472.41 525.56,472.04 525.98,471.72 526.4,471.48 526.82,471.24 527.24,471 527.66,470.76 528.08,470.53 528.5,470.31 528.91,470.12 529.33,469.96 529.75,469.85 530.17,469.78 530.59,469.77 531.01,469.83 531.43,469.94 531.85,470.09 532.27,470.26 532.69,470.44 533.11,470.69 533.53,471.01 533.94,471.39 534.36,471.81 534.78,472.24 535.2,472.67 535.62,473.08 536.04,473.45 536.46,473.76 536.88,474.01 537.3,474.25 537.72,474.5 538.14,474.74 538.56,474.97 538.98,475.17 539.39,475.35 539.81,475.49 540.23,475.58 540.65,475.63 541.07,475.62 541.49,475.55 541.91,475.43 542.33,475.27 542.75,475.1 543.17,474.88 543.59,474.56 544.01,474.13 544.42,473.63 544.84,473.06 545.26,472.45 545.68,471.8 546.1,471.14 546.52,470.49 546.94,469.86 547.36,469.22 547.78,468.53 548.2,467.8 548.62,467.04 549.04,466.26 549.45,465.49 549.87,464.74 550.29,464.02 550.71,463.35 551.13,462.74 551.55,462.2 551.97,461.69 552.39,461.21 552.81,460.76 553.23,460.32 553.65,459.88 554.07,459.44 554.49,458.98 554.9,458.5 555.32,457.99 555.74,457.45 556.16,456.9 556.58,456.33 557,455.76 557.42,455.16 557.84,454.56 558.26,453.95 558.68,453.32 559.1,452.68 559.52,452.02 559.93,451.22 560.35,450.35 560.77,449.53 561.19,448.9 561.61,448.6 562.03,448.41 562.45,448.26 562.87,448.15 563.29,448.08 563.71,448.08 564.13,448.17 564.55,448.36 564.96,448.63 565.38,448.96 565.8,449.32 566.22,449.72 566.64,450.11 567.06,450.49 567.48,450.84 567.9,451.14 568.32,451.44 568.74,451.74 569.16,452.03 569.58,452.33 570,452.63 570.41,452.92 570.83,453.22 571.25,453.52 571.67,453.82 572.09,454.11 572.51,454.42 572.93,454.72 573.35,455.03 573.77,455.34 574.19,455.64 574.61,455.94 575.03,456.24 575.44,456.52 575.86,456.79 576.28,457.07 576.7,457.37 577.12,457.68 577.54,458 577.96,458.3 578.38,458.58 578.8,458.83 579.22,459.02 579.64,459.16 580.06,459.21 580.47,459.19 580.89,459.11 581.31,458.98 581.73,458.82 582.15,458.64 582.57,458.39 582.99,458 583.41,457.49 583.83,456.88 584.25,456.19 584.67,455.43 585.09,454.63 585.51,453.8 585.92,452.97 586.34,452.15 586.76,451.2 587.18,450.06 587.6,448.82 588.02,447.6 588.44,446.51 588.86,445.63 589.28,445.09 589.7,444.71 590.12,444.37 590.54,444.07 590.95,443.85 591.37,443.71 591.79,443.67 592.21,443.81 592.63,444.09 593.05,444.49 593.47,444.97 593.89,445.48 594.31,445.98 594.73,446.44 595.15,446.95 595.57,447.54 595.98,448.14 596.4,448.72 596.82,449.24 597.24,449.65 597.66,449.91 598.08,450.14 598.5,450.35 598.92,450.54 599.34,450.71 599.76,450.85 600.18,450.94 600.6,450.99 601.02,451 601.43,450.94 601.85,450.84 602.27,450.7 602.69,450.54 603.11,450.35 603.53,450.16 603.95,449.96 604.37,449.77 604.79,449.6 605.21,449.45 605.63,449.29 606.05,449.13 606.46,448.97 606.88,448.82 607.3,448.66 607.72,448.51 608.14,448.36 608.56,448.23 608.98,448.1 609.4,447.99 609.82,447.88 610.24,447.77 610.66,447.67 611.08,447.56 611.49,447.47 611.91,447.37 612.33,447.28 612.75,447.19 613.17,447.1 613.59,447.01 614.01,446.93 614.43,446.84 614.85,446.76 615.27,446.68 615.69,446.61 616.11,446.53 616.53,446.46 616.94,446.38 617.36,446.31 617.78,446.24 618.2,446.17 618.62,446.11 619.04,446.04 619.46,445.97 619.88,445.91 620.3,445.85 620.72,445.79 621.14,445.73 621.56,445.67 621.97,445.61 622.39,445.55 622.81,445.5 623.23,445.44 623.65,445.39 624.07,445.33 624.49,445.28 624.91,445.23 625.33,445.18 625.75,445.13 626.17,445.07 626.59,445.02 627,444.96 627.42,444.9 627.84,444.84 628.26,444.78 628.68,444.72 629.1,444.66 629.52,444.61 629.94,444.55 630.36,444.5 630.78,444.45 631.2,444.41 631.62,444.37 632.03,444.33 632.45,444.31 632.87,444.28 633.29,444.27 633.71,444.26 634.13,444.26 634.55,444.26 634.97,444.26 635.39,444.26 635.81,444.26 636.23,444.26 636.65,444.26 637.07,444.26 637.48,444.26 637.9,444.26 638.32,444.28 638.74,444.43 639.16,444.69 639.58,445.06 640,445.52 640.42,446.06 640.84,446.64 641.26,447.27 641.68,448.04 642.1,449.22 642.51,450.73 642.93,452.45 643.35,454.26 643.77,456.04 644.19,457.69 644.61,459.3 645.03,461.17 645.45,462.98 645.87,464.39 646.29,465.06 646.71,464.96 647.13,464.56 647.54,463.99 647.96,462.97 648.38,461.13 648.8,458.92 649.22,456.79 649.64,455.19 650.06,454.1 650.48,453.08 650.9,452.16 651.32,451.38 651.74,450.79 652.16,450.42" fill="none" stroke="#ee1c24" stroke-width="1.35" stroke-linejoin="round" />
</g>
<rect x="484.9" y="422.8" width="167.3" height="117.3" fill="none" stroke="#808080" stroke-width="0.8"/>
<line x1="484.9" y1="540.1" x2="484.9" y2="542.1" stroke="#808080" stroke-width="0.7" />
<text x="484.9" y="553.8" font-family='"Liberation Sans", sans-serif' font-size="10.4" fill="#222" text-anchor="middle" font-weight="normal" font-style="normal" >600</text>
<line x1="526.3" y1="540.1" x2="526.3" y2="542.1" stroke="#808080" stroke-width="0.7" />
<text x="526.3" y="553.8" font-family='"Liberation Sans", sans-serif' font-size="10.4" fill="#222" text-anchor="middle" font-weight="normal" font-style="normal" >700</text>
<line x1="567.7" y1="540.1" x2="567.7" y2="542.1" stroke="#808080" stroke-width="0.7" />
<text x="567.7" y="553.8" font-family='"Liberation Sans", sans-serif' font-size="10.4" fill="#222" text-anchor="middle" font-weight="normal" font-style="normal" >800</text>
<line x1="609.1" y1="540.1" x2="609.1" y2="542.1" stroke="#808080" stroke-width="0.7" />
<text x="609.1" y="553.8" font-family='"Liberation Sans", sans-serif' font-size="10.4" fill="#222" text-anchor="middle" font-weight="normal" font-style="normal" >900</text>
<line x1="650.5" y1="540.1" x2="650.5" y2="542.1" stroke="#808080" stroke-width="0.7" />
<text x="648.7" y="553.8" font-family='"Liberation Sans", sans-serif' font-size="10.4" fill="#222" text-anchor="middle" font-weight="normal" font-style="normal" >1000</text>
<line x1="652.2" y1="422.85" x2="654.2" y2="422.85" stroke="#808080" stroke-width="0.7" />
<text x="673.6" y="426.65" font-family='"Liberation Sans", sans-serif' font-size="10.4" fill="#222" text-anchor="end" font-weight="normal" font-style="normal" >1.0</text>
<line x1="652.2" y1="452.18" x2="654.2" y2="452.18" stroke="#808080" stroke-width="0.7" />
<text x="673.6" y="455.98" font-family='"Liberation Sans", sans-serif' font-size="10.4" fill="#222" text-anchor="end" font-weight="normal" font-style="normal" >0.5</text>
<line x1="652.2" y1="481.5" x2="654.2" y2="481.5" stroke="#808080" stroke-width="0.7" />
<text x="673.6" y="485.3" font-family='"Liberation Sans", sans-serif' font-size="10.4" fill="#222" text-anchor="end" font-weight="normal" font-style="normal" >0.0</text>
<line x1="652.2" y1="510.82" x2="654.2" y2="510.82" stroke="#808080" stroke-width="0.7" />
<text x="673.6" y="514.62" font-family='"Liberation Sans", sans-serif' font-size="10.4" fill="#222" text-anchor="end" font-weight="normal" font-style="normal" >-0.5</text>
<line x1="652.2" y1="540.15" x2="654.2" y2="540.15" stroke="#808080" stroke-width="0.7" />
<text x="673.6" y="543.95" font-family='"Liberation Sans", sans-serif' font-size="10.4" fill="#222" text-anchor="end" font-weight="normal" font-style="normal" >-1.0</text>
<text x="568" y="564.6" font-family='"Liberation Sans", sans-serif' font-size="10.8" fill="#222" text-anchor="middle" font-weight="normal" font-style="normal" textLength="84.5" lengthAdjust="spacingAndGlyphs">Wavelength [nm]</text>
<text x="0" y="0" font-family='"Liberation Sans", sans-serif' font-size="11" fill="#222" text-anchor="middle" font-weight="normal" font-style="normal" transform="translate(683.2,483.4) rotate(-90)" textLength="70.5" lengthAdjust="spacingAndGlyphs">Transmittance</text>
<text x="648.6" y="537.5" font-family='"Liberation Sans", sans-serif' font-size="11.2" fill="#111" text-anchor="end" font-weight="bold" font-style="normal" >Simulation</text>
<text x="593.3" y="444.2" font-family='"Liberation Sans", sans-serif' font-size="11" fill="#ee1c24" text-anchor="start" font-weight="normal" font-style="normal" >T<tspan font-size="6.3" dy="2">RCP</tspan></text>
<text x="599.7" y="476.2" font-family='"Liberation Sans", sans-serif' font-size="11" fill="#1a1af0" text-anchor="start" font-weight="normal" font-style="normal" >T<tspan font-size="6.3" dy="2">LCP</tspan></text>
<text x="596.6" y="516.6" font-family='"Liberation Sans", sans-serif' font-size="11" fill="#111" text-anchor="start" font-weight="normal" font-style="normal" >ΔT</text>
<rect x="490.7" y="498.55" width="7" height="12.1" fill="#1b8fd8" transform="rotate(33.5 494.2 504.6)"/><rect x="490.7" y="512.2" width="7" height="12.1" fill="#1b8fd8" transform="rotate(33.5 494.2 518.25)"/><rect x="490.7" y="525.85" width="7" height="12.1" fill="#1b8fd8" transform="rotate(33.5 494.2 531.9)"/><rect x="504.5" y="498.55" width="7" height="12.1" fill="#1b8fd8" transform="rotate(33.5 508 504.6)"/><rect x="504.5" y="512.2" width="7" height="12.1" fill="#1b8fd8" transform="rotate(33.5 508 518.25)"/><rect x="504.5" y="525.85" width="7" height="12.1" fill="#1b8fd8" transform="rotate(33.5 508 531.9)"/><rect x="518.3" y="498.55" width="7" height="12.1" fill="#1b8fd8" transform="rotate(33.5 521.8 504.6)"/><rect x="518.3" y="512.2" width="7" height="12.1" fill="#1b8fd8" transform="rotate(33.5 521.8 518.25)"/><rect x="518.3" y="525.85" width="7" height="12.1" fill="#1b8fd8" transform="rotate(33.5 521.8 531.9)"/>
<line x1="497.2" y1="538.3" x2="518.2" y2="498.9" stroke="#666" stroke-width="0.6" stroke-dasharray="0.9 1.1"/>
<line x1="507.5" y1="538" x2="507.5" y2="500" stroke="#3a78a8" stroke-width="0.4" stroke-dasharray="0.9 1.1"/>
<line x1="484.9" y1="534.28" x2="486.4" y2="534.28" stroke="#808080" stroke-width="0.6" />
<line x1="484.9" y1="528.42" x2="486.4" y2="528.42" stroke="#808080" stroke-width="0.6" />
<line x1="484.9" y1="522.55" x2="486.4" y2="522.55" stroke="#808080" stroke-width="0.6" />
<line x1="484.9" y1="516.69" x2="486.4" y2="516.69" stroke="#808080" stroke-width="0.6" />
<line x1="484.9" y1="510.82" x2="486.4" y2="510.82" stroke="#808080" stroke-width="0.6" />
<line x1="484.9" y1="504.96" x2="486.4" y2="504.96" stroke="#808080" stroke-width="0.6" />
<line x1="484.9" y1="499.09" x2="486.4" y2="499.09" stroke="#808080" stroke-width="0.6" />
<line x1="484.9" y1="493.23" x2="486.4" y2="493.23" stroke="#808080" stroke-width="0.6" />
<line x1="484.9" y1="487.37" x2="486.4" y2="487.37" stroke="#808080" stroke-width="0.6" />
<line x1="484.9" y1="481.5" x2="486.4" y2="481.5" stroke="#808080" stroke-width="0.6" />
<line x1="484.9" y1="475.63" x2="486.4" y2="475.63" stroke="#808080" stroke-width="0.6" />
<line x1="484.9" y1="469.77" x2="486.4" y2="469.77" stroke="#808080" stroke-width="0.6" />
<line x1="484.9" y1="463.9" x2="486.4" y2="463.9" stroke="#808080" stroke-width="0.6" />
<line x1="484.9" y1="458.04" x2="486.4" y2="458.04" stroke="#808080" stroke-width="0.6" />
<line x1="484.9" y1="452.18" x2="486.4" y2="452.18" stroke="#808080" stroke-width="0.6" />
<line x1="484.9" y1="446.31" x2="486.4" y2="446.31" stroke="#808080" stroke-width="0.6" />
<line x1="484.9" y1="440.44" x2="486.4" y2="440.44" stroke="#808080" stroke-width="0.6" />
<line x1="484.9" y1="434.58" x2="486.4" y2="434.58" stroke="#808080" stroke-width="0.6" />
<line x1="484.9" y1="428.71" x2="486.4" y2="428.71" stroke="#808080" stroke-width="0.6" />
<line x1="505.6" y1="540.1" x2="505.6" y2="541.4" stroke="#808080" stroke-width="0.6" />
<line x1="547" y1="540.1" x2="547" y2="541.4" stroke="#808080" stroke-width="0.6" />
<line x1="588.4" y1="540.1" x2="588.4" y2="541.4" stroke="#808080" stroke-width="0.6" />
<line x1="629.8" y1="540.1" x2="629.8" y2="541.4" stroke="#808080" stroke-width="0.6" />
</g>
</svg></body></html>
